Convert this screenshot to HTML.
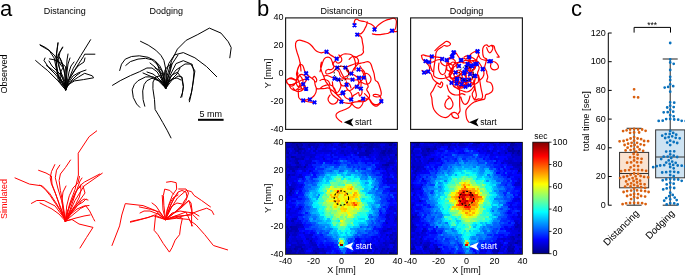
<!DOCTYPE html>
<html><head><meta charset="utf-8"><style>
html,body{margin:0;padding:0;background:#fff;width:685px;height:275px;overflow:hidden}
svg{display:block;will-change:transform}
text{font-family:"Liberation Sans",sans-serif}
</style></head><body>
<svg width="685" height="275" viewBox="0 0 685 275">
<text x="0" y="15.9" font-size="22" text-anchor="start" fill="#000">a</text>
<text x="257" y="15.9" font-size="22" text-anchor="start" fill="#000">b</text>
<text x="571" y="15.9" font-size="22" text-anchor="start" fill="#000">c</text>
<text x="64.8" y="14.1" font-size="9" text-anchor="middle" fill="#000">Distancing</text>
<text x="166.2" y="14.1" font-size="9" text-anchor="middle" fill="#000">Dodging</text>
<text x="7.4" y="74" font-size="9" text-anchor="middle" fill="#000" transform="rotate(-90 7.4 74)">Observed</text>
<text x="7.4" y="199" font-size="9" text-anchor="middle" fill="#ff0000" transform="rotate(-90 7.4 199)">Simulated</text>
<rect x="198" y="118.8" width="25.6" height="2" fill="#000"/>
<text x="210.8" y="116.8" font-size="9" text-anchor="middle" fill="#000">5 mm</text>
<text x="341.5" y="14.1" font-size="9" text-anchor="middle" fill="#000">Distancing</text>
<text x="466.5" y="14.1" font-size="9" text-anchor="middle" fill="#000">Dodging</text>
<text x="283.5" y="20.2" font-size="9" text-anchor="end" fill="#000">40</text>
<text x="283.5" y="48.2" font-size="9" text-anchor="end" fill="#000">20</text>
<text x="283.5" y="76.2" font-size="9" text-anchor="end" fill="#000">0</text>
<text x="283.5" y="104.2" font-size="9" text-anchor="end" fill="#000">-20</text>
<text x="283.5" y="132.2" font-size="9" text-anchor="end" fill="#000">-40</text>
<text x="271.0" y="73.5" font-size="9.4" text-anchor="middle" fill="#000" transform="rotate(-90 271.0 73.5)">Y [mm]</text>
<text x="283.5" y="145.0" font-size="9" text-anchor="end" fill="#000">40</text>
<text x="283.5" y="173.0" font-size="9" text-anchor="end" fill="#000">20</text>
<text x="283.5" y="201.0" font-size="9" text-anchor="end" fill="#000">0</text>
<text x="283.5" y="229.0" font-size="9" text-anchor="end" fill="#000">-20</text>
<text x="283.5" y="257.0" font-size="9" text-anchor="end" fill="#000">-40</text>
<text x="271.0" y="198.3" font-size="9.4" text-anchor="middle" fill="#000" transform="rotate(-90 271.0 198.3)">Y [mm]</text>
<text x="285.5" y="264.2" font-size="9" text-anchor="middle" fill="#000">-40</text>
<text x="313.5" y="264.2" font-size="9" text-anchor="middle" fill="#000">-20</text>
<text x="341.5" y="264.2" font-size="9" text-anchor="middle" fill="#000">0</text>
<text x="369.5" y="264.2" font-size="9" text-anchor="middle" fill="#000">20</text>
<text x="397.5" y="264.2" font-size="9" text-anchor="middle" fill="#000">40</text>
<text x="341.5" y="272.8" font-size="9" text-anchor="middle" fill="#000">X [mm]</text>
<text x="410.5" y="264.2" font-size="9" text-anchor="middle" fill="#000">-40</text>
<text x="438.5" y="264.2" font-size="9" text-anchor="middle" fill="#000">-20</text>
<text x="466.5" y="264.2" font-size="9" text-anchor="middle" fill="#000">0</text>
<text x="494.5" y="264.2" font-size="9" text-anchor="middle" fill="#000">20</text>
<text x="522.5" y="264.2" font-size="9" text-anchor="middle" fill="#000">40</text>
<text x="466.5" y="272.8" font-size="9" text-anchor="middle" fill="#000">X [mm]</text>
<g transform="translate(285.5 142.3) scale(2.3333 2.0000)" shape-rendering="crispEdges">
<path fill="#000090" d="M24 0h1v1h-1zM45 0h1v1h-1zM4.5 1h1v1h-1zM44.5 1h1v1h-1zM5 2h1v1h-1zM5.5 3h1v1h-1zM47 6h1v1h-1zM44.5 55h1v1h-1z"/>
<path fill="#0000a0" d="M3 0h1v1h-1zM6 0h1v1h-1zM27 0h1v1h-1zM31 0h1v1h-1zM36 0h2v1h-2zM44 0h1v1h-1zM6.5 1h1v1h-1zM9.5 1h1v1h-1zM30.5 1h1v1h-1zM33.5 1h2v1h-2zM36.5 1h1v1h-1zM46.5 1h1v1h-1zM31 2h2v1h-2zM36 2h1v1h-1zM0 3h0.5v1h-0.5zM3.5 3h1v1h-1zM6.5 3h1v1h-1zM47.5 3h0.5v1h-0.5zM5 4h1v1h-1zM34 4h1v1h-1zM42 4h1v1h-1zM44 4h1v1h-1zM0.5 5h1v1h-1zM41.5 5h1v1h-1zM2.5 7h1v1h-1zM5 10h1v1h-1zM42.5 11h2v1h-2zM5 12h1v1h-1zM8 12h1v1h-1zM0 13h0.5v1h-0.5zM1 16h1v1h-1zM2 24h1v1h-1zM2 42h1v1h-1zM0.5 45h1v1h-1zM0 46h1v1h-1zM0 47h1.5v1h-1.5zM0 48h1v1h-1zM46 50h1v1h-1zM0 53h0.5v1h-0.5zM3.5 53h1v1h-1zM6.5 53h1v1h-1zM0 54h3v1h-3zM0.5 55h2v1h-2zM12.5 55h1v1h-1zM45.5 55h1v1h-1z"/>
<path fill="#0000b0" d="M4 0h2v1h-2zM10 0h3v1h-3zM17 0h3v1h-3zM25 0h1v1h-1zM28 0h1v1h-1zM39 0h2v1h-2zM43 0h1v1h-1zM0 1h0.5v1h-0.5zM2.5 1h2v1h-2zM5.5 1h1v1h-1zM10.5 1h2v1h-2zM13.5 1h1v1h-1zM23.5 1h1v1h-1zM27.5 1h2v1h-2zM31.5 1h1v1h-1zM35.5 1h1v1h-1zM37.5 1h2v1h-2zM0 2h2v1h-2zM3 2h2v1h-2zM6 2h1v1h-1zM10 2h1v1h-1zM13 2h1v1h-1zM25 2h1v1h-1zM35 2h1v1h-1zM37 2h1v1h-1zM39 2h1v1h-1zM4.5 3h1v1h-1zM7.5 3h1v1h-1zM12.5 3h1v1h-1zM31.5 3h1v1h-1zM34.5 3h3v1h-3zM42.5 3h1v1h-1zM44.5 3h1v1h-1zM0 4h1v1h-1zM4 4h1v1h-1zM35 4h1v1h-1zM41 4h1v1h-1zM45 4h1v1h-1zM0 5h0.5v1h-0.5zM5.5 5h1v1h-1zM34.5 5h2v1h-2zM40.5 5h1v1h-1zM43.5 5h2v1h-2zM47.5 5h0.5v1h-0.5zM34 6h2v1h-2zM42 6h1v1h-1zM0.5 7h1v1h-1zM3.5 7h1v1h-1zM4 8h2v1h-2zM7 8h1v1h-1zM4.5 9h1v1h-1zM4 10h1v1h-1zM44 10h2v1h-2zM0 11h0.5v1h-0.5zM41.5 11h1v1h-1zM0 12h3v1h-3zM4 12h1v1h-1zM1.5 13h2v1h-2zM3 14h1v1h-1zM0.5 17h1v1h-1zM0 18h1v1h-1zM1.5 23h2v1h-2zM1.5 25h1v1h-1zM47 38h1v1h-1zM2.5 39h1v1h-1zM0 42h1v1h-1zM3 42h2v1h-2zM0.5 43h1v1h-1zM2.5 43h3v1h-3zM1 44h2v1h-2zM4 44h1v1h-1zM1 46h1v1h-1zM45 46h1v1h-1zM47.5 47h0.5v1h-0.5zM45 48h1v1h-1zM47 48h1v1h-1zM0 49h1.5v1h-1.5zM10.5 49h1v1h-1zM46.5 49h1v1h-1zM45 50h1v1h-1zM4 52h3v1h-3zM46 52h1v1h-1zM1.5 53h1v1h-1zM4.5 53h1v1h-1zM13.5 53h1v1h-1zM35.5 53h1v1h-1zM41.5 53h1v1h-1zM43.5 53h1v1h-1zM4 54h1v1h-1zM6 54h2v1h-2zM12 54h1v1h-1zM41 54h1v1h-1zM43 54h1v1h-1zM46 54h1v1h-1zM0 55h0.5v1h-0.5zM2.5 55h2v1h-2zM5.5 55h1v1h-1zM40.5 55h1v1h-1zM46.5 55h1.5v1h-1.5z"/>
<path fill="#0000c0" d="M0 0h1v1h-1zM2 0h1v1h-1zM7 0h3v1h-3zM13 0h2v1h-2zM16 0h1v1h-1zM23 0h1v1h-1zM29 0h2v1h-2zM32 0h1v1h-1zM34 0h2v1h-2zM38 0h1v1h-1zM41 0h2v1h-2zM46 0h1v1h-1zM0.5 1h2v1h-2zM8.5 1h1v1h-1zM12.5 1h1v1h-1zM16.5 1h1v1h-1zM19.5 1h1v1h-1zM22.5 1h1v1h-1zM26.5 1h1v1h-1zM29.5 1h1v1h-1zM32.5 1h1v1h-1zM39.5 1h1v1h-1zM42.5 1h2v1h-2zM45.5 1h1v1h-1zM47.5 1h0.5v1h-0.5zM2 2h1v1h-1zM9 2h1v1h-1zM12 2h1v1h-1zM24 2h1v1h-1zM28 2h2v1h-2zM33 2h2v1h-2zM38 2h1v1h-1zM40 2h1v1h-1zM42 2h2v1h-2zM45 2h2v1h-2zM28.5 3h1v1h-1zM30.5 3h1v1h-1zM39.5 3h2v1h-2zM43.5 3h1v1h-1zM1 4h1v1h-1zM6 4h1v1h-1zM8 4h1v1h-1zM12 4h1v1h-1zM24 4h1v1h-1zM36 4h2v1h-2zM43 4h1v1h-1zM46 4h2v1h-2zM3.5 5h1v1h-1zM7.5 5h1v1h-1zM29.5 5h1v1h-1zM31.5 5h3v1h-3zM42.5 5h1v1h-1zM45.5 5h2v1h-2zM1 6h1v1h-1zM25 6h1v1h-1zM31 6h3v1h-3zM40 6h2v1h-2zM44 6h1v1h-1zM0 7h0.5v1h-0.5zM6.5 7h2v1h-2zM10.5 7h1v1h-1zM40.5 7h1v1h-1zM44.5 7h1v1h-1zM46.5 7h1.5v1h-1.5zM1 8h1v1h-1zM6 8h1v1h-1zM41 8h1v1h-1zM45 8h2v1h-2zM1.5 9h1v1h-1zM3.5 9h1v1h-1zM44.5 9h2v1h-2zM0 10h1v1h-1zM43 10h1v1h-1zM46 10h1v1h-1zM0.5 11h2v1h-2zM4.5 11h2v1h-2zM8.5 11h1v1h-1zM3 12h1v1h-1zM6 12h1v1h-1zM43 12h1v1h-1zM3.5 13h2v1h-2zM42.5 13h1v1h-1zM45.5 13h1v1h-1zM47.5 13h0.5v1h-0.5zM1 14h1v1h-1zM0 15h0.5v1h-0.5zM47.5 15h0.5v1h-0.5zM0 16h1v1h-1zM3 16h1v1h-1zM0 19h0.5v1h-0.5zM0 20h1v1h-1zM0.5 21h1v1h-1zM1 22h2v1h-2zM0 23h0.5v1h-0.5zM2 26h1v1h-1zM47.5 37h0.5v1h-0.5zM3 38h2v1h-2zM43 40h1v1h-1zM4.5 41h2v1h-2zM5 42h1v1h-1zM43.5 43h2v1h-2zM0 44h1v1h-1zM3 44h1v1h-1zM5 44h1v1h-1zM42 44h1v1h-1zM0 45h0.5v1h-0.5zM3.5 45h1v1h-1zM45.5 45h2v1h-2zM3 46h2v1h-2zM43 46h1v1h-1zM47 46h1v1h-1zM44.5 47h1v1h-1zM9 48h1v1h-1zM4.5 49h1v1h-1zM6.5 49h1v1h-1zM45.5 49h1v1h-1zM47.5 49h0.5v1h-0.5zM0 50h1v1h-1zM5 50h1v1h-1zM11 50h1v1h-1zM42 50h1v1h-1zM47 50h1v1h-1zM2.5 51h2v1h-2zM5.5 51h3v1h-3zM11.5 51h2v1h-2zM42.5 51h1v1h-1zM46.5 51h1v1h-1zM2 52h1v1h-1zM47 52h1v1h-1zM0.5 53h1v1h-1zM2.5 53h1v1h-1zM7.5 53h1v1h-1zM12.5 53h1v1h-1zM15.5 53h1v1h-1zM38.5 53h1v1h-1zM45.5 53h2.5v1h-2.5zM3 54h1v1h-1zM13 54h4v1h-4zM35 54h2v1h-2zM42 54h1v1h-1zM45 54h1v1h-1zM6.5 55h2v1h-2zM11.5 55h1v1h-1zM13.5 55h1v1h-1zM16.5 55h1v1h-1zM28.5 55h2v1h-2zM41.5 55h2v1h-2z"/>
<path fill="#0000d0" d="M1 0h1v1h-1zM15 0h1v1h-1zM20 0h1v1h-1zM26 0h1v1h-1zM7.5 1h1v1h-1zM14.5 1h1v1h-1zM17.5 1h1v1h-1zM24.5 1h1v1h-1zM7 2h2v1h-2zM14 2h1v1h-1zM17 2h1v1h-1zM21 2h1v1h-1zM30 2h1v1h-1zM44 2h1v1h-1zM47 2h1v1h-1zM0.5 3h1v1h-1zM2.5 3h1v1h-1zM8.5 3h1v1h-1zM10.5 3h1v1h-1zM15.5 3h2v1h-2zM22.5 3h1v1h-1zM33.5 3h1v1h-1zM38.5 3h1v1h-1zM41.5 3h1v1h-1zM45.5 3h2v1h-2zM3 4h1v1h-1zM10 4h1v1h-1zM14 4h6v1h-6zM26 4h1v1h-1zM28 4h5v1h-5zM39 4h2v1h-2zM2.5 5h1v1h-1zM6.5 5h1v1h-1zM8.5 5h2v1h-2zM12.5 5h1v1h-1zM19.5 5h1v1h-1zM23.5 5h2v1h-2zM26.5 5h1v1h-1zM36.5 5h1v1h-1zM39.5 5h1v1h-1zM0 6h1v1h-1zM2 6h1v1h-1zM5 6h2v1h-2zM8 6h5v1h-5zM43 6h1v1h-1zM1.5 7h1v1h-1zM4.5 7h2v1h-2zM11.5 7h1v1h-1zM31.5 7h1v1h-1zM35.5 7h1v1h-1zM39.5 7h1v1h-1zM41.5 7h2v1h-2zM45.5 7h1v1h-1zM0 8h1v1h-1zM3 8h1v1h-1zM10 8h1v1h-1zM16 8h1v1h-1zM39 8h2v1h-2zM43 8h1v1h-1zM47 8h1v1h-1zM0 9h1.5v1h-1.5zM2.5 9h1v1h-1zM8.5 9h3v1h-3zM40.5 9h3v1h-3zM3 10h1v1h-1zM9 10h2v1h-2zM44.5 11h2v1h-2zM7 12h1v1h-1zM41 12h2v1h-2zM44 12h1v1h-1zM47 12h1v1h-1zM0.5 13h1v1h-1zM6.5 13h2v1h-2zM39.5 13h1v1h-1zM0 14h1v1h-1zM8 14h1v1h-1zM10 14h1v1h-1zM43 14h1v1h-1zM46 14h2v1h-2zM3.5 15h1v1h-1zM43.5 15h1v1h-1zM2 16h1v1h-1zM6 16h1v1h-1zM44 16h1v1h-1zM0 17h0.5v1h-0.5zM1.5 17h1v1h-1zM5.5 17h2v1h-2zM47.5 17h0.5v1h-0.5zM1 18h1v1h-1zM43 18h3v1h-3zM43.5 19h1v1h-1zM45.5 19h1v1h-1zM3 20h1v1h-1zM45 20h3v1h-3zM0 21h0.5v1h-0.5zM2.5 21h2v1h-2zM3 22h1v1h-1zM0.5 23h1v1h-1zM3.5 23h1v1h-1zM46.5 23h1v1h-1zM0 24h1v1h-1zM45 24h2v1h-2zM2.5 25h1v1h-1zM1 26h1v1h-1zM0 27h0.5v1h-0.5zM0 29h0.5v1h-0.5zM47.5 29h0.5v1h-0.5zM0 30h1v1h-1zM45 32h1v1h-1zM1.5 33h1v1h-1zM5.5 33h1v1h-1zM44.5 33h1v1h-1zM46.5 33h1v1h-1zM1 34h1v1h-1zM47 34h1v1h-1zM43 36h2v1h-2zM43.5 37h1v1h-1zM46.5 37h1v1h-1zM0 38h1v1h-1zM44 38h1v1h-1zM0 39h1.5v1h-1.5zM46.5 39h1.5v1h-1.5zM3 40h1v1h-1zM5 40h1v1h-1zM0 41h1.5v1h-1.5zM2.5 41h2v1h-2zM6.5 41h1v1h-1zM1 42h1v1h-1zM6 42h2v1h-2zM0 43h0.5v1h-0.5zM1.5 43h1v1h-1zM46.5 43h1v1h-1zM43 44h1v1h-1zM1.5 45h2v1h-2zM4.5 45h1v1h-1zM7.5 45h1v1h-1zM47.5 45h0.5v1h-0.5zM10 46h2v1h-2zM46 46h1v1h-1zM3.5 47h1v1h-1zM45.5 47h2v1h-2zM3 48h2v1h-2zM11 48h1v1h-1zM46 48h1v1h-1zM2.5 49h2v1h-2zM5.5 49h1v1h-1zM39.5 49h1v1h-1zM42.5 49h1v1h-1zM44.5 49h1v1h-1zM1 50h2v1h-2zM6 50h1v1h-1zM10 50h1v1h-1zM12 50h1v1h-1zM34 50h1v1h-1zM36 50h1v1h-1zM43 50h2v1h-2zM0 51h0.5v1h-0.5zM4.5 51h1v1h-1zM10.5 51h1v1h-1zM34.5 51h1v1h-1zM37.5 51h1v1h-1zM40.5 51h1v1h-1zM43.5 51h1v1h-1zM47.5 51h0.5v1h-0.5zM0 52h2v1h-2zM3 52h1v1h-1zM8 52h1v1h-1zM10 52h1v1h-1zM12 52h2v1h-2zM36 52h1v1h-1zM38 52h1v1h-1zM40 52h4v1h-4zM5.5 53h1v1h-1zM8.5 53h1v1h-1zM11.5 53h1v1h-1zM14.5 53h1v1h-1zM40.5 53h1v1h-1zM42.5 53h1v1h-1zM44.5 53h1v1h-1zM5 54h1v1h-1zM8 54h1v1h-1zM17 54h1v1h-1zM31 54h1v1h-1zM33 54h1v1h-1zM38 54h1v1h-1zM40 54h1v1h-1zM44 54h1v1h-1zM47 54h1v1h-1zM4.5 55h1v1h-1zM10.5 55h1v1h-1zM15.5 55h1v1h-1zM31.5 55h2v1h-2zM37.5 55h1v1h-1z"/>
<path fill="#0000e1" d="M33 0h1v1h-1zM47 0h1v1h-1zM15.5 1h1v1h-1zM18.5 1h1v1h-1zM20.5 1h1v1h-1zM25.5 1h1v1h-1zM40.5 1h2v1h-2zM16 2h1v1h-1zM18 2h2v1h-2zM22 2h2v1h-2zM26 2h1v1h-1zM41 2h1v1h-1zM1.5 3h1v1h-1zM11.5 3h1v1h-1zM13.5 3h1v1h-1zM17.5 3h1v1h-1zM21.5 3h1v1h-1zM23.5 3h2v1h-2zM26.5 3h2v1h-2zM32.5 3h1v1h-1zM7 4h1v1h-1zM9 4h1v1h-1zM21 4h1v1h-1zM23 4h1v1h-1zM25 4h1v1h-1zM27 4h1v1h-1zM33 4h1v1h-1zM38 4h1v1h-1zM1.5 5h1v1h-1zM4.5 5h1v1h-1zM10.5 5h1v1h-1zM13.5 5h2v1h-2zM16.5 5h2v1h-2zM20.5 5h1v1h-1zM22.5 5h1v1h-1zM25.5 5h1v1h-1zM28.5 5h1v1h-1zM37.5 5h2v1h-2zM3 6h2v1h-2zM7 6h1v1h-1zM19 6h1v1h-1zM21 6h1v1h-1zM26 6h1v1h-1zM30 6h1v1h-1zM36 6h2v1h-2zM39 6h1v1h-1zM45 6h2v1h-2zM8.5 7h2v1h-2zM15.5 7h1v1h-1zM19.5 7h1v1h-1zM34.5 7h1v1h-1zM38.5 7h1v1h-1zM43.5 7h1v1h-1zM2 8h1v1h-1zM8 8h1v1h-1zM11 8h2v1h-2zM42 8h1v1h-1zM5.5 9h1v1h-1zM36.5 9h1v1h-1zM43.5 9h1v1h-1zM46.5 9h1v1h-1zM1 10h2v1h-2zM6 10h1v1h-1zM8 10h1v1h-1zM12 10h1v1h-1zM40 10h3v1h-3zM47 10h1v1h-1zM2.5 11h2v1h-2zM6.5 11h1v1h-1zM40.5 11h1v1h-1zM47.5 11h0.5v1h-0.5zM9 12h1v1h-1zM11 12h1v1h-1zM40 12h1v1h-1zM46 12h1v1h-1zM5.5 13h1v1h-1zM8.5 13h1v1h-1zM41.5 13h1v1h-1zM43.5 13h1v1h-1zM46.5 13h1v1h-1zM2 14h1v1h-1zM4 14h1v1h-1zM7 14h1v1h-1zM44 14h2v1h-2zM0.5 15h3v1h-3zM41.5 15h1v1h-1zM46.5 15h1v1h-1zM4 16h1v1h-1zM43 16h1v1h-1zM47 16h1v1h-1zM4.5 17h1v1h-1zM43.5 17h1v1h-1zM46.5 17h1v1h-1zM2 18h3v1h-3zM1.5 19h2v1h-2zM44.5 19h1v1h-1zM46.5 19h1v1h-1zM4 20h1v1h-1zM43 20h2v1h-2zM4.5 21h1v1h-1zM6.5 21h1v1h-1zM0 22h1v1h-1zM4 22h1v1h-1zM6 22h1v1h-1zM1 24h1v1h-1zM3 24h1v1h-1zM47 24h1v1h-1zM0.5 25h1v1h-1zM0 26h1v1h-1zM47 26h1v1h-1zM4.5 27h1v1h-1zM47.5 27h0.5v1h-0.5zM47 28h1v1h-1zM0.5 29h1v1h-1zM2.5 29h1v1h-1zM3 32h1v1h-1zM6 32h1v1h-1zM46 32h1v1h-1zM0 33h0.5v1h-0.5zM45.5 33h1v1h-1zM4 34h1v1h-1zM46 34h1v1h-1zM0 35h4.5v1h-4.5zM44.5 35h1v1h-1zM47.5 35h0.5v1h-0.5zM2 36h1v1h-1zM46 36h2v1h-2zM3.5 37h2v1h-2zM42.5 37h1v1h-1zM2 38h1v1h-1zM43 38h1v1h-1zM46 38h1v1h-1zM1.5 39h1v1h-1zM3.5 39h1v1h-1zM5.5 39h1v1h-1zM42.5 39h1v1h-1zM0 40h3v1h-3zM4 40h1v1h-1zM6 40h1v1h-1zM46 40h2v1h-2zM1.5 41h1v1h-1zM47.5 41h0.5v1h-0.5zM42 42h1v1h-1zM45 42h3v1h-3zM41.5 43h2v1h-2zM45.5 43h1v1h-1zM47.5 43h0.5v1h-0.5zM41 44h1v1h-1zM44 44h2v1h-2zM47 44h1v1h-1zM5.5 45h1v1h-1zM40.5 45h2v1h-2zM2 46h1v1h-1zM5 46h1v1h-1zM8 46h2v1h-2zM41 46h1v1h-1zM44 46h1v1h-1zM2.5 47h1v1h-1zM5.5 47h1v1h-1zM8.5 47h3v1h-3zM40.5 47h1v1h-1zM42.5 47h1v1h-1zM1 48h2v1h-2zM5 48h2v1h-2zM10 48h1v1h-1zM42 48h1v1h-1zM1.5 49h1v1h-1zM9.5 49h1v1h-1zM11.5 49h1v1h-1zM30.5 49h1v1h-1zM43.5 49h1v1h-1zM3 50h2v1h-2zM7 50h1v1h-1zM35 50h1v1h-1zM40 50h2v1h-2zM0.5 51h1v1h-1zM8.5 51h2v1h-2zM15.5 51h1v1h-1zM33.5 51h1v1h-1zM36.5 51h1v1h-1zM39.5 51h1v1h-1zM41.5 51h1v1h-1zM45.5 51h1v1h-1zM7 52h1v1h-1zM9 52h1v1h-1zM11 52h1v1h-1zM18 52h1v1h-1zM33 52h3v1h-3zM37 52h1v1h-1zM39 52h1v1h-1zM44 52h1v1h-1zM16.5 53h3v1h-3zM34.5 53h1v1h-1zM37.5 53h1v1h-1zM39.5 53h1v1h-1zM11 54h1v1h-1zM30 54h1v1h-1zM39 54h1v1h-1zM8.5 55h2v1h-2zM14.5 55h1v1h-1zM27.5 55h1v1h-1zM30.5 55h1v1h-1zM33.5 55h2v1h-2zM38.5 55h1v1h-1zM43.5 55h1v1h-1z"/>
<path fill="#0000f1" d="M21 0h2v1h-2zM21.5 1h1v1h-1zM11 2h1v1h-1zM15 2h1v1h-1zM20 2h1v1h-1zM27 2h1v1h-1zM14.5 3h1v1h-1zM18.5 3h2v1h-2zM25.5 3h1v1h-1zM29.5 3h1v1h-1zM37.5 3h1v1h-1zM2 4h1v1h-1zM11 4h1v1h-1zM13 4h1v1h-1zM20 4h1v1h-1zM22 4h1v1h-1zM11.5 5h1v1h-1zM15.5 5h1v1h-1zM18.5 5h1v1h-1zM27.5 5h1v1h-1zM13 6h2v1h-2zM16 6h1v1h-1zM22 6h3v1h-3zM27 6h1v1h-1zM38 6h1v1h-1zM14.5 7h1v1h-1zM22.5 7h1v1h-1zM27.5 7h1v1h-1zM32.5 7h1v1h-1zM36.5 7h1v1h-1zM9 8h1v1h-1zM13 8h2v1h-2zM21 8h2v1h-2zM26 8h1v1h-1zM29 8h1v1h-1zM36 8h2v1h-2zM44 8h1v1h-1zM6.5 9h2v1h-2zM16.5 9h2v1h-2zM19.5 9h1v1h-1zM33.5 9h3v1h-3zM38.5 9h2v1h-2zM7 10h1v1h-1zM11 10h1v1h-1zM34 10h1v1h-1zM7.5 11h1v1h-1zM9.5 11h2v1h-2zM38.5 11h2v1h-2zM46.5 11h1v1h-1zM10 12h1v1h-1zM39 12h1v1h-1zM45 12h1v1h-1zM38.5 13h1v1h-1zM44.5 13h1v1h-1zM11 14h1v1h-1zM4.5 15h1v1h-1zM6.5 15h1v1h-1zM9.5 15h1v1h-1zM42.5 15h1v1h-1zM44.5 15h2v1h-2zM5 16h1v1h-1zM42 16h1v1h-1zM46 16h1v1h-1zM2.5 17h2v1h-2zM41.5 17h1v1h-1zM7 18h1v1h-1zM42 18h1v1h-1zM47 18h1v1h-1zM0.5 19h1v1h-1zM4.5 19h1v1h-1zM41.5 19h1v1h-1zM47.5 19h0.5v1h-0.5zM2 20h1v1h-1zM42 20h1v1h-1zM5.5 21h1v1h-1zM43.5 21h1v1h-1zM5 22h1v1h-1zM45 22h1v1h-1zM4.5 23h1v1h-1zM44.5 23h2v1h-2zM47.5 23h0.5v1h-0.5zM6 24h1v1h-1zM0 25h0.5v1h-0.5zM3 26h1v1h-1zM46 26h1v1h-1zM0.5 27h4v1h-4zM0 28h2v1h-2zM45 28h1v1h-1zM3.5 29h1v1h-1zM44.5 29h1v1h-1zM1.5 31h2v1h-2zM46.5 31h1v1h-1zM47 32h1v1h-1zM0.5 33h1v1h-1zM2.5 33h1v1h-1zM4.5 33h1v1h-1zM47.5 33h0.5v1h-0.5zM2 34h2v1h-2zM5 34h1v1h-1zM43 34h3v1h-3zM4.5 35h1v1h-1zM43.5 35h1v1h-1zM45.5 35h1v1h-1zM1 36h1v1h-1zM3 36h4v1h-4zM45 36h1v1h-1zM0.5 37h1v1h-1zM2.5 37h1v1h-1zM44.5 37h2v1h-2zM45 38h1v1h-1zM4.5 39h1v1h-1zM43.5 39h3v1h-3zM42 40h1v1h-1zM44 40h2v1h-2zM42.5 41h4v1h-4zM43 42h1v1h-1zM5.5 43h3v1h-3zM40 44h1v1h-1zM46 44h1v1h-1zM6.5 45h1v1h-1zM10.5 45h2v1h-2zM42.5 45h1v1h-1zM44.5 45h1v1h-1zM42 46h1v1h-1zM1.5 47h1v1h-1zM4.5 47h1v1h-1zM12.5 47h1v1h-1zM37.5 47h2v1h-2zM41.5 47h1v1h-1zM7 48h1v1h-1zM12 48h2v1h-2zM30 48h2v1h-2zM37 48h1v1h-1zM39 48h2v1h-2zM43 48h2v1h-2zM8.5 49h1v1h-1zM34.5 49h1v1h-1zM36.5 49h2v1h-2zM40.5 49h2v1h-2zM9 50h1v1h-1zM30 50h1v1h-1zM39 50h1v1h-1zM14.5 51h1v1h-1zM32.5 51h1v1h-1zM38.5 51h1v1h-1zM44.5 51h1v1h-1zM15 52h2v1h-2zM19 52h1v1h-1zM45 52h1v1h-1zM9.5 53h2v1h-2zM32.5 53h2v1h-2zM36.5 53h1v1h-1zM18 54h2v1h-2zM29 54h1v1h-1zM32 54h1v1h-1zM34 54h1v1h-1zM21.5 55h1v1h-1zM35.5 55h2v1h-2zM39.5 55h1v1h-1z"/>
<path fill="#0002ff" d="M9.5 3h1v1h-1zM21.5 5h1v1h-1zM15 6h1v1h-1zM17 6h1v1h-1zM29 6h1v1h-1zM12.5 7h2v1h-2zM16.5 7h3v1h-3zM23.5 7h3v1h-3zM37.5 7h1v1h-1zM15 8h1v1h-1zM17 8h1v1h-1zM19 8h2v1h-2zM33 8h1v1h-1zM14.5 9h2v1h-2zM18.5 9h1v1h-1zM29.5 9h1v1h-1zM32.5 9h1v1h-1zM37.5 9h1v1h-1zM15 10h1v1h-1zM19 10h1v1h-1zM21 10h1v1h-1zM37 10h1v1h-1zM9.5 13h3v1h-3zM40.5 13h1v1h-1zM5 14h1v1h-1zM9 14h1v1h-1zM42 14h1v1h-1zM5.5 15h1v1h-1zM7.5 15h2v1h-2zM11.5 15h1v1h-1zM40.5 15h1v1h-1zM7 16h2v1h-2zM12 16h1v1h-1zM7.5 17h1v1h-1zM42.5 17h1v1h-1zM44.5 17h1v1h-1zM5 18h1v1h-1zM46 18h1v1h-1zM3.5 19h1v1h-1zM42.5 19h1v1h-1zM1 20h1v1h-1zM5 20h1v1h-1zM44.5 21h3.5v1h-3.5zM47 22h1v1h-1zM5.5 23h1v1h-1zM43.5 23h1v1h-1zM3.5 25h1v1h-1zM5.5 25h1v1h-1zM47.5 25h0.5v1h-0.5zM4 26h2v1h-2zM46.5 27h1v1h-1zM2 28h1v1h-1zM5 28h2v1h-2zM43.5 29h1v1h-1zM45.5 29h2v1h-2zM1 30h2v1h-2zM45 30h1v1h-1zM0.5 31h1v1h-1zM3.5 31h1v1h-1zM44.5 31h2v1h-2zM47.5 31h0.5v1h-0.5zM0 32h1v1h-1zM2 32h1v1h-1zM44 32h1v1h-1zM3.5 33h1v1h-1zM43.5 33h1v1h-1zM0 34h1v1h-1zM40.5 35h1v1h-1zM0 37h0.5v1h-0.5zM1.5 37h1v1h-1zM1 38h1v1h-1zM5 38h1v1h-1zM7.5 41h1v1h-1zM41.5 41h1v1h-1zM46.5 41h1v1h-1zM44 42h1v1h-1zM39.5 43h2v1h-2zM6 44h1v1h-1zM8 44h2v1h-2zM11 44h1v1h-1zM8.5 45h1v1h-1zM43.5 45h1v1h-1zM6 46h2v1h-2zM40 46h1v1h-1zM6.5 47h2v1h-2zM36.5 47h1v1h-1zM43.5 47h1v1h-1zM8 48h1v1h-1zM41 48h1v1h-1zM7.5 49h1v1h-1zM12.5 49h1v1h-1zM31.5 49h1v1h-1zM35.5 49h1v1h-1zM38.5 49h1v1h-1zM8 50h1v1h-1zM13 50h1v1h-1zM15 50h1v1h-1zM31 50h2v1h-2zM37 50h2v1h-2zM1.5 51h1v1h-1zM17.5 51h1v1h-1zM19.5 51h1v1h-1zM29.5 51h2v1h-2zM35.5 51h1v1h-1zM14 52h1v1h-1zM17 52h1v1h-1zM20 52h1v1h-1zM29 52h1v1h-1zM31 52h2v1h-2zM19.5 53h2v1h-2zM28.5 53h1v1h-1zM31.5 53h1v1h-1zM9 54h2v1h-2zM21 54h2v1h-2zM37 54h1v1h-1zM18.5 55h1v1h-1zM22.5 55h1v1h-1zM26.5 55h1v1h-1z"/>
<path fill="#0012ff" d="M20.5 3h1v1h-1zM30.5 5h1v1h-1zM18 6h1v1h-1zM20 6h1v1h-1zM20.5 7h2v1h-2zM26.5 7h1v1h-1zM28.5 7h3v1h-3zM33.5 7h1v1h-1zM18 8h1v1h-1zM24 8h2v1h-2zM27 8h2v1h-2zM30 8h3v1h-3zM34 8h2v1h-2zM38 8h1v1h-1zM11.5 9h1v1h-1zM13.5 9h1v1h-1zM21.5 9h1v1h-1zM27.5 9h1v1h-1zM30.5 9h1v1h-1zM47.5 9h0.5v1h-0.5zM14 10h1v1h-1zM17 10h2v1h-2zM22 10h1v1h-1zM28 10h1v1h-1zM30 10h1v1h-1zM38 10h2v1h-2zM35.5 11h1v1h-1zM12 12h1v1h-1zM33.5 13h1v1h-1zM6 14h1v1h-1zM37 14h2v1h-2zM40 14h2v1h-2zM12.5 15h1v1h-1zM9 16h1v1h-1zM39 16h2v1h-2zM45 16h1v1h-1zM11.5 17h2v1h-2zM8 18h1v1h-1zM7.5 19h1v1h-1zM6 20h2v1h-2zM1.5 21h1v1h-1zM7.5 21h1v1h-1zM41.5 21h1v1h-1zM7 22h1v1h-1zM46 22h1v1h-1zM6.5 23h1v1h-1zM42.5 23h1v1h-1zM4 24h1v1h-1zM42 24h3v1h-3zM6.5 25h1v1h-1zM44.5 25h3v1h-3zM6 26h2v1h-2zM44 26h1v1h-1zM44.5 27h1v1h-1zM3 28h2v1h-2zM43 28h1v1h-1zM46 28h1v1h-1zM1.5 29h1v1h-1zM3 30h1v1h-1zM46 30h2v1h-2zM0 31h0.5v1h-0.5zM5.5 31h1v1h-1zM1 32h1v1h-1zM4 32h2v1h-2zM7 32h1v1h-1zM42 32h1v1h-1zM6.5 33h1v1h-1zM6 34h1v1h-1zM40 34h1v1h-1zM5.5 35h1v1h-1zM8.5 35h1v1h-1zM42.5 35h1v1h-1zM0 36h1v1h-1zM7 36h1v1h-1zM40 36h3v1h-3zM41.5 37h1v1h-1zM7 38h1v1h-1zM6.5 39h1v1h-1zM8 40h1v1h-1zM8.5 41h2v1h-2zM8 42h2v1h-2zM38 42h1v1h-1zM41 42h1v1h-1zM37.5 43h2v1h-2zM7 44h1v1h-1zM10 44h1v1h-1zM9.5 45h1v1h-1zM39.5 45h1v1h-1zM12 46h1v1h-1zM15 46h1v1h-1zM39 46h1v1h-1zM11.5 47h1v1h-1zM13.5 47h1v1h-1zM39.5 47h1v1h-1zM14 48h1v1h-1zM17 48h1v1h-1zM32 48h1v1h-1zM34 48h3v1h-3zM38 48h1v1h-1zM13.5 49h2v1h-2zM29.5 49h1v1h-1zM14 50h1v1h-1zM17 50h4v1h-4zM13.5 51h1v1h-1zM16.5 51h1v1h-1zM18.5 51h1v1h-1zM20.5 51h1v1h-1zM31.5 51h1v1h-1zM30 52h1v1h-1zM21.5 53h1v1h-1zM26.5 53h1v1h-1zM29.5 53h1v1h-1zM26 54h2v1h-2zM17.5 55h1v1h-1zM20.5 55h1v1h-1z"/>
<path fill="#0022ff" d="M28 6h1v1h-1zM23 8h1v1h-1zM12.5 9h1v1h-1zM20.5 9h1v1h-1zM26.5 9h1v1h-1zM28.5 9h1v1h-1zM31.5 9h1v1h-1zM13 10h1v1h-1zM20 10h1v1h-1zM23 10h1v1h-1zM29 10h1v1h-1zM33 10h1v1h-1zM35 10h2v1h-2zM11.5 11h4v1h-4zM21.5 11h2v1h-2zM26.5 11h1v1h-1zM34.5 11h1v1h-1zM29 12h1v1h-1zM31 12h1v1h-1zM37 12h1v1h-1zM13.5 13h3v1h-3zM32.5 13h1v1h-1zM37.5 13h1v1h-1zM12 14h2v1h-2zM39 14h1v1h-1zM10.5 15h1v1h-1zM13.5 15h1v1h-1zM37.5 15h1v1h-1zM10 16h1v1h-1zM41 16h1v1h-1zM10.5 17h1v1h-1zM45.5 17h1v1h-1zM6 18h1v1h-1zM11 18h1v1h-1zM41 18h1v1h-1zM6.5 19h1v1h-1zM41 20h1v1h-1zM40.5 21h1v1h-1zM42.5 21h1v1h-1zM40 22h2v1h-2zM5 24h1v1h-1zM41.5 25h2v1h-2zM5.5 27h2v1h-2zM43.5 27h1v1h-1zM7 28h1v1h-1zM44 28h1v1h-1zM5.5 29h1v1h-1zM4 30h1v1h-1zM44 30h1v1h-1zM6.5 31h1v1h-1zM43.5 31h1v1h-1zM42.5 33h1v1h-1zM46.5 35h1v1h-1zM5.5 37h2v1h-2zM40.5 37h1v1h-1zM6 38h1v1h-1zM41 38h2v1h-2zM8.5 39h1v1h-1zM39.5 39h1v1h-1zM7 40h1v1h-1zM41 40h1v1h-1zM10.5 41h1v1h-1zM40.5 41h1v1h-1zM12 44h1v1h-1zM37 44h1v1h-1zM39 44h1v1h-1zM12.5 45h1v1h-1zM13 46h2v1h-2zM34 46h1v1h-1zM38 46h1v1h-1zM14.5 47h2v1h-2zM30.5 47h1v1h-1zM33.5 47h1v1h-1zM35.5 47h1v1h-1zM15 48h2v1h-2zM33 48h1v1h-1zM15.5 49h1v1h-1zM17.5 49h1v1h-1zM33.5 49h1v1h-1zM16 50h1v1h-1zM27 50h1v1h-1zM33 50h1v1h-1zM21.5 51h1v1h-1zM21 52h2v1h-2zM27.5 53h1v1h-1zM30.5 53h1v1h-1zM20 54h1v1h-1zM23 54h1v1h-1zM19.5 55h1v1h-1zM23.5 55h1v1h-1zM25.5 55h1v1h-1z"/>
<path fill="#0033ff" d="M22.5 9h1v1h-1zM25 10h2v1h-2zM32 10h1v1h-1zM18.5 11h3v1h-3zM27.5 11h2v1h-2zM30.5 11h1v1h-1zM32.5 11h2v1h-2zM36.5 11h1v1h-1zM13 12h2v1h-2zM17 12h1v1h-1zM21 12h1v1h-1zM27 12h1v1h-1zM33 12h2v1h-2zM38 12h1v1h-1zM30.5 13h1v1h-1zM36.5 13h1v1h-1zM36.5 15h1v1h-1zM38.5 15h2v1h-2zM38 16h1v1h-1zM10 18h1v1h-1zM40 18h1v1h-1zM8.5 19h1v1h-1zM11.5 19h1v1h-1zM40.5 19h1v1h-1zM40 20h1v1h-1zM44 22h1v1h-1zM7.5 23h1v1h-1zM41.5 23h1v1h-1zM7 24h2v1h-2zM7.5 25h1v1h-1zM43.5 25h1v1h-1zM43 26h1v1h-1zM7.5 27h1v1h-1zM40.5 27h1v1h-1zM42.5 27h1v1h-1zM8 28h1v1h-1zM42 28h1v1h-1zM4.5 29h1v1h-1zM6.5 29h2v1h-2zM41.5 29h2v1h-2zM6 30h2v1h-2zM41 30h1v1h-1zM43 30h1v1h-1zM4.5 31h1v1h-1zM7.5 31h1v1h-1zM42.5 31h1v1h-1zM43 32h1v1h-1zM7.5 33h1v1h-1zM40.5 33h1v1h-1zM7 34h1v1h-1zM41 34h1v1h-1zM6.5 35h1v1h-1zM41.5 35h1v1h-1zM8 36h1v1h-1zM39.5 37h1v1h-1zM8 38h1v1h-1zM40 38h1v1h-1zM7.5 39h1v1h-1zM9 40h2v1h-2zM40 40h1v1h-1zM10 42h1v1h-1zM39 42h2v1h-2zM8.5 43h2v1h-2zM11.5 43h1v1h-1zM14.5 45h1v1h-1zM35.5 45h1v1h-1zM37.5 45h1v1h-1zM33 46h1v1h-1zM35 46h1v1h-1zM37 46h1v1h-1zM32.5 47h1v1h-1zM34.5 47h1v1h-1zM18 48h1v1h-1zM18.5 49h1v1h-1zM27.5 49h1v1h-1zM32.5 49h1v1h-1zM22.5 53h1v1h-1zM28 54h1v1h-1z"/>
<path fill="#0043ff" d="M24.5 9h1v1h-1zM24 10h1v1h-1zM27 10h1v1h-1zM31 10h1v1h-1zM16.5 11h2v1h-2zM29.5 11h1v1h-1zM31.5 11h1v1h-1zM37.5 11h1v1h-1zM22 12h1v1h-1zM30 12h1v1h-1zM32 12h1v1h-1zM35 12h2v1h-2zM12.5 13h1v1h-1zM28.5 13h1v1h-1zM14 14h2v1h-2zM35 14h2v1h-2zM14.5 15h2v1h-2zM33.5 15h1v1h-1zM13 16h2v1h-2zM37 16h1v1h-1zM39.5 17h2v1h-2zM39 18h1v1h-1zM5.5 19h1v1h-1zM10.5 19h1v1h-1zM39.5 19h1v1h-1zM9 20h1v1h-1zM11 20h1v1h-1zM39.5 21h1v1h-1zM42 22h2v1h-2zM39.5 23h2v1h-2zM4.5 25h1v1h-1zM42 26h1v1h-1zM45 26h1v1h-1zM41.5 27h1v1h-1zM45.5 27h1v1h-1zM41 28h1v1h-1zM40.5 29h1v1h-1zM5 30h1v1h-1zM42 30h1v1h-1zM9 32h1v1h-1zM41 32h1v1h-1zM8 34h1v1h-1zM42 34h1v1h-1zM39.5 35h1v1h-1zM9 36h1v1h-1zM8.5 37h1v1h-1zM9 38h1v1h-1zM39 38h1v1h-1zM38.5 39h1v1h-1zM40.5 39h2v1h-2zM37 40h1v1h-1zM39 40h1v1h-1zM11.5 41h1v1h-1zM36.5 41h1v1h-1zM38.5 41h2v1h-2zM35 42h1v1h-1zM37 42h1v1h-1zM10.5 43h1v1h-1zM12.5 43h1v1h-1zM15 44h1v1h-1zM34 44h1v1h-1zM36 44h1v1h-1zM38 44h1v1h-1zM17.5 45h1v1h-1zM36.5 45h1v1h-1zM38.5 45h1v1h-1zM16 46h1v1h-1zM36 46h1v1h-1zM16.5 47h2v1h-2zM29.5 47h1v1h-1zM31.5 47h1v1h-1zM19 48h1v1h-1zM28 48h1v1h-1zM16.5 49h1v1h-1zM19.5 49h1v1h-1zM21 50h1v1h-1zM29 50h1v1h-1zM28.5 51h1v1h-1zM28 52h1v1h-1z"/>
<path fill="#0053ff" d="M25.5 9h1v1h-1zM15.5 11h1v1h-1zM23.5 11h1v1h-1zM15 12h2v1h-2zM18 12h1v1h-1zM26 12h1v1h-1zM28 12h1v1h-1zM16.5 13h1v1h-1zM31.5 13h1v1h-1zM34.5 13h1v1h-1zM19 14h1v1h-1zM23 14h1v1h-1zM29 14h1v1h-1zM34 14h1v1h-1zM32.5 15h1v1h-1zM35.5 15h1v1h-1zM11 16h1v1h-1zM34 16h1v1h-1zM36 16h1v1h-1zM8.5 17h2v1h-2zM13.5 17h1v1h-1zM37.5 17h2v1h-2zM9 18h1v1h-1zM9.5 19h1v1h-1zM12.5 19h1v1h-1zM8 20h1v1h-1zM10 20h1v1h-1zM8.5 21h1v1h-1zM11.5 21h1v1h-1zM8 22h3v1h-3zM38 22h1v1h-1zM8.5 23h1v1h-1zM9 24h1v1h-1zM39 24h3v1h-3zM40 26h2v1h-2zM9 28h1v1h-1zM40.5 31h2v1h-2zM8 32h1v1h-1zM8.5 33h2v1h-2zM39.5 33h1v1h-1zM41.5 33h1v1h-1zM7.5 35h1v1h-1zM9.5 35h1v1h-1zM10 36h1v1h-1zM7.5 37h1v1h-1zM36.5 37h1v1h-1zM9.5 39h1v1h-1zM36.5 39h1v1h-1zM11 40h2v1h-2zM37.5 41h1v1h-1zM11 42h3v1h-3zM32 42h1v1h-1zM13.5 43h1v1h-1zM36.5 43h1v1h-1zM13 44h2v1h-2zM16 44h1v1h-1zM35 44h1v1h-1zM16.5 45h1v1h-1zM30.5 45h2v1h-2zM17 46h1v1h-1zM30 46h1v1h-1zM32 46h1v1h-1zM18.5 47h1v1h-1zM27 48h1v1h-1zM20.5 49h2v1h-2zM28.5 49h1v1h-1zM28 50h1v1h-1zM27.5 51h1v1h-1zM27 52h1v1h-1zM25.5 53h1v1h-1z"/>
<path fill="#0063ff" d="M16 10h1v1h-1zM24.5 11h2v1h-2zM20.5 13h2v1h-2zM29.5 13h1v1h-1zM16 14h1v1h-1zM18 14h1v1h-1zM24 14h1v1h-1zM28 14h1v1h-1zM31 14h1v1h-1zM33 14h1v1h-1zM34.5 15h1v1h-1zM15 16h1v1h-1zM36.5 17h1v1h-1zM12 18h1v1h-1zM13.5 19h1v1h-1zM38.5 19h1v1h-1zM12 20h1v1h-1zM12.5 21h1v1h-1zM37.5 23h1v1h-1zM38.5 25h1v1h-1zM8 26h1v1h-1zM39 26h1v1h-1zM8.5 27h1v1h-1zM8.5 29h1v1h-1zM8 30h1v1h-1zM40 30h1v1h-1zM8.5 31h1v1h-1zM10 32h1v1h-1zM9 34h1v1h-1zM9.5 37h1v1h-1zM38.5 37h1v1h-1zM12 38h1v1h-1zM12.5 41h2v1h-2zM35.5 41h1v1h-1zM36 42h1v1h-1zM14.5 43h1v1h-1zM18 44h1v1h-1zM31 44h1v1h-1zM15.5 45h1v1h-1zM32.5 45h1v1h-1zM34.5 45h1v1h-1zM20 48h1v1h-1zM29 48h1v1h-1zM26.5 49h1v1h-1zM24 54h2v1h-2z"/>
<path fill="#0073ff" d="M23.5 9h1v1h-1zM19 12h1v1h-1zM24 12h1v1h-1zM17.5 13h1v1h-1zM19.5 13h1v1h-1zM23.5 13h2v1h-2zM26.5 13h2v1h-2zM35.5 13h1v1h-1zM17 14h1v1h-1zM16.5 15h1v1h-1zM16 16h1v1h-1zM33 16h1v1h-1zM34.5 17h1v1h-1zM13 18h1v1h-1zM34 18h1v1h-1zM37 18h1v1h-1zM39 20h1v1h-1zM9.5 21h2v1h-2zM38.5 21h1v1h-1zM39 22h1v1h-1zM9.5 23h2v1h-2zM8.5 25h1v1h-1zM39.5 25h2v1h-2zM39.5 27h1v1h-1zM9.5 29h1v1h-1zM39.5 29h1v1h-1zM9 30h1v1h-1zM39 30h1v1h-1zM37.5 33h1v1h-1zM38.5 35h1v1h-1zM36 36h1v1h-1zM39 36h1v1h-1zM11.5 37h2v1h-2zM35.5 37h1v1h-1zM37.5 37h1v1h-1zM38 38h1v1h-1zM37.5 39h1v1h-1zM36 40h1v1h-1zM38 40h1v1h-1zM14 42h3v1h-3zM33 42h2v1h-2zM18.5 43h1v1h-1zM30.5 43h1v1h-1zM34.5 43h1v1h-1zM17 44h1v1h-1zM32 44h2v1h-2zM13.5 45h1v1h-1zM33.5 45h1v1h-1zM31 46h1v1h-1zM19.5 47h1v1h-1zM28.5 47h1v1h-1zM22 50h1v1h-1zM26 52h1v1h-1zM24.5 53h1v1h-1zM24.5 55h1v1h-1z"/>
<path fill="#0084ff" d="M20 12h1v1h-1zM23 12h1v1h-1zM25 12h1v1h-1zM18.5 13h1v1h-1zM22.5 13h1v1h-1zM25.5 13h1v1h-1zM20 14h1v1h-1zM27 14h1v1h-1zM32 14h1v1h-1zM29.5 15h1v1h-1zM31.5 15h1v1h-1zM35 16h1v1h-1zM15.5 17h1v1h-1zM32.5 17h2v1h-2zM13 20h1v1h-1zM38 20h1v1h-1zM11 22h2v1h-2zM11.5 23h1v1h-1zM37 24h2v1h-2zM35.5 25h3v1h-3zM14 26h1v1h-1zM38 26h1v1h-1zM13.5 27h1v1h-1zM38.5 27h1v1h-1zM39 28h1v1h-1zM9.5 31h1v1h-1zM37 32h1v1h-1zM40 32h1v1h-1zM10.5 33h1v1h-1zM38.5 33h1v1h-1zM10 34h1v1h-1zM39 34h1v1h-1zM11 36h2v1h-2zM10.5 37h1v1h-1zM36 38h1v1h-1zM11.5 39h1v1h-1zM13.5 39h1v1h-1zM35.5 39h1v1h-1zM13 40h1v1h-1zM14.5 41h1v1h-1zM15.5 43h1v1h-1zM17.5 43h1v1h-1zM19.5 43h1v1h-1zM31.5 43h2v1h-2zM35.5 43h1v1h-1zM30 44h1v1h-1zM18 46h2v1h-2zM29 46h1v1h-1zM21.5 47h1v1h-1zM21 48h1v1h-1zM26.5 51h1v1h-1z"/>
<path fill="#0094ff" d="M17.5 15h3v1h-3zM22.5 15h1v1h-1zM27.5 15h2v1h-2zM30.5 15h1v1h-1zM27 16h1v1h-1zM31 16h1v1h-1zM14.5 17h1v1h-1zM14 18h1v1h-1zM32 18h2v1h-2zM38 18h1v1h-1zM34 20h1v1h-1zM37.5 21h1v1h-1zM13 22h1v1h-1zM36.5 23h1v1h-1zM10 24h1v1h-1zM9.5 25h1v1h-1zM9 26h1v1h-1zM10 28h1v1h-1zM38 28h1v1h-1zM40 28h1v1h-1zM38.5 29h1v1h-1zM10 30h2v1h-2zM38 30h1v1h-1zM10.5 31h1v1h-1zM11 32h1v1h-1zM38 32h1v1h-1zM11.5 33h1v1h-1zM11 34h1v1h-1zM38 34h1v1h-1zM10.5 35h1v1h-1zM37.5 35h1v1h-1zM38 36h1v1h-1zM13.5 37h1v1h-1zM10 38h1v1h-1zM13 38h1v1h-1zM37 38h1v1h-1zM10.5 39h1v1h-1zM12.5 39h1v1h-1zM14.5 39h1v1h-1zM35 40h1v1h-1zM15.5 41h3v1h-3zM32.5 41h1v1h-1zM18 42h1v1h-1zM16.5 43h1v1h-1zM29.5 43h1v1h-1zM21 46h1v1h-1zM27.5 47h1v1h-1zM26 48h1v1h-1zM23.5 53h1v1h-1z"/>
<path fill="#00a4ff" d="M22 14h1v1h-1zM25 14h1v1h-1zM20.5 15h1v1h-1zM23.5 15h1v1h-1zM26.5 15h1v1h-1zM26 16h1v1h-1zM32 16h1v1h-1zM17.5 17h1v1h-1zM15 18h1v1h-1zM35 18h1v1h-1zM14.5 19h1v1h-1zM37.5 19h1v1h-1zM35 20h1v1h-1zM37 20h1v1h-1zM36.5 21h1v1h-1zM12.5 23h1v1h-1zM38.5 23h1v1h-1zM11 24h2v1h-2zM36 24h1v1h-1zM12.5 25h1v1h-1zM12 26h1v1h-1zM9.5 27h1v1h-1zM12.5 27h1v1h-1zM13 28h1v1h-1zM10.5 29h1v1h-1zM36.5 31h2v1h-2zM12.5 33h1v1h-1zM36.5 33h1v1h-1zM12 34h1v1h-1zM13 36h1v1h-1zM37 36h1v1h-1zM11 38h1v1h-1zM14 38h1v1h-1zM34.5 39h1v1h-1zM31.5 41h1v1h-1zM33.5 41h1v1h-1zM27.5 43h2v1h-2zM33.5 43h1v1h-1zM19 44h1v1h-1zM18.5 45h1v1h-1zM20.5 45h1v1h-1zM29.5 45h1v1h-1zM20 46h1v1h-1zM20.5 47h1v1h-1zM26.5 47h1v1h-1zM22 48h1v1h-1zM25 52h1v1h-1z"/>
<path fill="#00b4ff" d="M21 14h1v1h-1zM30 14h1v1h-1zM17 16h1v1h-1zM19 16h1v1h-1zM24 16h1v1h-1zM30 16h1v1h-1zM31.5 17h1v1h-1zM18 18h1v1h-1zM17.5 19h1v1h-1zM14 20h1v1h-1zM14 22h1v1h-1zM11.5 25h1v1h-1zM37 26h1v1h-1zM11.5 27h1v1h-1zM36.5 27h1v1h-1zM38.5 31h1v1h-1zM39 32h1v1h-1zM37 34h1v1h-1zM11.5 35h2v1h-2zM14 36h1v1h-1zM15.5 39h1v1h-1zM17.5 39h1v1h-1zM14 40h4v1h-4zM18.5 41h1v1h-1zM34.5 41h1v1h-1zM17 42h1v1h-1zM31 42h1v1h-1zM21 44h1v1h-1zM21.5 45h1v1h-1zM27.5 45h1v1h-1zM22 46h1v1h-1zM22.5 47h1v1h-1zM24.5 47h1v1h-1zM25.5 49h1v1h-1zM26 50h1v1h-1z"/>
<path fill="#00c4ff" d="M26 14h1v1h-1zM21.5 15h1v1h-1zM20 16h2v1h-2zM16.5 17h1v1h-1zM18.5 17h1v1h-1zM24.5 17h1v1h-1zM29.5 17h1v1h-1zM35.5 17h1v1h-1zM17 18h1v1h-1zM36 18h1v1h-1zM34.5 19h1v1h-1zM36.5 19h1v1h-1zM13.5 21h1v1h-1zM33.5 21h1v1h-1zM37 22h1v1h-1zM13.5 23h1v1h-1zM33.5 23h2v1h-2zM13 24h1v1h-1zM34 24h1v1h-1zM13.5 25h1v1h-1zM34.5 25h1v1h-1zM10 26h2v1h-2zM37.5 27h1v1h-1zM11 28h1v1h-1zM37 28h1v1h-1zM11.5 29h1v1h-1zM36 30h1v1h-1zM39.5 31h1v1h-1zM36 32h1v1h-1zM13 34h1v1h-1zM13.5 35h1v1h-1zM14.5 37h2v1h-2zM15 38h1v1h-1zM18 38h1v1h-1zM18.5 39h1v1h-1zM32 40h2v1h-2zM19 42h1v1h-1zM29 42h2v1h-2zM20.5 43h1v1h-1zM20 44h1v1h-1zM28 44h2v1h-2zM19.5 45h1v1h-1zM25.5 45h1v1h-1zM28.5 45h1v1h-1zM26 46h1v1h-1zM28 46h1v1h-1zM25.5 47h1v1h-1zM25 50h1v1h-1zM25.5 51h1v1h-1z"/>
<path fill="#00d4ff" d="M24.5 15h1v1h-1zM18 16h1v1h-1zM25 16h1v1h-1zM29 16h1v1h-1zM19 18h1v1h-1zM15.5 19h1v1h-1zM32.5 19h2v1h-2zM15 20h1v1h-1zM17 20h1v1h-1zM33 20h1v1h-1zM14.5 21h1v1h-1zM34.5 21h1v1h-1zM34 22h2v1h-2zM33 24h1v1h-1zM35 24h1v1h-1zM10.5 25h1v1h-1zM13 26h1v1h-1zM10.5 27h1v1h-1zM37.5 29h1v1h-1zM35 30h1v1h-1zM37 30h1v1h-1zM35.5 31h1v1h-1zM36 34h1v1h-1zM35.5 35h2v1h-2zM35 36h1v1h-1zM32 38h2v1h-2zM16.5 39h1v1h-1zM18 40h1v1h-1zM31 40h1v1h-1zM34 40h1v1h-1zM21.5 43h1v1h-1zM23.5 45h1v1h-1zM23.5 47h1v1h-1zM25 48h1v1h-1z"/>
<path fill="#00e5ff" d="M25.5 15h1v1h-1zM28 16h1v1h-1zM30.5 17h1v1h-1zM16 18h1v1h-1zM27 18h1v1h-1zM16 20h1v1h-1zM18 20h1v1h-1zM32.5 21h1v1h-1zM36 22h1v1h-1zM35.5 23h1v1h-1zM14.5 25h1v1h-1zM34 26h1v1h-1zM36 26h1v1h-1zM12 28h1v1h-1zM33 28h1v1h-1zM12.5 29h1v1h-1zM11.5 31h1v1h-1zM13 32h1v1h-1zM13.5 33h1v1h-1zM15.5 35h1v1h-1zM16 38h1v1h-1zM31 38h1v1h-1zM35 38h1v1h-1zM33.5 39h1v1h-1zM30.5 41h1v1h-1zM20 42h1v1h-1zM27 42h1v1h-1zM23 44h1v1h-1zM26 44h1v1h-1zM23 46h1v1h-1zM27 46h1v1h-1zM23 52h2v1h-2z"/>
<path fill="#00f5ff" d="M23 16h1v1h-1zM19.5 17h1v1h-1zM25.5 17h1v1h-1zM24 18h1v1h-1zM29 18h1v1h-1zM16.5 19h1v1h-1zM31.5 19h1v1h-1zM35.5 19h1v1h-1zM32 20h1v1h-1zM35.5 21h1v1h-1zM33 22h1v1h-1zM14 24h1v1h-1zM15.5 25h1v1h-1zM36 28h1v1h-1zM34.5 29h1v1h-1zM36.5 29h1v1h-1zM12 30h1v1h-1zM12.5 31h2v1h-2zM12 32h1v1h-1zM14 32h1v1h-1zM34 32h2v1h-2zM14.5 35h1v1h-1zM34.5 35h1v1h-1zM22.5 39h1v1h-1zM29.5 39h1v1h-1zM31.5 39h1v1h-1zM19 40h1v1h-1zM29 40h2v1h-2zM19.5 41h1v1h-1zM29.5 41h1v1h-1zM21 42h1v1h-1zM28 42h1v1h-1zM27 44h1v1h-1zM22.5 45h1v1h-1zM25 46h1v1h-1z"/>
<path fill="#06fff9" d="M26.5 17h3v1h-3zM20 18h1v1h-1zM28.5 19h1v1h-1zM36 20h1v1h-1zM15 22h1v1h-1zM14.5 23h1v1h-1zM33.5 25h1v1h-1zM35 26h1v1h-1zM13.5 29h1v1h-1zM32.5 29h1v1h-1zM35.5 29h1v1h-1zM13 30h1v1h-1zM15.5 33h1v1h-1zM35.5 33h1v1h-1zM14 34h2v1h-2zM15 36h1v1h-1zM16.5 37h1v1h-1zM30.5 37h1v1h-1zM32.5 37h3v1h-3zM17 38h1v1h-1zM29 38h1v1h-1zM30.5 39h1v1h-1zM32.5 39h1v1h-1zM25.5 43h2v1h-2zM22 44h1v1h-1zM25 44h1v1h-1zM24.5 45h1v1h-1zM26.5 45h1v1h-1zM24 46h1v1h-1zM24.5 51h1v1h-1z"/>
<path fill="#16ffe9" d="M22 16h1v1h-1zM20.5 17h1v1h-1zM26 18h1v1h-1zM28 18h1v1h-1zM30 18h2v1h-2zM18.5 19h1v1h-1zM15.5 21h1v1h-1zM18.5 21h1v1h-1zM32 24h1v1h-1zM15 26h1v1h-1zM14.5 27h1v1h-1zM35.5 27h1v1h-1zM34 28h2v1h-2zM33.5 29h1v1h-1zM15 32h2v1h-2zM31.5 35h1v1h-1zM16 36h1v1h-1zM32 36h2v1h-2zM19.5 37h1v1h-1zM31.5 37h1v1h-1zM19 38h1v1h-1zM21.5 41h1v1h-1zM26.5 41h1v1h-1zM26 42h1v1h-1z"/>
<path fill="#26ffd9" d="M23.5 17h1v1h-1zM20.5 19h1v1h-1zM27.5 19h1v1h-1zM29.5 19h1v1h-1zM16.5 21h2v1h-2zM24.5 21h1v1h-1zM31.5 21h1v1h-1zM16 22h1v1h-1zM15 24h1v1h-1zM17 24h1v1h-1zM14 28h1v1h-1zM14.5 29h2v1h-2zM34 30h1v1h-1zM14.5 31h1v1h-1zM14.5 33h1v1h-1zM33.5 33h2v1h-2zM16 34h1v1h-1zM32.5 35h2v1h-2zM34 36h1v1h-1zM30 38h1v1h-1zM34 38h1v1h-1zM19.5 39h1v1h-1zM21.5 39h1v1h-1zM27.5 41h1v1h-1zM24 44h1v1h-1zM22.5 49h1v1h-1z"/>
<path fill="#37ffc8" d="M22.5 17h1v1h-1zM19.5 19h1v1h-1zM30.5 19h1v1h-1zM22.5 21h1v1h-1zM30.5 21h1v1h-1zM15.5 23h1v1h-1zM32.5 25h1v1h-1zM34.5 27h1v1h-1zM15 28h1v1h-1zM32 28h1v1h-1zM14 30h1v1h-1zM33.5 31h2v1h-2zM35 34h1v1h-1zM16.5 35h1v1h-1zM27.5 39h2v1h-2zM22 42h1v1h-1zM23.5 43h1v1h-1zM24 48h1v1h-1zM24.5 49h1v1h-1z"/>
<path fill="#47ffb8" d="M21.5 17h1v1h-1zM26.5 19h1v1h-1zM23 20h1v1h-1zM23.5 21h1v1h-1zM18 22h1v1h-1zM32 22h1v1h-1zM16.5 25h1v1h-1zM17 26h1v1h-1zM32.5 27h2v1h-2zM15 30h1v1h-1zM33 30h1v1h-1zM33 32h1v1h-1zM33 34h2v1h-2zM18.5 35h1v1h-1zM30.5 35h1v1h-1zM19 36h1v1h-1zM30 36h2v1h-2zM17.5 37h2v1h-2zM29.5 37h1v1h-1zM22 38h1v1h-1zM20.5 39h1v1h-1zM22 40h1v1h-1zM27 40h1v1h-1zM28.5 41h1v1h-1zM24 42h1v1h-1zM22.5 43h1v1h-1zM24.5 43h1v1h-1z"/>
<path fill="#57ffa8" d="M21 18h1v1h-1zM25 18h1v1h-1zM21.5 19h1v1h-1zM23.5 19h1v1h-1zM22 20h1v1h-1zM26 20h1v1h-1zM28 20h1v1h-1zM30 20h2v1h-2zM17 22h1v1h-1zM30 22h1v1h-1zM16.5 23h1v1h-1zM31.5 23h2v1h-2zM16 24h1v1h-1zM33 26h1v1h-1zM17 32h1v1h-1zM16.5 33h1v1h-1zM17 36h1v1h-1zM20 36h1v1h-1zM28 38h1v1h-1zM26.5 39h1v1h-1zM22.5 41h1v1h-1zM23 42h1v1h-1zM25 42h1v1h-1z"/>
<path fill="#67ff98" d="M22 18h1v1h-1zM19 20h1v1h-1zM21 20h1v1h-1zM24 20h1v1h-1zM27 20h1v1h-1zM20.5 21h2v1h-2zM21 22h1v1h-1zM31 22h1v1h-1zM19 24h1v1h-1zM31.5 25h1v1h-1zM16 26h1v1h-1zM16 28h1v1h-1zM15.5 31h1v1h-1zM19 32h1v1h-1zM32.5 33h1v1h-1zM17 34h1v1h-1zM19 34h1v1h-1zM32 34h1v1h-1zM17.5 35h1v1h-1zM18 36h1v1h-1zM23.5 37h1v1h-1zM25.5 37h1v1h-1zM26 38h2v1h-2zM25.5 39h1v1h-1zM20 40h2v1h-2zM26 40h1v1h-1zM20.5 41h1v1h-1zM23 48h1v1h-1zM22.5 51h1v1h-1z"/>
<path fill="#77ff88" d="M23 18h1v1h-1zM22.5 19h1v1h-1zM20 20h1v1h-1zM29 20h1v1h-1zM19.5 21h1v1h-1zM28.5 21h1v1h-1zM30.5 23h1v1h-1zM32 26h1v1h-1zM15.5 27h3v1h-3zM17 28h1v1h-1zM16.5 29h1v1h-1zM16.5 31h1v1h-1zM21 34h1v1h-1zM29 36h1v1h-1zM20.5 37h1v1h-1zM20 38h2v1h-2zM23 40h1v1h-1zM28 40h1v1h-1zM25.5 41h1v1h-1z"/>
<path fill="#88ff77" d="M24.5 19h2v1h-2zM29.5 21h1v1h-1zM31 24h1v1h-1zM17 30h1v1h-1zM19.5 33h1v1h-1zM22.5 33h1v1h-1zM18 34h1v1h-1zM20 34h1v1h-1zM19.5 35h2v1h-2zM23 38h2v1h-2z"/>
<path fill="#98ff67" d="M25 20h1v1h-1zM22 22h3v1h-3zM17.5 23h1v1h-1zM29.5 23h1v1h-1zM31.5 27h1v1h-1zM30 28h1v1h-1zM16 30h1v1h-1zM17.5 31h1v1h-1zM32.5 31h1v1h-1zM18.5 33h1v1h-1zM31.5 33h1v1h-1zM31 34h1v1h-1zM24 36h1v1h-1zM26 36h1v1h-1zM25 40h1v1h-1z"/>
<path fill="#a8ff57" d="M29 22h1v1h-1zM27.5 25h1v1h-1zM18 26h1v1h-1zM30.5 29h2v1h-2zM18.5 31h2v1h-2zM18 32h1v1h-1zM29 34h2v1h-2zM21.5 35h1v1h-1zM21 36h2v1h-2zM21.5 37h1v1h-1zM24.5 37h1v1h-1zM28.5 37h1v1h-1zM25 38h1v1h-1zM24.5 39h1v1h-1zM24.5 41h1v1h-1z"/>
<path fill="#b8ff47" d="M20 22h1v1h-1zM20 24h1v1h-1zM18.5 25h1v1h-1zM18 28h1v1h-1zM18 30h3v1h-3zM24 30h1v1h-1zM32 30h1v1h-1zM31.5 31h1v1h-1zM23 32h1v1h-1zM32 32h1v1h-1zM17.5 33h1v1h-1zM21.5 33h1v1h-1zM29.5 33h1v1h-1zM22 34h2v1h-2zM25.5 35h1v1h-1zM29.5 35h1v1h-1zM22.5 37h1v1h-1zM27.5 37h1v1h-1zM24 40h1v1h-1zM24 50h1v1h-1z"/>
<path fill="#c8ff37" d="M25.5 21h1v1h-1zM25 22h1v1h-1zM17.5 25h1v1h-1zM26.5 25h1v1h-1zM23 26h1v1h-1zM22.5 27h1v1h-1zM19 28h1v1h-1zM17.5 29h1v1h-1zM23.5 31h1v1h-1zM20 32h1v1h-1zM22 32h1v1h-1zM20.5 33h1v1h-1zM28 34h1v1h-1zM22.5 35h1v1h-1zM24.5 35h1v1h-1zM27.5 35h2v1h-2zM23 36h1v1h-1zM25 36h1v1h-1zM28 36h1v1h-1zM26.5 37h1v1h-1zM23.5 41h1v1h-1z"/>
<path fill="#d9ff26" d="M26.5 21h2v1h-2zM19.5 23h4v1h-4zM28 24h2v1h-2zM19.5 25h1v1h-1zM30.5 25h1v1h-1zM18.5 27h1v1h-1zM24.5 31h1v1h-1zM27 32h1v1h-1zM26.5 33h2v1h-2zM27 34h1v1h-1zM23.5 35h1v1h-1zM23.5 49h1v1h-1z"/>
<path fill="#e9ff16" d="M19 22h1v1h-1zM18.5 23h1v1h-1zM25.5 23h1v1h-1zM18 24h1v1h-1zM26 24h2v1h-2zM30 24h1v1h-1zM24 26h1v1h-1zM28 26h1v1h-1zM31 26h1v1h-1zM23.5 27h1v1h-1zM25.5 27h1v1h-1zM20 28h2v1h-2zM24 28h1v1h-1zM31 28h1v1h-1zM23.5 29h1v1h-1zM22.5 31h1v1h-1zM31 32h1v1h-1zM28.5 33h1v1h-1z"/>
<path fill="#f9ff06" d="M20.5 25h1v1h-1zM28.5 25h1v1h-1zM24.5 29h1v1h-1zM26.5 29h1v1h-1zM28.5 29h1v1h-1zM23 30h1v1h-1zM25 32h2v1h-2zM28 32h1v1h-1zM30 32h1v1h-1zM27 36h1v1h-1zM23.5 39h1v1h-1z"/>
<path fill="#fff500" d="M26 22h1v1h-1zM24.5 23h1v1h-1zM28.5 23h1v1h-1zM24 24h1v1h-1zM24.5 25h1v1h-1zM20 26h2v1h-2zM27 26h1v1h-1zM26.5 27h1v1h-1zM30.5 27h1v1h-1zM23 28h1v1h-1zM29 28h1v1h-1zM18.5 29h2v1h-2zM29.5 29h1v1h-1zM21 30h1v1h-1zM25 30h1v1h-1zM20.5 31h1v1h-1zM30.5 33h1v1h-1zM26 34h1v1h-1zM26.5 35h1v1h-1z"/>
<path fill="#ffe500" d="M27 22h1v1h-1zM21 24h1v1h-1zM25 24h1v1h-1zM24.5 27h1v1h-1zM25 28h2v1h-2zM28 28h1v1h-1zM27.5 29h1v1h-1zM31 30h1v1h-1zM21.5 31h1v1h-1zM25.5 31h1v1h-1zM24 34h1v1h-1z"/>
<path fill="#ffd500" d="M23.5 23h1v1h-1zM26.5 23h1v1h-1zM23.5 25h1v1h-1zM26 26h1v1h-1zM30 26h1v1h-1zM27.5 27h1v1h-1zM29.5 27h1v1h-1zM27 28h1v1h-1zM27 30h1v1h-1zM27.5 31h1v1h-1zM30.5 31h1v1h-1zM21 32h1v1h-1zM24 32h1v1h-1zM29 32h1v1h-1zM23.5 33h1v1h-1zM25 34h1v1h-1z"/>
<path fill="#ffc400" d="M28 22h1v1h-1zM23 24h1v1h-1zM19 26h1v1h-1zM22 26h1v1h-1zM19.5 27h2v1h-2zM28.5 27h1v1h-1zM22 28h1v1h-1zM24.5 33h2v1h-2zM23 50h1v1h-1z"/>
<path fill="#ffb400" d="M25.5 25h1v1h-1zM29.5 25h1v1h-1zM21.5 27h1v1h-1zM20.5 29h2v1h-2zM25.5 29h1v1h-1zM22 30h1v1h-1zM30 30h1v1h-1zM26.5 31h1v1h-1z"/>
<path fill="#ffa400" d="M21.5 25h2v1h-2zM29 26h1v1h-1zM28 30h1v1h-1z"/>
<path fill="#ff9400" d="M27.5 23h1v1h-1zM25 26h1v1h-1zM22.5 29h1v1h-1zM28.5 31h1v1h-1z"/>
<path fill="#ff8400" d="M26 30h1v1h-1z"/>
<path fill="#ff5300" d="M29 30h1v1h-1z"/>
<path fill="#ff4300" d="M29.5 31h1v1h-1z"/>
<path fill="#ff3300" d="M22 24h1v1h-1z"/>
<path fill="#800000" d="M23.5 51h1v1h-1z"/>
</g>
<g transform="translate(410.5 142.3) scale(2.3333 2.0000)" shape-rendering="crispEdges">
<path fill="#000090" d="M13 0h1v1h-1zM29 0h1v1h-1zM43 0h1v1h-1zM7.5 3h1v1h-1zM43.5 3h1v1h-1zM46 4h1v1h-1zM47 10h1v1h-1zM47.5 11h0.5v1h-0.5z"/>
<path fill="#0000a0" d="M3 0h1v1h-1zM14 0h2v1h-2zM28 0h1v1h-1zM44 0h1v1h-1zM2.5 1h1v1h-1zM42.5 1h2v1h-2zM6.5 3h1v1h-1zM7 4h1v1h-1zM42 4h3v1h-3zM43.5 5h1v1h-1zM45.5 5h1v1h-1zM46 14h1v1h-1zM0.5 37h1v1h-1zM46 46h1v1h-1zM45 50h1v1h-1zM6 52h1v1h-1zM0 53h1.5v1h-1.5zM11.5 53h1v1h-1zM43.5 53h1v1h-1zM37 54h1v1h-1zM42 54h2v1h-2zM8.5 55h1v1h-1zM10.5 55h1v1h-1z"/>
<path fill="#0000b0" d="M1 0h2v1h-2zM12 0h1v1h-1zM16 0h1v1h-1zM21 0h1v1h-1zM38 0h1v1h-1zM13.5 1h1v1h-1zM16.5 1h1v1h-1zM44.5 1h1v1h-1zM47.5 1h0.5v1h-0.5zM1 2h1v1h-1zM10 2h1v1h-1zM16 2h1v1h-1zM42 2h2v1h-2zM0.5 3h1v1h-1zM9.5 3h2v1h-2zM41.5 3h1v1h-1zM0 4h1v1h-1zM5 4h1v1h-1zM45 4h1v1h-1zM0 5h0.5v1h-0.5zM40.5 5h1v1h-1zM46.5 5h1v1h-1zM6 6h1v1h-1zM46 6h1v1h-1zM0 7h0.5v1h-0.5zM9 8h1v1h-1zM45.5 11h2v1h-2zM1 12h1v1h-1zM46.5 13h1v1h-1zM2 14h1v1h-1zM0.5 23h1v1h-1zM0 33h0.5v1h-0.5zM47.5 37h0.5v1h-0.5zM0 38h1v1h-1zM0 39h0.5v1h-0.5zM0.5 41h1v1h-1zM45.5 41h1v1h-1zM0 42h1v1h-1zM45 42h1v1h-1zM47.5 45h0.5v1h-0.5zM0 47h0.5v1h-0.5zM43.5 47h1v1h-1zM44 48h1v1h-1zM45.5 49h2v1h-2zM4 50h1v1h-1zM42.5 51h1v1h-1zM1 52h1v1h-1zM42 52h1v1h-1zM44 52h1v1h-1zM5.5 53h1v1h-1zM10.5 53h1v1h-1zM37.5 53h1v1h-1zM41.5 53h2v1h-2zM46.5 53h1.5v1h-1.5zM11 54h1v1h-1zM35 54h2v1h-2zM44 54h1v1h-1zM47 54h1v1h-1zM43.5 55h1v1h-1z"/>
<path fill="#0000c0" d="M0 0h1v1h-1zM8 0h2v1h-2zM17 0h1v1h-1zM22 0h1v1h-1zM27 0h1v1h-1zM34 0h2v1h-2zM39 0h2v1h-2zM42 0h1v1h-1zM46 0h2v1h-2zM0 1h0.5v1h-0.5zM1.5 1h1v1h-1zM10.5 1h1v1h-1zM12.5 1h1v1h-1zM15.5 1h1v1h-1zM18.5 1h1v1h-1zM20.5 1h3v1h-3zM26.5 1h2v1h-2zM35.5 1h1v1h-1zM40.5 1h1v1h-1zM45.5 1h2v1h-2zM2 2h2v1h-2zM6 2h2v1h-2zM44 2h2v1h-2zM47 2h1v1h-1zM4.5 3h2v1h-2zM8.5 3h1v1h-1zM42.5 3h1v1h-1zM46.5 3h1.5v1h-1.5zM6 4h1v1h-1zM8 4h2v1h-2zM33 4h1v1h-1zM47 4h1v1h-1zM0.5 5h1v1h-1zM4.5 5h2v1h-2zM7.5 5h1v1h-1zM37.5 5h1v1h-1zM44.5 5h1v1h-1zM47.5 5h0.5v1h-0.5zM1 6h1v1h-1zM5 6h1v1h-1zM43 6h1v1h-1zM45 6h1v1h-1zM47 6h1v1h-1zM2.5 7h2v1h-2zM43.5 7h1v1h-1zM47.5 7h0.5v1h-0.5zM1 8h1v1h-1zM47 8h1v1h-1zM1.5 9h1v1h-1zM3.5 9h1v1h-1zM7.5 9h1v1h-1zM42.5 9h1v1h-1zM47.5 9h0.5v1h-0.5zM42 10h5v1h-5zM0.5 11h1v1h-1zM43.5 11h2v1h-2zM0 12h1v1h-1zM3 12h1v1h-1zM45 12h3v1h-3zM0.5 13h1v1h-1zM2.5 13h1v1h-1zM47.5 13h0.5v1h-0.5zM47 14h1v1h-1zM1.5 15h1v1h-1zM47.5 15h0.5v1h-0.5zM1.5 17h1v1h-1zM1 18h1v1h-1zM46 20h1v1h-1zM0 21h0.5v1h-0.5zM47.5 23h0.5v1h-0.5zM1 26h1v1h-1zM3.5 29h1v1h-1zM0.5 31h1v1h-1zM0 36h1v1h-1zM2 36h1v1h-1zM0 37h0.5v1h-0.5zM1.5 37h1v1h-1zM47 38h1v1h-1zM47.5 39h0.5v1h-0.5zM0 40h1v1h-1zM45 40h1v1h-1zM47 40h1v1h-1zM0 41h0.5v1h-0.5zM46.5 41h1.5v1h-1.5zM1 42h2v1h-2zM46 42h2v1h-2zM0 43h1.5v1h-1.5zM46.5 43h1v1h-1zM0 44h2v1h-2zM5 44h1v1h-1zM46 44h1v1h-1zM47 46h1v1h-1zM0.5 47h1v1h-1zM42.5 47h1v1h-1zM45.5 47h1v1h-1zM47.5 47h0.5v1h-0.5zM4 48h1v1h-1zM43 48h1v1h-1zM0 49h0.5v1h-0.5zM43.5 49h1v1h-1zM47.5 49h0.5v1h-0.5zM0 50h1v1h-1zM2 50h1v1h-1zM7 50h1v1h-1zM42 50h3v1h-3zM46 50h2v1h-2zM0.5 51h1v1h-1zM5.5 51h3v1h-3zM38.5 51h1v1h-1zM46.5 51h1.5v1h-1.5zM7 52h1v1h-1zM11 52h1v1h-1zM38 52h1v1h-1zM43 52h1v1h-1zM1.5 53h1v1h-1zM6.5 53h2v1h-2zM35.5 53h1v1h-1zM8 54h3v1h-3zM12 54h1v1h-1zM0.5 55h2v1h-2zM9.5 55h1v1h-1zM35.5 55h2v1h-2zM41.5 55h2v1h-2zM46.5 55h1.5v1h-1.5z"/>
<path fill="#0000d0" d="M6 0h2v1h-2zM11 0h1v1h-1zM19 0h1v1h-1zM24 0h1v1h-1zM45 0h1v1h-1zM3.5 1h1v1h-1zM5.5 1h2v1h-2zM9.5 1h1v1h-1zM11.5 1h1v1h-1zM14.5 1h1v1h-1zM17.5 1h1v1h-1zM23.5 1h1v1h-1zM28.5 1h1v1h-1zM32.5 1h1v1h-1zM37.5 1h2v1h-2zM0 2h1v1h-1zM4 2h2v1h-2zM8 2h2v1h-2zM12 2h1v1h-1zM19 2h1v1h-1zM28 2h1v1h-1zM32 2h1v1h-1zM36 2h1v1h-1zM46 2h1v1h-1zM0 3h0.5v1h-0.5zM15.5 3h2v1h-2zM30.5 3h1v1h-1zM35.5 3h1v1h-1zM44.5 3h2v1h-2zM2 4h2v1h-2zM29 4h1v1h-1zM35 4h1v1h-1zM40 4h1v1h-1zM1.5 5h2v1h-2zM6.5 5h1v1h-1zM34.5 5h1v1h-1zM42.5 5h1v1h-1zM7 6h1v1h-1zM44 6h1v1h-1zM0.5 7h2v1h-2zM5.5 7h1v1h-1zM44.5 7h3v1h-3zM0 8h1v1h-1zM3 8h1v1h-1zM8 8h1v1h-1zM42 8h2v1h-2zM45 8h2v1h-2zM0.5 9h1v1h-1zM8.5 9h1v1h-1zM40.5 9h2v1h-2zM43.5 9h1v1h-1zM45.5 9h2v1h-2zM0 10h5v1h-5zM7 10h1v1h-1zM39 10h1v1h-1zM1.5 11h3v1h-3zM2 12h1v1h-1zM4 12h2v1h-2zM44 12h1v1h-1zM3.5 13h1v1h-1zM5.5 13h1v1h-1zM42.5 13h2v1h-2zM45.5 13h1v1h-1zM1 14h1v1h-1zM3 14h1v1h-1zM0.5 15h1v1h-1zM45.5 15h1v1h-1zM2 16h1v1h-1zM0 17h0.5v1h-0.5zM0 18h1v1h-1zM46 18h1v1h-1zM46.5 19h1v1h-1zM45 20h1v1h-1zM0.5 21h1v1h-1zM44.5 21h3v1h-3zM0 22h1v1h-1zM3.5 23h1v1h-1zM0 24h1v1h-1zM47 24h1v1h-1zM47.5 25h0.5v1h-0.5zM46 28h1v1h-1zM0 31h0.5v1h-0.5zM0 32h1v1h-1zM0 34h1v1h-1zM0 35h0.5v1h-0.5zM45.5 35h1v1h-1zM46 36h1v1h-1zM2.5 37h1v1h-1zM45.5 37h2v1h-2zM1 38h1v1h-1zM44.5 39h2v1h-2zM44.5 41h1v1h-1zM1.5 43h1v1h-1zM5.5 43h1v1h-1zM42.5 43h1v1h-1zM44.5 43h2v1h-2zM6 44h1v1h-1zM47 44h1v1h-1zM2.5 45h1v1h-1zM4.5 45h1v1h-1zM0 46h2v1h-2zM3 46h1v1h-1zM45 46h1v1h-1zM4.5 47h1v1h-1zM44.5 47h1v1h-1zM46.5 47h1v1h-1zM2 48h1v1h-1zM39 48h2v1h-2zM42 48h1v1h-1zM46 48h1v1h-1zM0.5 49h2v1h-2zM3.5 49h2v1h-2zM39.5 49h1v1h-1zM42.5 49h1v1h-1zM44.5 49h1v1h-1zM1 50h1v1h-1zM6 50h1v1h-1zM8 50h1v1h-1zM38 50h1v1h-1zM2.5 51h2v1h-2zM9.5 51h2v1h-2zM37.5 51h1v1h-1zM41.5 51h1v1h-1zM43.5 51h1v1h-1zM45.5 51h1v1h-1zM0 52h1v1h-1zM5 52h1v1h-1zM10 52h1v1h-1zM37 52h1v1h-1zM40 52h1v1h-1zM39.5 53h1v1h-1zM2 54h3v1h-3zM6 54h1v1h-1zM30 54h1v1h-1zM32 54h1v1h-1zM38 54h2v1h-2zM41 54h1v1h-1zM2.5 55h1v1h-1zM4.5 55h1v1h-1zM11.5 55h1v1h-1zM45.5 55h1v1h-1z"/>
<path fill="#0000e1" d="M10 0h1v1h-1zM23 0h1v1h-1zM33 0h1v1h-1zM36 0h1v1h-1zM41 0h1v1h-1zM0.5 1h1v1h-1zM4.5 1h1v1h-1zM7.5 1h2v1h-2zM25.5 1h1v1h-1zM29.5 1h1v1h-1zM31.5 1h1v1h-1zM34.5 1h1v1h-1zM36.5 1h1v1h-1zM39.5 1h1v1h-1zM11 2h1v1h-1zM17 2h1v1h-1zM21 2h3v1h-3zM25 2h3v1h-3zM29 2h1v1h-1zM31 2h1v1h-1zM38 2h1v1h-1zM40 2h2v1h-2zM17.5 3h1v1h-1zM27.5 3h1v1h-1zM32.5 3h1v1h-1zM36.5 3h1v1h-1zM38.5 3h1v1h-1zM40.5 3h1v1h-1zM1 4h1v1h-1zM12 4h2v1h-2zM31 4h2v1h-2zM36 4h1v1h-1zM39 4h1v1h-1zM41 4h1v1h-1zM3.5 5h1v1h-1zM8.5 5h2v1h-2zM32.5 5h2v1h-2zM38.5 5h2v1h-2zM41.5 5h1v1h-1zM0 6h1v1h-1zM2 6h1v1h-1zM8 6h1v1h-1zM34 6h2v1h-2zM38 6h1v1h-1zM40 6h1v1h-1zM9.5 7h1v1h-1zM41.5 7h2v1h-2zM6 8h1v1h-1zM12 8h1v1h-1zM36 8h1v1h-1zM40 8h1v1h-1zM44 8h1v1h-1zM2.5 9h1v1h-1zM5.5 9h2v1h-2zM9.5 9h1v1h-1zM11.5 9h1v1h-1zM39.5 9h1v1h-1zM44.5 9h1v1h-1zM6 10h1v1h-1zM41 10h1v1h-1zM4.5 11h2v1h-2zM41.5 11h2v1h-2zM1.5 13h1v1h-1zM4.5 13h1v1h-1zM44.5 13h1v1h-1zM4 14h1v1h-1zM2.5 15h1v1h-1zM46.5 15h1v1h-1zM0 16h1v1h-1zM0.5 17h1v1h-1zM41.5 17h1v1h-1zM5 18h1v1h-1zM0.5 19h1v1h-1zM45.5 19h1v1h-1zM47.5 19h0.5v1h-0.5zM47 20h1v1h-1zM4.5 21h1v1h-1zM47.5 21h0.5v1h-0.5zM1 22h1v1h-1zM4 22h1v1h-1zM0 23h0.5v1h-0.5zM1.5 23h2v1h-2zM1 24h1v1h-1zM1.5 25h1v1h-1zM46 26h2v1h-2zM0 27h1.5v1h-1.5zM0 28h2v1h-2zM45 28h1v1h-1zM44.5 29h1v1h-1zM46.5 29h1v1h-1zM0 30h2v1h-2zM42.5 31h1v1h-1zM46 32h2v1h-2zM0.5 33h1v1h-1zM2.5 33h1v1h-1zM47 34h1v1h-1zM1.5 35h2v1h-2zM46.5 35h1.5v1h-1.5zM1 36h1v1h-1zM43.5 37h1v1h-1zM2 38h2v1h-2zM0.5 39h3v1h-3zM46.5 39h1v1h-1zM1 40h1v1h-1zM46 40h1v1h-1zM1.5 41h1v1h-1zM44 42h1v1h-1zM47.5 43h0.5v1h-0.5zM43 44h3v1h-3zM0 45h0.5v1h-0.5zM1.5 45h1v1h-1zM5.5 45h1v1h-1zM43.5 45h4v1h-4zM2 46h1v1h-1zM4 46h3v1h-3zM43 46h1v1h-1zM1.5 47h2v1h-2zM41.5 47h1v1h-1zM3 48h1v1h-1zM37 48h2v1h-2zM41 48h1v1h-1zM45 48h1v1h-1zM47 48h1v1h-1zM2.5 49h1v1h-1zM6.5 49h2v1h-2zM36.5 49h2v1h-2zM3 50h1v1h-1zM5 50h1v1h-1zM36 50h2v1h-2zM0 51h0.5v1h-0.5zM1.5 51h1v1h-1zM4.5 51h1v1h-1zM36.5 51h1v1h-1zM35 52h1v1h-1zM41 52h1v1h-1zM46 52h2v1h-2zM8.5 53h2v1h-2zM33.5 53h1v1h-1zM36.5 53h1v1h-1zM38.5 53h1v1h-1zM44.5 53h1v1h-1zM0 54h2v1h-2zM7 54h1v1h-1zM31 54h1v1h-1zM46 54h1v1h-1zM0 55h0.5v1h-0.5zM3.5 55h1v1h-1zM6.5 55h2v1h-2zM12.5 55h1v1h-1zM16.5 55h1v1h-1zM39.5 55h2v1h-2z"/>
<path fill="#0000f1" d="M4 0h2v1h-2zM18 0h1v1h-1zM20 0h1v1h-1zM30 0h3v1h-3zM37 0h1v1h-1zM19.5 1h1v1h-1zM24.5 1h1v1h-1zM33.5 1h1v1h-1zM41.5 1h1v1h-1zM14 2h1v1h-1zM18 2h1v1h-1zM30 2h1v1h-1zM33 2h1v1h-1zM37 2h1v1h-1zM1.5 3h2v1h-2zM11.5 3h1v1h-1zM19.5 3h2v1h-2zM26.5 3h1v1h-1zM29.5 3h1v1h-1zM31.5 3h1v1h-1zM37.5 3h1v1h-1zM4 4h1v1h-1zM10 4h1v1h-1zM22 4h1v1h-1zM30 4h1v1h-1zM34 4h1v1h-1zM38 4h1v1h-1zM20.5 5h1v1h-1zM22.5 5h1v1h-1zM29.5 5h2v1h-2zM36.5 5h1v1h-1zM3 6h2v1h-2zM32 6h1v1h-1zM36 6h2v1h-2zM39 6h1v1h-1zM41 6h2v1h-2zM6.5 7h3v1h-3zM10.5 7h1v1h-1zM13.5 7h1v1h-1zM33.5 7h2v1h-2zM2 8h1v1h-1zM4 8h2v1h-2zM7 8h1v1h-1zM10 8h1v1h-1zM34 8h1v1h-1zM37 8h1v1h-1zM0 9h0.5v1h-0.5zM10.5 9h1v1h-1zM36.5 9h1v1h-1zM5 10h1v1h-1zM13 10h1v1h-1zM36 10h1v1h-1zM40 10h1v1h-1zM0 11h0.5v1h-0.5zM10 12h2v1h-2zM39 12h1v1h-1zM0 13h0.5v1h-0.5zM39.5 13h1v1h-1zM6 14h1v1h-1zM0 15h0.5v1h-0.5zM3.5 15h3v1h-3zM42.5 15h1v1h-1zM1 16h1v1h-1zM42 16h2v1h-2zM47 16h1v1h-1zM44.5 17h3.5v1h-3.5zM2 18h1v1h-1zM45 18h1v1h-1zM47 18h1v1h-1zM0 19h0.5v1h-0.5zM5.5 19h1v1h-1zM0 20h1v1h-1zM1.5 21h1v1h-1zM2 22h2v1h-2zM45 22h3v1h-3zM2 24h1v1h-1zM3.5 25h2v1h-2zM46.5 25h1v1h-1zM2 26h1v1h-1zM4 26h1v1h-1zM2.5 27h1v1h-1zM45.5 27h1v1h-1zM47.5 27h0.5v1h-0.5zM3 28h1v1h-1zM44 28h1v1h-1zM0 29h0.5v1h-0.5zM1.5 29h2v1h-2zM4.5 29h1v1h-1zM43.5 29h1v1h-1zM45.5 29h1v1h-1zM43 30h1v1h-1zM47 30h1v1h-1zM1.5 31h1v1h-1zM45.5 31h2.5v1h-2.5zM2 32h2v1h-2zM42 32h2v1h-2zM45 32h1v1h-1zM3.5 33h1v1h-1zM43.5 33h1v1h-1zM45.5 33h2.5v1h-2.5zM1 34h1v1h-1zM0.5 35h1v1h-1zM41.5 35h2v1h-2zM47 36h1v1h-1zM3.5 37h1v1h-1zM44.5 37h1v1h-1zM44 38h3v1h-3zM2 40h2v1h-2zM5 40h1v1h-1zM6.5 41h1v1h-1zM3 42h1v1h-1zM5 42h1v1h-1zM40 42h2v1h-2zM43 42h1v1h-1zM2.5 43h1v1h-1zM40.5 43h2v1h-2zM43.5 43h1v1h-1zM2 44h2v1h-2zM10 44h1v1h-1zM42 44h1v1h-1zM0.5 45h1v1h-1zM3.5 45h1v1h-1zM8.5 45h3v1h-3zM42.5 45h1v1h-1zM39 46h1v1h-1zM42 46h1v1h-1zM44 46h1v1h-1zM39.5 47h1v1h-1zM0 48h2v1h-2zM5 48h1v1h-1zM7 48h1v1h-1zM5.5 49h1v1h-1zM10.5 49h1v1h-1zM40.5 49h2v1h-2zM9 50h1v1h-1zM39 50h1v1h-1zM40.5 51h1v1h-1zM44.5 51h1v1h-1zM3 52h1v1h-1zM8 52h2v1h-2zM33 52h1v1h-1zM36 52h1v1h-1zM39 52h1v1h-1zM45 52h1v1h-1zM3.5 53h1v1h-1zM12.5 53h1v1h-1zM31.5 53h2v1h-2zM45.5 53h1v1h-1zM5 54h1v1h-1zM27 54h1v1h-1zM34 54h1v1h-1zM40 54h1v1h-1zM45 54h1v1h-1zM5.5 55h1v1h-1zM29.5 55h3v1h-3zM34.5 55h1v1h-1zM44.5 55h1v1h-1z"/>
<path fill="#0002ff" d="M25 0h1v1h-1zM30.5 1h1v1h-1zM13 2h1v1h-1zM15 2h1v1h-1zM20 2h1v1h-1zM24 2h1v1h-1zM34 2h2v1h-2zM39 2h1v1h-1zM3.5 3h1v1h-1zM14.5 3h1v1h-1zM21.5 3h1v1h-1zM24.5 3h2v1h-2zM28.5 3h1v1h-1zM34.5 3h1v1h-1zM39.5 3h1v1h-1zM11 4h1v1h-1zM14 4h1v1h-1zM16 4h3v1h-3zM21 4h1v1h-1zM28 4h1v1h-1zM10.5 5h1v1h-1zM12.5 5h1v1h-1zM21.5 5h1v1h-1zM31.5 5h1v1h-1zM35.5 5h1v1h-1zM9 6h2v1h-2zM12 6h1v1h-1zM15 6h1v1h-1zM4.5 7h1v1h-1zM11.5 7h1v1h-1zM35.5 7h1v1h-1zM37.5 7h4v1h-4zM11 8h1v1h-1zM31 8h1v1h-1zM35 8h1v1h-1zM38 8h2v1h-2zM41 8h1v1h-1zM4.5 9h1v1h-1zM12.5 9h1v1h-1zM38.5 9h1v1h-1zM8 10h3v1h-3zM6.5 11h2v1h-2zM10.5 11h3v1h-3zM38.5 11h1v1h-1zM8 12h1v1h-1zM41 12h3v1h-3zM8.5 13h1v1h-1zM10.5 13h1v1h-1zM37.5 13h1v1h-1zM41.5 13h1v1h-1zM0 14h1v1h-1zM5 14h1v1h-1zM7 14h1v1h-1zM40 14h1v1h-1zM43 14h1v1h-1zM45 14h1v1h-1zM6.5 15h2v1h-2zM36.5 15h2v1h-2zM39.5 15h1v1h-1zM41.5 15h1v1h-1zM44.5 15h1v1h-1zM3 16h1v1h-1zM40 16h1v1h-1zM44 16h3v1h-3zM3.5 17h1v1h-1zM43 18h2v1h-2zM1.5 19h1v1h-1zM4.5 19h1v1h-1zM43.5 19h1v1h-1zM44 20h1v1h-1zM2.5 21h2v1h-2zM43.5 21h1v1h-1zM44.5 23h3v1h-3zM3 24h2v1h-2zM0.5 25h1v1h-1zM2.5 25h1v1h-1zM45.5 25h1v1h-1zM44 26h1v1h-1zM1.5 27h1v1h-1zM44.5 27h1v1h-1zM2 28h1v1h-1zM47 28h1v1h-1zM0.5 29h1v1h-1zM2 30h3v1h-3zM42 30h1v1h-1zM44 30h1v1h-1zM46 30h1v1h-1zM5.5 31h1v1h-1zM1 32h1v1h-1zM4 32h1v1h-1zM44 32h1v1h-1zM1.5 33h1v1h-1zM42 34h1v1h-1zM44 36h1v1h-1zM42.5 37h1v1h-1zM43 38h1v1h-1zM3.5 39h1v1h-1zM4 40h1v1h-1zM42 40h1v1h-1zM3.5 41h2v1h-2zM4 42h1v1h-1zM6 42h1v1h-1zM3.5 43h1v1h-1zM6.5 43h1v1h-1zM9.5 43h1v1h-1zM38.5 43h1v1h-1zM4 44h1v1h-1zM7 44h1v1h-1zM9 44h1v1h-1zM41 44h1v1h-1zM7.5 45h1v1h-1zM7 46h1v1h-1zM38 46h1v1h-1zM3.5 47h1v1h-1zM5.5 47h1v1h-1zM37.5 47h1v1h-1zM40.5 47h1v1h-1zM8 48h2v1h-2zM38.5 49h1v1h-1zM31 50h1v1h-1zM34 50h2v1h-2zM8.5 51h1v1h-1zM11.5 51h2v1h-2zM34.5 51h1v1h-1zM39.5 51h1v1h-1zM2 52h1v1h-1zM14 52h1v1h-1zM2.5 53h1v1h-1zM4.5 53h1v1h-1zM26.5 53h1v1h-1zM29.5 53h2v1h-2zM34.5 53h1v1h-1zM40.5 53h1v1h-1zM13 54h1v1h-1zM13.5 55h1v1h-1zM15.5 55h1v1h-1zM20.5 55h1v1h-1zM27.5 55h1v1h-1zM37.5 55h2v1h-2z"/>
<path fill="#0012ff" d="M26 0h1v1h-1zM12.5 3h2v1h-2zM18.5 3h1v1h-1zM22.5 3h1v1h-1zM33.5 3h1v1h-1zM20 4h1v1h-1zM27 4h1v1h-1zM37 4h1v1h-1zM11.5 5h1v1h-1zM13.5 5h1v1h-1zM15.5 5h2v1h-2zM18.5 5h2v1h-2zM23.5 5h1v1h-1zM11 6h1v1h-1zM14 6h1v1h-1zM16 6h2v1h-2zM30 6h2v1h-2zM33 6h1v1h-1zM12.5 7h1v1h-1zM29.5 7h1v1h-1zM31.5 7h1v1h-1zM15 8h1v1h-1zM19 8h1v1h-1zM33 8h1v1h-1zM15.5 9h1v1h-1zM37.5 9h1v1h-1zM11 10h2v1h-2zM37 10h2v1h-2zM8.5 11h2v1h-2zM37.5 11h1v1h-1zM39.5 11h2v1h-2zM6 12h1v1h-1zM36 12h3v1h-3zM6.5 13h2v1h-2zM40.5 13h1v1h-1zM38 14h1v1h-1zM41 14h2v1h-2zM44 14h1v1h-1zM43.5 15h1v1h-1zM39 16h1v1h-1zM41 16h1v1h-1zM2.5 17h1v1h-1zM6.5 17h1v1h-1zM42.5 17h2v1h-2zM3 18h1v1h-1zM2.5 19h1v1h-1zM41.5 19h1v1h-1zM44.5 19h1v1h-1zM1 20h2v1h-2zM4 20h1v1h-1zM6 20h1v1h-1zM43 20h1v1h-1zM40.5 21h1v1h-1zM4.5 23h1v1h-1zM5 24h1v1h-1zM44 24h1v1h-1zM46 24h1v1h-1zM0 25h0.5v1h-0.5zM43.5 25h2v1h-2zM0 26h1v1h-1zM3 26h1v1h-1zM5 26h1v1h-1zM4.5 27h1v1h-1zM46.5 27h1v1h-1zM5.5 29h1v1h-1zM47.5 29h0.5v1h-0.5zM5 30h1v1h-1zM45 30h1v1h-1zM3.5 31h1v1h-1zM7.5 31h1v1h-1zM43.5 31h2v1h-2zM7 32h2v1h-2zM4.5 33h1v1h-1zM42.5 33h1v1h-1zM44.5 33h1v1h-1zM3 34h3v1h-3zM43 34h1v1h-1zM44.5 35h1v1h-1zM3 36h1v1h-1zM6 36h1v1h-1zM42 36h2v1h-2zM45 36h1v1h-1zM5.5 37h1v1h-1zM41.5 37h1v1h-1zM4 38h2v1h-2zM42 38h1v1h-1zM42.5 39h2v1h-2zM6 40h1v1h-1zM2.5 41h1v1h-1zM7.5 41h1v1h-1zM43.5 41h1v1h-1zM7 42h2v1h-2zM11 42h1v1h-1zM42 42h1v1h-1zM4.5 43h1v1h-1zM39.5 43h1v1h-1zM6.5 45h1v1h-1zM12.5 45h1v1h-1zM9 46h2v1h-2zM36 46h2v1h-2zM40 46h1v1h-1zM6.5 47h4v1h-4zM38.5 47h1v1h-1zM6 48h1v1h-1zM8.5 49h2v1h-2zM35.5 49h1v1h-1zM10 50h2v1h-2zM41 50h1v1h-1zM31.5 51h3v1h-3zM35.5 51h1v1h-1zM4 52h1v1h-1zM15 52h1v1h-1zM31 52h1v1h-1zM34 52h1v1h-1zM14.5 53h2v1h-2zM17.5 53h1v1h-1zM14 54h4v1h-4zM33 54h1v1h-1zM14.5 55h1v1h-1zM17.5 55h1v1h-1zM21.5 55h1v1h-1zM32.5 55h2v1h-2z"/>
<path fill="#0022ff" d="M19 4h1v1h-1zM25 4h1v1h-1zM14.5 5h1v1h-1zM17.5 5h1v1h-1zM24.5 5h1v1h-1zM26.5 5h3v1h-3zM13 6h1v1h-1zM20 6h1v1h-1zM23 6h4v1h-4zM29 6h1v1h-1zM15.5 7h3v1h-3zM30.5 7h1v1h-1zM32.5 7h1v1h-1zM36.5 7h1v1h-1zM14 8h1v1h-1zM16 8h1v1h-1zM18 8h1v1h-1zM22 8h2v1h-2zM32 8h1v1h-1zM13.5 9h1v1h-1zM18.5 9h1v1h-1zM32.5 9h1v1h-1zM34.5 9h1v1h-1zM14 10h1v1h-1zM34 10h2v1h-2zM35.5 11h2v1h-2zM9 12h1v1h-1zM36.5 13h1v1h-1zM9 14h1v1h-1zM11 14h1v1h-1zM37 14h1v1h-1zM39 14h1v1h-1zM10.5 15h1v1h-1zM38.5 15h1v1h-1zM4 16h2v1h-2zM8 16h1v1h-1zM4.5 17h1v1h-1zM39.5 17h2v1h-2zM41 18h1v1h-1zM6.5 19h1v1h-1zM3 20h1v1h-1zM5 20h1v1h-1zM41 20h1v1h-1zM5.5 21h1v1h-1zM44 22h1v1h-1zM41.5 23h1v1h-1zM43.5 23h1v1h-1zM41 24h1v1h-1zM43 24h1v1h-1zM45 24h1v1h-1zM39.5 25h2v1h-2zM42.5 25h1v1h-1zM40 26h1v1h-1zM45 26h1v1h-1zM3.5 27h1v1h-1zM5.5 27h1v1h-1zM4 28h1v1h-1zM43 28h1v1h-1zM42.5 29h1v1h-1zM6 30h1v1h-1zM41 30h1v1h-1zM2.5 31h1v1h-1zM6.5 31h1v1h-1zM41.5 31h1v1h-1zM5 32h1v1h-1zM2 34h1v1h-1zM44 34h1v1h-1zM46 34h1v1h-1zM3.5 35h1v1h-1zM5.5 35h1v1h-1zM7.5 35h1v1h-1zM40.5 35h1v1h-1zM43.5 35h1v1h-1zM4 36h1v1h-1zM41 38h1v1h-1zM4.5 39h2v1h-2zM39.5 39h2v1h-2zM7 40h1v1h-1zM44 40h1v1h-1zM5.5 41h1v1h-1zM39.5 41h4v1h-4zM9 42h1v1h-1zM39 42h1v1h-1zM10.5 43h1v1h-1zM8 44h1v1h-1zM12 44h2v1h-2zM11.5 45h1v1h-1zM37.5 45h5v1h-5zM8 46h1v1h-1zM11 46h1v1h-1zM34 46h1v1h-1zM41 46h1v1h-1zM10.5 47h1v1h-1zM35.5 47h2v1h-2zM11 48h1v1h-1zM15 48h1v1h-1zM35 48h2v1h-2zM11.5 49h1v1h-1zM33.5 49h1v1h-1zM12 50h1v1h-1zM40 50h1v1h-1zM13.5 51h1v1h-1zM20.5 51h1v1h-1zM12 52h1v1h-1zM21 52h1v1h-1zM32 52h1v1h-1zM25.5 53h1v1h-1zM18 54h1v1h-1zM20 54h2v1h-2zM29 54h1v1h-1zM19.5 55h1v1h-1z"/>
<path fill="#0033ff" d="M23.5 3h1v1h-1zM15 4h1v1h-1zM23 4h1v1h-1zM25.5 5h1v1h-1zM21 6h2v1h-2zM14.5 7h1v1h-1zM19.5 7h1v1h-1zM22.5 7h2v1h-2zM26.5 7h1v1h-1zM28.5 7h1v1h-1zM13 8h1v1h-1zM17 8h1v1h-1zM28 8h1v1h-1zM16.5 9h1v1h-1zM19.5 9h1v1h-1zM28.5 9h1v1h-1zM33.5 9h1v1h-1zM33 10h1v1h-1zM33.5 11h1v1h-1zM7 12h1v1h-1zM12 12h1v1h-1zM34 12h2v1h-2zM40 12h1v1h-1zM9.5 13h1v1h-1zM11.5 13h1v1h-1zM38.5 13h1v1h-1zM8 14h1v1h-1zM10 14h1v1h-1zM6 16h2v1h-2zM4 18h1v1h-1zM6 18h1v1h-1zM40 18h1v1h-1zM42 18h1v1h-1zM3.5 19h1v1h-1zM7.5 19h1v1h-1zM39.5 19h1v1h-1zM39 20h2v1h-2zM42 20h1v1h-1zM8.5 21h1v1h-1zM39.5 21h1v1h-1zM42.5 21h1v1h-1zM5 22h1v1h-1zM41 22h2v1h-2zM42.5 23h1v1h-1zM42 24h1v1h-1zM5.5 25h1v1h-1zM8.5 25h1v1h-1zM6 26h1v1h-1zM6.5 27h1v1h-1zM42.5 27h1v1h-1zM6 28h1v1h-1zM4.5 31h1v1h-1zM40.5 31h1v1h-1zM6 32h1v1h-1zM5.5 33h1v1h-1zM6 34h2v1h-2zM41 34h1v1h-1zM45 34h1v1h-1zM4.5 35h1v1h-1zM6.5 35h1v1h-1zM41 36h1v1h-1zM4.5 37h1v1h-1zM9 38h1v1h-1zM39 38h2v1h-2zM38.5 39h1v1h-1zM41.5 39h1v1h-1zM40 40h2v1h-2zM43 40h1v1h-1zM38.5 41h1v1h-1zM8.5 43h1v1h-1zM36.5 43h1v1h-1zM35 44h1v1h-1zM38 44h2v1h-2zM35.5 45h1v1h-1zM33 46h1v1h-1zM12.5 47h2v1h-2zM10 48h1v1h-1zM13 48h1v1h-1zM16 48h1v1h-1zM34 48h1v1h-1zM12.5 49h1v1h-1zM14.5 49h2v1h-2zM29.5 49h1v1h-1zM31.5 49h2v1h-2zM13 50h1v1h-1zM16 50h1v1h-1zM20 50h1v1h-1zM30 50h1v1h-1zM32 50h2v1h-2zM14.5 51h2v1h-2zM18.5 51h1v1h-1zM28.5 51h2v1h-2zM13 52h1v1h-1zM16 52h2v1h-2zM26 52h1v1h-1zM30 52h1v1h-1zM13.5 53h1v1h-1zM16.5 53h1v1h-1zM18.5 53h1v1h-1zM20.5 53h2v1h-2zM27.5 53h1v1h-1zM22 54h1v1h-1zM28 54h1v1h-1zM22.5 55h1v1h-1zM26.5 55h1v1h-1zM28.5 55h1v1h-1z"/>
<path fill="#0043ff" d="M19 6h1v1h-1zM18.5 7h1v1h-1zM21.5 7h1v1h-1zM24.5 7h1v1h-1zM25 8h1v1h-1zM29 8h2v1h-2zM14.5 9h1v1h-1zM17.5 9h1v1h-1zM23.5 9h1v1h-1zM31.5 9h1v1h-1zM35.5 9h1v1h-1zM15 10h4v1h-4zM29 10h3v1h-3zM13.5 11h2v1h-2zM32.5 11h1v1h-1zM34.5 11h1v1h-1zM14 12h2v1h-2zM14.5 13h1v1h-1zM34.5 13h1v1h-1zM36 14h1v1h-1zM8.5 15h2v1h-2zM40.5 15h1v1h-1zM9 16h2v1h-2zM37 16h2v1h-2zM5.5 17h1v1h-1zM7.5 17h1v1h-1zM9.5 17h2v1h-2zM37.5 17h2v1h-2zM7 18h2v1h-2zM40.5 19h1v1h-1zM42.5 19h1v1h-1zM8 20h1v1h-1zM7.5 21h1v1h-1zM9.5 21h1v1h-1zM38.5 21h1v1h-1zM41.5 21h1v1h-1zM6 22h1v1h-1zM40 22h1v1h-1zM43 22h1v1h-1zM40.5 23h1v1h-1zM9 24h1v1h-1zM40.5 27h1v1h-1zM43.5 27h1v1h-1zM5 28h1v1h-1zM7 28h1v1h-1zM40 28h3v1h-3zM41.5 29h1v1h-1zM39.5 31h1v1h-1zM9 32h1v1h-1zM6.5 33h2v1h-2zM38.5 33h1v1h-1zM41.5 33h1v1h-1zM8 34h1v1h-1zM39.5 35h1v1h-1zM8 36h1v1h-1zM40 36h1v1h-1zM9.5 37h1v1h-1zM39.5 37h2v1h-2zM6 38h1v1h-1zM6.5 39h1v1h-1zM8.5 39h1v1h-1zM8 40h1v1h-1zM38 40h1v1h-1zM7.5 43h1v1h-1zM11.5 43h3v1h-3zM35.5 43h1v1h-1zM11 44h1v1h-1zM36 44h1v1h-1zM40 44h1v1h-1zM35 46h1v1h-1zM11.5 47h1v1h-1zM34.5 47h1v1h-1zM12 48h1v1h-1zM33 48h1v1h-1zM19.5 49h1v1h-1zM30.5 49h1v1h-1zM34.5 49h1v1h-1zM14 50h2v1h-2zM16.5 51h1v1h-1zM21.5 51h1v1h-1zM26.5 51h1v1h-1zM18 52h1v1h-1zM27 52h3v1h-3zM19 54h1v1h-1zM26 54h1v1h-1zM18.5 55h1v1h-1z"/>
<path fill="#0053ff" d="M24 4h1v1h-1zM26 4h1v1h-1zM20.5 7h1v1h-1zM25.5 7h1v1h-1zM20 8h1v1h-1zM24 8h1v1h-1zM26 8h2v1h-2zM22.5 9h1v1h-1zM29.5 9h2v1h-2zM20 10h1v1h-1zM15.5 11h1v1h-1zM17 12h1v1h-1zM13.5 13h1v1h-1zM33.5 13h1v1h-1zM12 14h1v1h-1zM36 16h1v1h-1zM39 18h1v1h-1zM37.5 19h1v1h-1zM7 20h1v1h-1zM6.5 21h1v1h-1zM6.5 23h1v1h-1zM7 24h1v1h-1zM38 24h3v1h-3zM6.5 25h1v1h-1zM41 26h3v1h-3zM39.5 27h1v1h-1zM7.5 29h1v1h-1zM40 32h2v1h-2zM40 34h1v1h-1zM8.5 35h1v1h-1zM10.5 35h1v1h-1zM5 36h1v1h-1zM7 36h1v1h-1zM6.5 37h3v1h-3zM37.5 37h2v1h-2zM7 38h2v1h-2zM9.5 39h1v1h-1zM9 40h1v1h-1zM39 40h1v1h-1zM9.5 41h1v1h-1zM34 42h1v1h-1zM37 42h2v1h-2zM37.5 43h1v1h-1zM13.5 45h1v1h-1zM34.5 45h1v1h-1zM12 46h1v1h-1zM14 46h1v1h-1zM14.5 47h1v1h-1zM16.5 47h1v1h-1zM19.5 47h1v1h-1zM17 48h2v1h-2zM32 48h1v1h-1zM13.5 49h1v1h-1zM16.5 49h1v1h-1zM18.5 49h1v1h-1zM19 50h1v1h-1zM29 50h1v1h-1zM17.5 51h1v1h-1zM19.5 51h1v1h-1zM30.5 51h1v1h-1zM20 52h1v1h-1zM28.5 53h1v1h-1zM25 54h1v1h-1z"/>
<path fill="#0063ff" d="M18 6h1v1h-1zM27 6h1v1h-1zM27.5 7h1v1h-1zM20.5 9h1v1h-1zM25.5 9h1v1h-1zM27.5 9h1v1h-1zM23 10h1v1h-1zM16.5 11h1v1h-1zM20.5 11h1v1h-1zM28.5 11h1v1h-1zM13 12h1v1h-1zM31 12h1v1h-1zM33 12h1v1h-1zM12.5 13h1v1h-1zM35.5 13h1v1h-1zM16 14h1v1h-1zM11.5 15h1v1h-1zM13.5 15h1v1h-1zM35.5 15h1v1h-1zM8.5 17h1v1h-1zM10 18h1v1h-1zM37 18h2v1h-2zM8.5 19h1v1h-1zM36.5 19h1v1h-1zM38.5 19h1v1h-1zM37.5 21h1v1h-1zM7 22h1v1h-1zM38 22h1v1h-1zM5.5 23h1v1h-1zM6 24h1v1h-1zM8 24h1v1h-1zM38.5 25h1v1h-1zM7 26h1v1h-1zM39 26h1v1h-1zM41.5 27h1v1h-1zM39 28h1v1h-1zM6.5 29h1v1h-1zM40.5 29h1v1h-1zM7 30h2v1h-2zM40 30h1v1h-1zM8.5 31h2v1h-2zM39 32h1v1h-1zM8.5 33h1v1h-1zM37.5 33h1v1h-1zM39.5 33h2v1h-2zM35 34h1v1h-1zM39 34h1v1h-1zM38.5 35h1v1h-1zM39 36h1v1h-1zM11.5 37h2v1h-2zM37 38h2v1h-2zM7.5 39h1v1h-1zM36 40h1v1h-1zM8.5 41h1v1h-1zM35.5 41h3v1h-3zM35 42h2v1h-2zM34.5 43h1v1h-1zM14 44h1v1h-1zM31 44h2v1h-2zM34 44h1v1h-1zM37 44h1v1h-1zM14.5 45h1v1h-1zM31.5 45h1v1h-1zM33.5 45h1v1h-1zM36.5 45h1v1h-1zM15 46h1v1h-1zM15.5 47h1v1h-1zM17.5 47h1v1h-1zM32.5 47h2v1h-2zM20 48h1v1h-1zM30 48h1v1h-1zM17.5 49h1v1h-1zM21 50h1v1h-1zM27.5 51h1v1h-1zM22.5 53h1v1h-1zM23 54h1v1h-1zM25.5 55h1v1h-1z"/>
<path fill="#0073ff" d="M21 8h1v1h-1zM24.5 9h1v1h-1zM26.5 9h1v1h-1zM19 10h1v1h-1zM25 10h1v1h-1zM27 10h2v1h-2zM17.5 11h1v1h-1zM19.5 11h1v1h-1zM29.5 11h3v1h-3zM27 12h1v1h-1zM30 12h1v1h-1zM32 12h1v1h-1zM15.5 13h2v1h-2zM30.5 13h1v1h-1zM13 14h1v1h-1zM15.5 15h1v1h-1zM11 16h1v1h-1zM33 16h1v1h-1zM35.5 17h2v1h-2zM9 18h1v1h-1zM36 18h1v1h-1zM9.5 19h1v1h-1zM9 20h1v1h-1zM8 22h2v1h-2zM12 22h1v1h-1zM37 22h1v1h-1zM39 22h1v1h-1zM7.5 23h1v1h-1zM39.5 23h1v1h-1zM7.5 25h1v1h-1zM9.5 25h1v1h-1zM37.5 25h1v1h-1zM41.5 25h1v1h-1zM9 26h1v1h-1zM38 26h1v1h-1zM7.5 27h1v1h-1zM36 28h3v1h-3zM8.5 29h1v1h-1zM39.5 29h1v1h-1zM9 30h1v1h-1zM38 30h2v1h-2zM10 32h1v1h-1zM9 34h1v1h-1zM11 34h1v1h-1zM38 34h1v1h-1zM9.5 35h1v1h-1zM11.5 35h1v1h-1zM9 36h2v1h-2zM12 36h2v1h-2zM10 38h2v1h-2zM10.5 39h1v1h-1zM12 40h1v1h-1zM15 40h1v1h-1zM35 40h1v1h-1zM37 40h1v1h-1zM10 42h1v1h-1zM13 42h1v1h-1zM31 42h1v1h-1zM33 42h1v1h-1zM14.5 43h1v1h-1zM17.5 43h1v1h-1zM30.5 43h1v1h-1zM33.5 43h1v1h-1zM18 44h1v1h-1zM32.5 45h1v1h-1zM16 46h2v1h-2zM28 46h2v1h-2zM32 46h1v1h-1zM29.5 47h1v1h-1zM14 48h1v1h-1zM27 48h1v1h-1zM29 48h1v1h-1zM20.5 49h1v1h-1zM28.5 49h1v1h-1zM17 50h2v1h-2zM28 50h1v1h-1zM25.5 51h1v1h-1zM19 52h1v1h-1zM25 52h1v1h-1zM23.5 53h1v1h-1zM24.5 55h1v1h-1z"/>
<path fill="#0084ff" d="M28 6h1v1h-1zM24 10h1v1h-1zM26 10h1v1h-1zM32 10h1v1h-1zM18.5 11h1v1h-1zM24.5 11h1v1h-1zM26.5 11h2v1h-2zM16 12h1v1h-1zM17.5 13h1v1h-1zM29.5 13h1v1h-1zM14 14h2v1h-2zM17 14h1v1h-1zM30 14h2v1h-2zM35 14h1v1h-1zM12.5 15h1v1h-1zM12 16h1v1h-1zM35 16h1v1h-1zM33.5 17h1v1h-1zM14.5 19h1v1h-1zM12 20h1v1h-1zM36.5 21h1v1h-1zM8.5 23h2v1h-2zM37.5 23h2v1h-2zM36 24h1v1h-1zM8.5 27h1v1h-1zM38.5 27h1v1h-1zM9 28h1v1h-1zM9.5 29h1v1h-1zM37.5 29h1v1h-1zM10 30h1v1h-1zM11 32h1v1h-1zM9.5 33h1v1h-1zM37 34h1v1h-1zM12.5 35h1v1h-1zM11 36h1v1h-1zM36 36h1v1h-1zM38 36h1v1h-1zM10.5 37h1v1h-1zM12 38h1v1h-1zM12.5 39h1v1h-1zM35.5 39h3v1h-3zM10 40h1v1h-1zM10.5 41h1v1h-1zM32.5 41h2v1h-2zM14 42h1v1h-1zM15.5 43h1v1h-1zM31.5 43h1v1h-1zM19 44h1v1h-1zM13 46h1v1h-1zM19 46h2v1h-2zM30 46h2v1h-2zM18.5 47h1v1h-1zM26.5 47h1v1h-1zM30.5 47h2v1h-2zM21 48h1v1h-1zM26 48h1v1h-1zM31 48h1v1h-1zM22 52h1v1h-1zM19.5 53h1v1h-1zM23.5 55h1v1h-1z"/>
<path fill="#0094ff" d="M21.5 9h1v1h-1zM21 10h1v1h-1zM21.5 11h3v1h-3zM25.5 11h1v1h-1zM18 12h1v1h-1zM20 12h2v1h-2zM23 12h2v1h-2zM34 14h1v1h-1zM16.5 15h1v1h-1zM29.5 15h2v1h-2zM13 16h2v1h-2zM16 16h1v1h-1zM11 18h2v1h-2zM35 18h1v1h-1zM32.5 19h1v1h-1zM10 20h1v1h-1zM37 20h2v1h-2zM10.5 23h1v1h-1zM12.5 23h1v1h-1zM12 24h1v1h-1zM37 24h1v1h-1zM36.5 25h1v1h-1zM8 26h1v1h-1zM36.5 27h1v1h-1zM8 28h1v1h-1zM38.5 29h1v1h-1zM11 30h1v1h-1zM10.5 33h2v1h-2zM37 36h1v1h-1zM36 38h1v1h-1zM11.5 39h1v1h-1zM13.5 41h1v1h-1zM34.5 41h1v1h-1zM12 42h1v1h-1zM32 42h1v1h-1zM32.5 43h1v1h-1zM30 44h1v1h-1zM15.5 45h2v1h-2zM18.5 45h1v1h-1zM18 46h1v1h-1zM21 46h1v1h-1zM20.5 47h1v1h-1zM27.5 47h2v1h-2zM19 48h1v1h-1zM26 50h2v1h-2zM24.5 53h1v1h-1z"/>
<path fill="#00a4ff" d="M22 10h1v1h-1zM19 12h1v1h-1zM25 12h2v1h-2zM29 12h1v1h-1zM20.5 13h1v1h-1zM25.5 13h1v1h-1zM31.5 13h1v1h-1zM18 14h1v1h-1zM29 14h1v1h-1zM14.5 15h1v1h-1zM17.5 15h1v1h-1zM17 16h1v1h-1zM19 16h1v1h-1zM30 16h1v1h-1zM11.5 17h1v1h-1zM14.5 17h1v1h-1zM34.5 17h1v1h-1zM13 18h1v1h-1zM13 20h1v1h-1zM12.5 21h1v1h-1zM13 22h1v1h-1zM36 22h1v1h-1zM11.5 23h1v1h-1zM36.5 23h1v1h-1zM10 26h1v1h-1zM37 26h1v1h-1zM9.5 27h1v1h-1zM37.5 27h1v1h-1zM10 28h2v1h-2zM10.5 29h1v1h-1zM36.5 29h1v1h-1zM10.5 31h1v1h-1zM37.5 31h1v1h-1zM35 32h2v1h-2zM38 32h1v1h-1zM34.5 33h3v1h-3zM10 34h1v1h-1zM12 34h1v1h-1zM36.5 35h2v1h-2zM13.5 37h1v1h-1zM11 40h1v1h-1zM13 40h2v1h-2zM11.5 41h1v1h-1zM15.5 41h1v1h-1zM15 42h2v1h-2zM30 42h1v1h-1zM16.5 43h1v1h-1zM29.5 43h1v1h-1zM16 44h2v1h-2zM33 44h1v1h-1zM17.5 45h1v1h-1zM19.5 45h1v1h-1zM29.5 45h1v1h-1zM25.5 47h1v1h-1zM28 48h1v1h-1zM21.5 49h1v1h-1zM22 50h1v1h-1zM23 52h1v1h-1zM24 54h1v1h-1z"/>
<path fill="#00b4ff" d="M18.5 13h1v1h-1zM21.5 13h2v1h-2zM24.5 13h1v1h-1zM28.5 13h1v1h-1zM32.5 13h1v1h-1zM27 14h1v1h-1zM28.5 15h1v1h-1zM34.5 15h1v1h-1zM29 16h1v1h-1zM34 16h1v1h-1zM13.5 17h1v1h-1zM32.5 17h1v1h-1zM14 18h2v1h-2zM34 18h1v1h-1zM10.5 19h2v1h-2zM34.5 19h2v1h-2zM35 20h2v1h-2zM11.5 21h1v1h-1zM10 22h1v1h-1zM35.5 23h1v1h-1zM10 24h1v1h-1zM13 24h1v1h-1zM10.5 25h2v1h-2zM12 26h1v1h-1zM11.5 27h1v1h-1zM35.5 29h1v1h-1zM36 30h2v1h-2zM34 34h1v1h-1zM36 34h1v1h-1zM35.5 35h1v1h-1zM35 36h1v1h-1zM36.5 37h1v1h-1zM13 38h1v1h-1zM35 38h1v1h-1zM32 40h1v1h-1zM12.5 41h1v1h-1zM14.5 41h1v1h-1zM27 42h1v1h-1zM18.5 43h1v1h-1zM15 44h1v1h-1zM28.5 45h1v1h-1zM30.5 45h1v1h-1zM25 48h1v1h-1zM25.5 49h3v1h-3zM25 50h1v1h-1z"/>
<path fill="#00c4ff" d="M22 12h1v1h-1zM28 12h1v1h-1zM19.5 13h1v1h-1zM23.5 13h1v1h-1zM26.5 13h2v1h-2zM19 14h1v1h-1zM21 14h1v1h-1zM28 14h1v1h-1zM33 14h1v1h-1zM31.5 15h1v1h-1zM33.5 15h1v1h-1zM31 16h1v1h-1zM12.5 17h1v1h-1zM15.5 17h1v1h-1zM28.5 17h2v1h-2zM31.5 17h1v1h-1zM33 18h1v1h-1zM13.5 21h1v1h-1zM11 22h1v1h-1zM35 22h1v1h-1zM13.5 23h1v1h-1zM14 24h1v1h-1zM35 24h1v1h-1zM13.5 25h1v1h-1zM10.5 27h1v1h-1zM35 30h1v1h-1zM11.5 31h1v1h-1zM38.5 31h1v1h-1zM12 32h1v1h-1zM34.5 35h1v1h-1zM14 36h1v1h-1zM13.5 39h1v1h-1zM19.5 39h1v1h-1zM34.5 39h1v1h-1zM30 40h1v1h-1zM34 40h1v1h-1zM27.5 41h1v1h-1zM30.5 41h1v1h-1zM18 42h1v1h-1zM22 48h1v1h-1z"/>
<path fill="#00d4ff" d="M20 14h1v1h-1zM26 14h1v1h-1zM32 14h1v1h-1zM21.5 15h1v1h-1zM32.5 15h1v1h-1zM15 16h1v1h-1zM28 16h1v1h-1zM16.5 17h1v1h-1zM28 18h1v1h-1zM32 18h1v1h-1zM13.5 19h1v1h-1zM15.5 19h1v1h-1zM33.5 19h1v1h-1zM15 20h1v1h-1zM34 20h1v1h-1zM10.5 21h1v1h-1zM34.5 21h1v1h-1zM14 22h1v1h-1zM11 24h1v1h-1zM12.5 25h1v1h-1zM34.5 25h2v1h-2zM13 26h1v1h-1zM35.5 27h1v1h-1zM11.5 29h1v1h-1zM34.5 31h1v1h-1zM37 32h1v1h-1zM13.5 33h1v1h-1zM15 36h2v1h-2zM34.5 37h1v1h-1zM14 38h1v1h-1zM20.5 39h1v1h-1zM20 40h1v1h-1zM31.5 41h1v1h-1zM19 42h1v1h-1zM20 44h1v1h-1zM25 44h1v1h-1zM27 44h2v1h-2zM27.5 45h1v1h-1zM27 46h1v1h-1zM21.5 47h1v1h-1zM22.5 49h1v1h-1zM22.5 51h1v1h-1z"/>
<path fill="#00e5ff" d="M24 14h2v1h-2zM18.5 15h1v1h-1zM22.5 15h1v1h-1zM26.5 15h2v1h-2zM18 16h1v1h-1zM24 16h1v1h-1zM32 16h1v1h-1zM16 18h2v1h-2zM29 18h1v1h-1zM12.5 19h1v1h-1zM31.5 19h1v1h-1zM11 20h1v1h-1zM14 20h1v1h-1zM33.5 21h1v1h-1zM35.5 21h1v1h-1zM34.5 23h1v1h-1zM33.5 25h1v1h-1zM11 26h1v1h-1zM14 26h1v1h-1zM36 26h1v1h-1zM34.5 27h1v1h-1zM12 28h1v1h-1zM34 28h2v1h-2zM34.5 29h1v1h-1zM12.5 31h1v1h-1zM36.5 31h1v1h-1zM13 32h1v1h-1zM33.5 33h1v1h-1zM13 34h1v1h-1zM13.5 35h1v1h-1zM33.5 37h1v1h-1zM35.5 37h1v1h-1zM19 38h1v1h-1zM14.5 39h1v1h-1zM16.5 39h1v1h-1zM33.5 39h1v1h-1zM16 40h1v1h-1zM31 40h1v1h-1zM33 40h1v1h-1zM16.5 41h1v1h-1zM19.5 41h1v1h-1zM26.5 41h1v1h-1zM17 42h1v1h-1zM20.5 43h1v1h-1zM28.5 43h1v1h-1zM23 44h1v1h-1zM29 44h1v1h-1zM20.5 45h1v1h-1zM25.5 45h2v1h-2zM22 46h1v1h-1zM26 46h1v1h-1z"/>
<path fill="#00f5ff" d="M22 14h1v1h-1zM19.5 15h1v1h-1zM20 16h1v1h-1zM30.5 17h1v1h-1zM30 18h1v1h-1zM16.5 19h1v1h-1zM32 20h2v1h-2zM15 24h1v1h-1zM35 26h1v1h-1zM14.5 27h1v1h-1zM33.5 27h1v1h-1zM14 28h1v1h-1zM12.5 29h1v1h-1zM12 30h1v1h-1zM35.5 31h1v1h-1zM16 32h1v1h-1zM12.5 33h1v1h-1zM33 34h1v1h-1zM15.5 35h1v1h-1zM33.5 35h1v1h-1zM34 38h1v1h-1zM15.5 39h1v1h-1zM27 40h1v1h-1zM22.5 41h1v1h-1zM28.5 41h1v1h-1zM28 42h2v1h-2zM19.5 43h1v1h-1zM27.5 43h1v1h-1zM22.5 45h1v1h-1zM24.5 47h1v1h-1zM24 52h1v1h-1z"/>
<path fill="#06fff9" d="M20.5 15h1v1h-1zM25.5 15h1v1h-1zM21 16h2v1h-2zM25 16h2v1h-2zM19.5 17h1v1h-1zM31 18h1v1h-1zM31 20h1v1h-1zM14.5 21h1v1h-1zM32.5 21h1v1h-1zM32 22h1v1h-1zM34 22h1v1h-1zM14.5 23h1v1h-1zM32.5 23h1v1h-1zM13.5 29h1v1h-1zM33.5 29h1v1h-1zM13 30h1v1h-1zM34 30h1v1h-1zM31 32h1v1h-1zM34 32h1v1h-1zM15.5 33h1v1h-1zM32.5 33h1v1h-1zM14 34h2v1h-2zM14.5 35h1v1h-1zM34 36h1v1h-1zM17.5 37h1v1h-1zM15 38h1v1h-1zM32 38h1v1h-1zM19 40h1v1h-1zM29 40h1v1h-1zM20.5 41h1v1h-1zM29.5 41h1v1h-1zM22 42h1v1h-1zM21 44h1v1h-1zM23 46h1v1h-1zM25 46h1v1h-1zM22.5 47h2v1h-2zM24 48h1v1h-1z"/>
<path fill="#16ffe9" d="M23 16h1v1h-1zM27 16h1v1h-1zM17.5 17h2v1h-2zM20.5 17h1v1h-1zM27 18h1v1h-1zM27.5 19h1v1h-1zM16 20h1v1h-1zM15 22h1v1h-1zM33 22h1v1h-1zM15.5 23h1v1h-1zM33.5 23h1v1h-1zM33 24h1v1h-1zM34 26h1v1h-1zM33 28h1v1h-1zM15.5 29h1v1h-1zM14 30h1v1h-1zM13.5 31h1v1h-1zM15.5 31h1v1h-1zM33 32h1v1h-1zM31 34h2v1h-2zM31.5 35h1v1h-1zM33 36h1v1h-1zM18 38h1v1h-1zM32.5 39h1v1h-1zM17 40h1v1h-1zM21 40h1v1h-1zM20 42h2v1h-2zM23 42h1v1h-1zM21.5 43h1v1h-1zM26.5 43h1v1h-1zM26 44h1v1h-1zM23.5 45h2v1h-2zM24.5 49h1v1h-1z"/>
<path fill="#26ffd9" d="M23 14h1v1h-1zM23.5 15h2v1h-2zM24.5 17h1v1h-1zM26.5 17h2v1h-2zM20 18h1v1h-1zM28.5 19h2v1h-2zM18 20h1v1h-1zM28 20h2v1h-2zM16 24h1v1h-1zM34 24h1v1h-1zM15.5 25h1v1h-1zM12.5 27h2v1h-2zM13 28h1v1h-1zM14.5 29h1v1h-1zM14.5 31h1v1h-1zM16.5 31h1v1h-1zM31.5 31h1v1h-1zM14 32h2v1h-2zM32 32h1v1h-1zM14.5 33h1v1h-1zM17 36h1v1h-1zM31 36h2v1h-2zM15.5 37h1v1h-1zM18.5 37h1v1h-1zM20.5 37h1v1h-1zM20 38h1v1h-1zM33 38h1v1h-1zM17.5 39h2v1h-2zM29.5 39h1v1h-1zM31.5 39h1v1h-1zM28 40h1v1h-1zM21.5 41h1v1h-1zM25.5 41h1v1h-1zM26 42h1v1h-1zM22.5 43h1v1h-1zM25.5 43h1v1h-1zM22 44h1v1h-1zM21.5 45h1v1h-1zM24 46h1v1h-1zM23 48h1v1h-1z"/>
<path fill="#37ffc8" d="M17.5 19h1v1h-1zM17 20h1v1h-1zM15.5 21h1v1h-1zM14.5 25h1v1h-1zM15 26h1v1h-1zM32.5 27h1v1h-1zM32 30h1v1h-1zM32.5 31h2v1h-2zM16 34h1v1h-1zM16.5 35h1v1h-1zM30.5 35h1v1h-1zM32.5 35h1v1h-1zM30 36h1v1h-1zM16.5 37h1v1h-1zM31.5 37h1v1h-1zM16 38h1v1h-1zM30.5 39h1v1h-1zM24 42h1v1h-1z"/>
<path fill="#47ffb8" d="M21.5 17h1v1h-1zM25.5 17h1v1h-1zM18 18h1v1h-1zM19.5 19h2v1h-2zM30.5 19h1v1h-1zM30 20h1v1h-1zM16.5 21h1v1h-1zM16 22h1v1h-1zM16.5 23h2v1h-2zM33 26h1v1h-1zM32 28h1v1h-1zM32.5 29h1v1h-1zM15 30h1v1h-1zM31 30h1v1h-1zM14.5 37h1v1h-1zM30.5 37h1v1h-1zM30 38h1v1h-1zM21.5 39h1v1h-1zM28.5 39h1v1h-1zM18 40h1v1h-1zM22 40h1v1h-1zM26 40h1v1h-1zM17.5 41h1v1h-1zM23.5 41h1v1h-1zM24 44h1v1h-1z"/>
<path fill="#57ffa8" d="M23.5 17h1v1h-1zM21 18h1v1h-1zM23 18h1v1h-1zM18.5 19h1v1h-1zM20 20h1v1h-1zM17.5 21h2v1h-2zM29.5 21h1v1h-1zM31.5 21h1v1h-1zM30 22h2v1h-2zM32 24h1v1h-1zM32.5 25h1v1h-1zM16 30h1v1h-1zM33 30h1v1h-1zM31.5 33h1v1h-1zM17.5 35h1v1h-1zM19.5 37h1v1h-1zM29.5 37h1v1h-1zM32.5 37h1v1h-1zM17 38h1v1h-1zM21 38h1v1h-1zM18.5 41h1v1h-1z"/>
<path fill="#67ff98" d="M19 18h1v1h-1zM26 18h1v1h-1zM19 20h1v1h-1zM28.5 21h1v1h-1zM31.5 23h1v1h-1zM17 24h1v1h-1zM30 24h1v1h-1zM15.5 27h1v1h-1zM15 28h1v1h-1zM31.5 29h1v1h-1zM17.5 31h1v1h-1zM30.5 31h1v1h-1zM16.5 33h1v1h-1zM18.5 35h1v1h-1zM28.5 37h1v1h-1zM28 38h2v1h-2zM31 38h1v1h-1zM23 40h1v1h-1zM25 40h1v1h-1zM23.5 43h2v1h-2zM24.5 51h1v1h-1z"/>
<path fill="#77ff88" d="M22.5 17h1v1h-1zM25.5 19h2v1h-2zM26 20h1v1h-1zM17 22h2v1h-2zM16.5 25h1v1h-1zM30.5 25h2v1h-2zM16.5 27h1v1h-1zM17 32h1v1h-1zM30 32h1v1h-1zM18 36h1v1h-1zM27 38h1v1h-1zM22.5 39h1v1h-1zM27.5 39h1v1h-1zM24 40h1v1h-1zM24.5 41h1v1h-1zM23 50h1v1h-1z"/>
<path fill="#88ff77" d="M22 18h1v1h-1zM24 18h2v1h-2zM27 20h1v1h-1zM18.5 23h1v1h-1zM18 24h1v1h-1zM29.5 31h1v1h-1zM19 34h2v1h-2zM30 34h1v1h-1zM19.5 35h1v1h-1zM21 36h1v1h-1zM29 36h1v1h-1zM25.5 39h1v1h-1z"/>
<path fill="#98ff67" d="M22.5 19h1v1h-1zM20.5 21h1v1h-1zM26.5 21h2v1h-2zM30.5 21h1v1h-1zM29.5 23h1v1h-1zM31 24h1v1h-1zM16 26h1v1h-1zM31 26h2v1h-2zM16 28h1v1h-1zM17 30h1v1h-1zM29.5 33h2v1h-2zM17 34h2v1h-2zM29.5 35h1v1h-1zM19 36h2v1h-2zM22 38h1v1h-1zM26 38h1v1h-1zM26.5 39h1v1h-1zM25 42h1v1h-1z"/>
<path fill="#a8ff57" d="M21.5 19h1v1h-1zM19.5 21h1v1h-1zM19 22h1v1h-1zM29 22h1v1h-1zM30.5 23h1v1h-1zM30 26h1v1h-1zM31.5 27h1v1h-1zM18.5 33h1v1h-1zM23 38h1v1h-1zM25 38h1v1h-1zM23.5 49h1v1h-1z"/>
<path fill="#b8ff47" d="M23.5 19h1v1h-1zM25 20h1v1h-1zM19.5 23h1v1h-1zM31 28h1v1h-1zM21.5 37h1v1h-1zM27.5 37h1v1h-1zM24 38h1v1h-1zM23.5 39h1v1h-1z"/>
<path fill="#c8ff37" d="M18.5 29h1v1h-1zM18 30h1v1h-1zM29 34h1v1h-1zM20.5 35h1v1h-1zM28 36h1v1h-1zM26.5 37h1v1h-1zM24.5 39h1v1h-1z"/>
<path fill="#d9ff26" d="M24.5 19h1v1h-1zM21 20h1v1h-1zM25.5 21h1v1h-1zM20 22h2v1h-2zM27 22h1v1h-1zM17 28h1v1h-1zM16.5 29h1v1h-1zM30 30h1v1h-1zM29 32h1v1h-1zM21 34h1v1h-1zM22 36h1v1h-1zM22.5 37h1v1h-1zM24.5 37h2v1h-2z"/>
<path fill="#e9ff16" d="M24 20h1v1h-1zM28 22h1v1h-1zM27.5 23h1v1h-1zM19 24h1v1h-1zM29.5 25h1v1h-1zM17 26h2v1h-2zM28.5 33h1v1h-1zM28.5 35h1v1h-1zM23 36h1v1h-1z"/>
<path fill="#f9ff06" d="M22 20h1v1h-1zM24 22h1v1h-1zM30.5 27h1v1h-1zM17.5 29h1v1h-1zM30.5 29h1v1h-1zM19 30h1v1h-1zM29 30h1v1h-1zM18.5 31h1v1h-1zM17.5 33h1v1h-1zM19.5 33h1v1h-1zM28 34h1v1h-1zM21.5 35h1v1h-1zM27.5 35h1v1h-1zM27 36h1v1h-1zM23.5 37h1v1h-1z"/>
<path fill="#fff500" d="M25 22h2v1h-2zM20.5 23h1v1h-1zM20 24h1v1h-1zM29 24h1v1h-1zM17.5 25h2v1h-2zM27.5 25h1v1h-1zM22.5 35h1v1h-1zM25.5 35h1v1h-1z"/>
<path fill="#ffe500" d="M29 26h1v1h-1zM18 28h1v1h-1zM29.5 29h1v1h-1zM27.5 33h1v1h-1zM26 34h2v1h-2z"/>
<path fill="#ffd500" d="M23 20h1v1h-1zM21.5 21h1v1h-1zM23.5 21h1v1h-1zM22 22h1v1h-1zM19.5 29h1v1h-1zM23 34h2v1h-2zM24.5 35h1v1h-1zM24 36h1v1h-1zM26 36h1v1h-1z"/>
<path fill="#ffc400" d="M24.5 23h2v1h-2zM28.5 23h1v1h-1zM28 24h1v1h-1zM28.5 25h1v1h-1zM19 26h2v1h-2zM17.5 27h1v1h-1zM28.5 31h1v1h-1zM18 32h3v1h-3zM20.5 33h2v1h-2zM22 34h1v1h-1z"/>
<path fill="#ffb400" d="M24.5 21h1v1h-1zM19.5 25h1v1h-1zM20 28h1v1h-1zM30 28h1v1h-1zM27.5 29h1v1h-1zM20 30h1v1h-1zM26 32h2v1h-2zM26.5 35h1v1h-1zM25 36h1v1h-1z"/>
<path fill="#ffa400" d="M26.5 23h1v1h-1zM26 24h2v1h-2zM18.5 27h1v1h-1zM19 28h1v1h-1zM24 28h1v1h-1zM29 28h1v1h-1zM28 30h1v1h-1zM21 32h1v1h-1zM28 32h1v1h-1zM25.5 33h2v1h-2z"/>
<path fill="#ff9400" d="M22.5 21h1v1h-1zM21.5 23h1v1h-1zM28.5 29h1v1h-1zM27.5 31h1v1h-1zM22.5 33h1v1h-1zM25 34h1v1h-1zM23.5 35h1v1h-1zM24 50h1v1h-1z"/>
<path fill="#ff8400" d="M22.5 23h2v1h-2zM19.5 27h1v1h-1zM25 30h3v1h-3zM25.5 31h1v1h-1zM22 32h1v1h-1z"/>
<path fill="#ff7300" d="M21 24h1v1h-1zM23.5 25h1v1h-1zM26.5 25h1v1h-1zM29.5 27h1v1h-1zM28 28h1v1h-1zM24.5 31h1v1h-1z"/>
<path fill="#ff6300" d="M24 24h2v1h-2zM19.5 31h1v1h-1zM26.5 31h1v1h-1zM23.5 33h1v1h-1z"/>
<path fill="#ff5300" d="M23 22h1v1h-1zM20.5 25h1v1h-1zM28 26h1v1h-1zM24.5 27h1v1h-1zM27.5 27h2v1h-2zM21 28h1v1h-1z"/>
<path fill="#ff4300" d="M27 26h1v1h-1zM23.5 27h1v1h-1zM27 28h1v1h-1zM24.5 33h1v1h-1z"/>
<path fill="#ff3300" d="M23 24h1v1h-1zM24.5 25h1v1h-1zM25 28h1v1h-1zM22.5 31h2v1h-2z"/>
<path fill="#ff2200" d="M22 24h1v1h-1zM26.5 27h1v1h-1zM26 28h1v1h-1zM20.5 29h1v1h-1zM24.5 29h2v1h-2zM24 30h1v1h-1zM20.5 31h1v1h-1zM25 32h1v1h-1z"/>
<path fill="#ff1200" d="M21.5 25h1v1h-1zM20.5 27h1v1h-1zM21 30h1v1h-1zM21.5 31h1v1h-1zM23 32h1v1h-1z"/>
<path fill="#ff0200" d="M21 26h1v1h-1zM21.5 29h1v1h-1zM26.5 29h1v1h-1z"/>
<path fill="#f10000" d="M22.5 25h1v1h-1zM24 26h1v1h-1zM23 28h1v1h-1zM24 32h1v1h-1z"/>
<path fill="#e10000" d="M25.5 25h1v1h-1zM22.5 27h1v1h-1zM22.5 29h1v1h-1zM22 30h1v1h-1z"/>
<path fill="#d00000" d="M21.5 27h1v1h-1zM23.5 51h1v1h-1z"/>
<path fill="#c00000" d="M25.5 27h1v1h-1zM23.5 29h1v1h-1z"/>
<path fill="#b00000" d="M22 26h2v1h-2zM23 30h1v1h-1z"/>
<path fill="#a00000" d="M22 28h1v1h-1z"/>
<path fill="#900000" d="M25 26h2v1h-2z"/>
</g>
<path d="M65.6 90.6 L68.2 80.9 L73.3 68.2 L80.9 55.4 L90.6 39.7" fill="none" stroke="#000" stroke-width="1.0" stroke-linejoin="round" stroke-linecap="round"/>
<path d="M65.6 88.5 L70.7 82.2 L78.3 77.1 L84.7 73.3 L92.3 75.8 L93.6 77.8 L83.4 79.6 L74.5 80.9 L68.2 84.7" fill="none" stroke="#000" stroke-width="1.0" stroke-linejoin="round" stroke-linecap="round"/>
<path d="M66.5 86.0 L68.2 80.9 L75.8 68.2 L83.4 56.7 L84.7 54.2 L94.9 54.2" fill="none" stroke="#000" stroke-width="1.0" stroke-linejoin="round" stroke-linecap="round"/>
<path d="M65.6 89.8 L60.5 83.4 L56.7 70.7 L54.2 58.0 L49.1 50.4 L40.2 45.3" fill="none" stroke="#000" stroke-width="1.0" stroke-linejoin="round" stroke-linecap="round"/>
<path d="M65.6 89.8 L58.0 80.9 L47.8 70.7 L41.5 65.6 L35.6 60.5" fill="none" stroke="#000" stroke-width="1.0" stroke-linejoin="round" stroke-linecap="round"/>
<path d="M65.0 88.5 L61.0 81.0 L58.0 75.0 L56.6 68.0 L56.0 60.0 L56.6 54.0 L57.4 48.0 L58.0 43.0" fill="none" stroke="#000" stroke-width="1.0" stroke-linejoin="round" stroke-linecap="round"/>
<path d="M66.0 89.0 L64.0 82.0 L61.0 74.0 L59.0 66.0 L58.6 58.0 L60.0 52.0 L62.6 47.0" fill="none" stroke="#000" stroke-width="1.0" stroke-linejoin="round" stroke-linecap="round"/>
<path d="M66.0 89.6 L66.0 76.0 L66.6 68.0 L67.0 60.0 L68.0 54.0" fill="none" stroke="#000" stroke-width="1.0" stroke-linejoin="round" stroke-linecap="round"/>
<path d="M65.6 86.0 L60.0 78.0 L55.4 72.0 L50.0 68.0 L46.5 65.6" fill="none" stroke="#000" stroke-width="1.0" stroke-linejoin="round" stroke-linecap="round"/>
<path d="M65.6 87.0 L60.0 80.0 L55.0 74.0 L49.0 68.0 L44.0 60.5 L45.0 58.0" fill="none" stroke="#000" stroke-width="1.0" stroke-linejoin="round" stroke-linecap="round"/>
<path d="M66.0 89.6 L65.5 83.0 L65.0 76.0 L64.0 70.0 L63.0 65.0 L61.0 60.0 L58.0 55.0" fill="none" stroke="#000" stroke-width="1.0" stroke-linejoin="round" stroke-linecap="round"/>
<path d="M66.0 88.0 L68.0 82.0 L71.0 76.0 L75.0 70.0 L78.0 66.0 L84.0 62.0 L85.0 58.0" fill="none" stroke="#000" stroke-width="1.0" stroke-linejoin="round" stroke-linecap="round"/>
<path d="M66.0 89.0 L69.0 84.0 L72.0 80.0 L77.0 75.0 L80.0 73.0" fill="none" stroke="#000" stroke-width="1.0" stroke-linejoin="round" stroke-linecap="round"/>
<path d="M66.5 88.0 L69.0 82.0 L73.0 76.0 L78.0 73.0 L83.0 71.0 L86.0 70.0" fill="none" stroke="#000" stroke-width="1.0" stroke-linejoin="round" stroke-linecap="round"/>
<path d="M66.0 89.0 L66.0 76.0 L65.5 66.5 L61.7 63.6 L58.0 61.7 L54.2 59.8 L49.5 58.9" fill="none" stroke="#000" stroke-width="1.0" stroke-linejoin="round" stroke-linecap="round"/>
<path d="M66.5 88.2 L61.7 83.5 L58.0 79.7 L58.0 73.1 L56.6 64.6 L56.1 57.0 L57.0 49.5 L58.0 42.8" fill="none" stroke="#000" stroke-width="1.0" stroke-linejoin="round" stroke-linecap="round"/>
<path d="M65.5 82.5 L61.7 74.0 L58.9 66.5 L57.0 58.9 L58.9 53.2 L62.7 47.6" fill="none" stroke="#000" stroke-width="1.0" stroke-linejoin="round" stroke-linecap="round"/>
<path d="M62.7 67.4 L59.8 63.6 L57.0 58.9 L54.2 55.1 L50.4 51.3 L45.7 47.6 L40.0 44.7" fill="none" stroke="#000" stroke-width="1.0" stroke-linejoin="round" stroke-linecap="round"/>
<path d="M66.0 89.0 L67.5 80.0 L69.0 72.0 L71.0 66.0 L74.0 62.0" fill="none" stroke="#000" stroke-width="1.0" stroke-linejoin="round" stroke-linecap="round"/>
<path d="M66.0 89.0 L64.0 84.0 L61.0 80.0 L60.0 76.0 L61.0 71.0 L63.0 68.0" fill="none" stroke="#000" stroke-width="1.0" stroke-linejoin="round" stroke-linecap="round"/>
<path d="M65.5 89.5 L65.3 82.0 L65.0 76.0 L64.0 70.0 L62.0 64.0 L60.0 58.0" fill="none" stroke="#000" stroke-width="1.0" stroke-linejoin="round" stroke-linecap="round"/>
<path d="M66.0 89.5 L66.3 80.0 L67.0 72.0 L68.0 64.0 L70.0 58.0" fill="none" stroke="#000" stroke-width="1.0" stroke-linejoin="round" stroke-linecap="round"/>
<path d="M65.5 89.0 L64.5 83.0 L62.5 78.0 L60.0 74.0 L56.0 70.0 L52.0 66.0 L49.0 61.0" fill="none" stroke="#000" stroke-width="1.0" stroke-linejoin="round" stroke-linecap="round"/>
<path d="M166.1 87.5 L167.3 75.2 L171.6 60.7 L177.4 49.1 L186.2 40.3 L197.8 34.5 L209.4 28.1 L221.0 33.1 L228.3 41.8 L231.2 47.6 L229.8 57.8" fill="none" stroke="#000" stroke-width="1.0" stroke-linejoin="round" stroke-linecap="round"/>
<path d="M166.1 87.5 L166.4 72.3 L168.7 63.6 L174.5 54.9 L183.3 52.6 L194.9 57.8 L206.5 66.5 L216.7 76.7" fill="none" stroke="#000" stroke-width="1.0" stroke-linejoin="round" stroke-linecap="round"/>
<path d="M166.1 87.5 L170.2 75.2 L176.0 63.6 L183.3 60.7 L190.5 63.6 L194.9 70.9 L193.4 81.0 L191.4 92.7 L189.1 100.0" fill="none" stroke="#000" stroke-width="1.0" stroke-linejoin="round" stroke-linecap="round"/>
<path d="M166.1 87.5 L171.6 75.2 L177.4 72.3 L181.8 78.1 L183.3 86.9 L181.8 97.0" fill="none" stroke="#000" stroke-width="1.0" stroke-linejoin="round" stroke-linecap="round"/>
<path d="M165.5 88.3 L166.0 78.2 L165.5 68.0 L163.9 60.4 L160.9 55.3 L155.8 50.2 L148.2 45.1 L140.5 41.3" fill="none" stroke="#000" stroke-width="1.0" stroke-linejoin="round" stroke-linecap="round"/>
<path d="M165.5 87.1 L163.4 73.1 L159.6 65.4 L154.5 60.4 L148.2 57.3 L139.3 55.8 L131.6 56.5 L125.3 59.1 L121.5 64.2 L119.7 70.5" fill="none" stroke="#000" stroke-width="1.0" stroke-linejoin="round" stroke-linecap="round"/>
<path d="M164.7 83.3 L162.2 71.8 L157.1 64.2 L152.0 59.8 L145.6 58.3 L138.0 59.1 L130.4 61.6 L125.8 65.4" fill="none" stroke="#000" stroke-width="1.0" stroke-linejoin="round" stroke-linecap="round"/>
<path d="M164.7 87.1 L160.9 78.2 L157.1 71.8 L152.0 68.0 L146.9 68.0 L139.3 71.8 L130.4 75.6 L120.2 80.7 L112.5 85.3" fill="none" stroke="#000" stroke-width="1.0" stroke-linejoin="round" stroke-linecap="round"/>
<path d="M164.7 87.1 L159.6 80.7 L153.3 76.9 L145.6 76.9 L138.0 80.7 L134.4 84.4 L132.2 89.8 L133.3 97.5 L136.6 104.0 L139.8 107.3" fill="none" stroke="#000" stroke-width="1.0" stroke-linejoin="round" stroke-linecap="round"/>
<path d="M163.4 85.8 L158.3 80.7 L152.0 78.2 L146.9 80.7 L144.2 84.4 L142.7 90.9 L143.1 99.7 L144.8 106.2" fill="none" stroke="#000" stroke-width="1.0" stroke-linejoin="round" stroke-linecap="round"/>
<path d="M165.5 88.0 L160.9 75.6 L155.8 76.9 L153.0 82.0 L152.9 88.7 L154.5 99.7 L155.1 109.5 L158.4 114.9 L162.8 122.6 L167.1 130.2 L171.0 137.9" fill="none" stroke="#000" stroke-width="1.0" stroke-linejoin="round" stroke-linecap="round"/>
<path d="M166.0 88.0 L172.0 80.0 L178.0 76.0 L182.0 77.0 L183.5 86.6 L182.4 93.1 L180.7 97.5" fill="none" stroke="#000" stroke-width="1.0" stroke-linejoin="round" stroke-linecap="round"/>
<path d="M166.0 88.0 L170.0 78.0 L176.0 70.0 L185.0 64.0 L192.0 64.0 L194.0 72.0 L193.3 80.0 L192.2 88.7 L190.7 96.4 L189.4 101.8" fill="none" stroke="#000" stroke-width="1.0" stroke-linejoin="round" stroke-linecap="round"/>
<path d="M165.5 88.0 L167.0 80.0 L170.0 72.0 L172.0 64.0 L176.0 58.0 L178.0 55.0" fill="none" stroke="#000" stroke-width="1.0" stroke-linejoin="round" stroke-linecap="round"/>
<path d="M165.5 88.0 L163.0 80.0 L160.0 73.0 L155.0 67.0 L150.0 63.0" fill="none" stroke="#000" stroke-width="1.0" stroke-linejoin="round" stroke-linecap="round"/>
<path d="M165.5 88.0 L161.0 82.0 L156.0 79.0 L150.0 76.0 L143.0 73.0" fill="none" stroke="#000" stroke-width="1.0" stroke-linejoin="round" stroke-linecap="round"/>
<path d="M165.5 88.0 L168.0 82.0 L172.0 79.0 L177.0 78.0 L181.0 80.0" fill="none" stroke="#000" stroke-width="1.0" stroke-linejoin="round" stroke-linecap="round"/>
<path d="M166.0 88.0 L163.0 80.0 L160.0 72.0 L158.0 66.0 L156.0 62.0" fill="none" stroke="#000" stroke-width="1.0" stroke-linejoin="round" stroke-linecap="round"/>
<path d="M166.0 88.0 L168.0 78.0 L170.0 70.0 L171.0 64.0" fill="none" stroke="#000" stroke-width="1.0" stroke-linejoin="round" stroke-linecap="round"/>
<path d="M166.0 88.0 L164.0 78.0 L165.0 70.0 L168.0 66.0 L172.0 64.0" fill="none" stroke="#000" stroke-width="1.0" stroke-linejoin="round" stroke-linecap="round"/>
<path d="M166.0 88.0 L162.0 82.0 L158.0 78.0 L153.0 74.0 L147.0 72.0" fill="none" stroke="#000" stroke-width="1.0" stroke-linejoin="round" stroke-linecap="round"/>
<path d="M166.0 88.0 L169.0 82.0 L173.0 78.0 L177.0 74.0 L180.0 68.0" fill="none" stroke="#000" stroke-width="1.0" stroke-linejoin="round" stroke-linecap="round"/>
<path d="M166.0 88.0 L165.0 80.0 L162.0 74.0 L159.0 70.0 L155.0 68.0" fill="none" stroke="#000" stroke-width="1.0" stroke-linejoin="round" stroke-linecap="round"/>
<path d="M65.9 220.5 L69.5 204.1 L75.0 189.5 L78.4 175.0 L78.2 153.2 L89.1 136.7 L96.7 130.9" fill="none" stroke="#ff0000" stroke-width="1.0" stroke-linejoin="round" stroke-linecap="round"/>
<path d="M65.9 220.5 L75.0 200.5 L84.1 185.9 L102.3 173.2" fill="none" stroke="#ff0000" stroke-width="1.0" stroke-linejoin="round" stroke-linecap="round"/>
<path d="M65.9 220.5 L56.8 204.1 L49.5 193.2 L42.3 185.9 L29.5 184.1 L15.0 177.9" fill="none" stroke="#ff0000" stroke-width="1.0" stroke-linejoin="round" stroke-linecap="round"/>
<path d="M65.9 220.5 L55.0 205.9 L44.1 200.5 L36.8 200.5 L31.4 203.4" fill="none" stroke="#ff0000" stroke-width="1.0" stroke-linejoin="round" stroke-linecap="round"/>
<path d="M65.4 221.1 L62.9 213.4 L59.1 203.3 L55.3 193.1 L51.5 184.2 L50.2 177.8 L51.5 171.5 L54.8 164.6" fill="none" stroke="#ff0000" stroke-width="1.0" stroke-linejoin="round" stroke-linecap="round"/>
<path d="M65.4 221.1 L64.2 213.4 L61.6 200.7 L57.8 188.0 L55.3 177.8 L56.5 170.2 L59.8 165.1" fill="none" stroke="#ff0000" stroke-width="1.0" stroke-linejoin="round" stroke-linecap="round"/>
<path d="M65.4 221.1 L62.9 203.3 L60.4 190.5 L59.1 180.4 L60.4 174.0 L65.4 167.6 L70.5 160.0" fill="none" stroke="#ff0000" stroke-width="1.0" stroke-linejoin="round" stroke-linecap="round"/>
<path d="M65.4 221.1 L66.7 206.0 L69.3 195.7 L73.0 188.0 L78.0 182.9 L79.5 176.5" fill="none" stroke="#ff0000" stroke-width="1.0" stroke-linejoin="round" stroke-linecap="round"/>
<path d="M65.4 221.1 L66.7 213.0 L70.5 203.3 L75.6 192.0 L80.7 185.0 L84.5 182.0 L99.8 174.0" fill="none" stroke="#ff0000" stroke-width="1.0" stroke-linejoin="round" stroke-linecap="round"/>
<path d="M65.4 221.1 L60.5 211.0 L55.3 203.3 L50.2 195.6 L45.1 189.3 L40.0 185.0" fill="none" stroke="#ff0000" stroke-width="1.0" stroke-linejoin="round" stroke-linecap="round"/>
<path d="M65.4 221.1 L59.0 214.0 L52.0 209.0 L47.5 206.7 L40.0 203.0" fill="none" stroke="#ff0000" stroke-width="1.0" stroke-linejoin="round" stroke-linecap="round"/>
<path d="M65.4 221.1 L73.0 214.7 L80.7 208.4 L85.8 205.8 L89.6 210.9 L93.4 218.5 L94.7 221.0" fill="none" stroke="#ff0000" stroke-width="1.0" stroke-linejoin="round" stroke-linecap="round"/>
<path d="M65.4 221.1 L72.0 219.5 L79.0 224.0 L93.0 227.4 L86.5 237.5 L80.0 248.0" fill="none" stroke="#ff0000" stroke-width="1.0" stroke-linejoin="round" stroke-linecap="round"/>
<path d="M65.4 221.1 L73.0 211.0 L77.0 205.8 L80.7 202.0" fill="none" stroke="#ff0000" stroke-width="1.0" stroke-linejoin="round" stroke-linecap="round"/>
<path d="M65.4 221.1 L70.5 212.0 L75.6 204.6 L79.4 197.0 L81.0 190.0 L80.5 185.0" fill="none" stroke="#ff0000" stroke-width="1.0" stroke-linejoin="round" stroke-linecap="round"/>
<path d="M65.4 221.1 L72.0 210.0 L78.0 203.0 L84.0 199.0 L88.0 200.0" fill="none" stroke="#ff0000" stroke-width="1.0" stroke-linejoin="round" stroke-linecap="round"/>
<path d="M65.4 221.1 L60.0 207.0 L56.0 195.0 L52.0 184.0 L51.4 176.0 L46.0 173.0 L38.6 170.3" fill="none" stroke="#ff0000" stroke-width="1.0" stroke-linejoin="round" stroke-linecap="round"/>
<path d="M65.4 221.1 L72.0 212.0 L78.0 205.0 L83.0 202.0 L86.0 199.0" fill="none" stroke="#ff0000" stroke-width="1.0" stroke-linejoin="round" stroke-linecap="round"/>
<path d="M65.4 221.1 L70.0 210.0 L75.0 195.0 L80.0 181.0 L82.0 178.0" fill="none" stroke="#ff0000" stroke-width="1.0" stroke-linejoin="round" stroke-linecap="round"/>
<path d="M65.4 221.1 L74.0 208.0 L80.0 200.0 L85.0 193.0 L83.0 186.0" fill="none" stroke="#ff0000" stroke-width="1.0" stroke-linejoin="round" stroke-linecap="round"/>
<path d="M65.4 221.1 L71.0 214.0 L77.0 209.0 L84.0 206.0 L89.0 205.5" fill="none" stroke="#ff0000" stroke-width="1.0" stroke-linejoin="round" stroke-linecap="round"/>
<path d="M65.4 221.1 L68.0 211.0 L71.0 203.0 L74.0 196.0 L77.0 190.0 L81.0 186.0" fill="none" stroke="#ff0000" stroke-width="1.0" stroke-linejoin="round" stroke-linecap="round"/>
<path d="M65.4 221.1 L63.0 210.0 L62.0 200.0 L63.0 192.0 L66.0 186.0" fill="none" stroke="#ff0000" stroke-width="1.0" stroke-linejoin="round" stroke-linecap="round"/>
<path d="M65.4 221.1 L76.0 218.0 L84.0 216.0 L90.0 215.0" fill="none" stroke="#ff0000" stroke-width="1.0" stroke-linejoin="round" stroke-linecap="round"/>
<path d="M165.5 219.6 L155.8 210.7 L143.1 205.6 L125.3 203.6 L121.8 215.0 L119.6 225.9 L112.0 245.5" fill="none" stroke="#ff0000" stroke-width="1.0" stroke-linejoin="round" stroke-linecap="round"/>
<path d="M165.5 219.6 L153.3 215.8 L140.5 219.6 L130.4 222.2" fill="none" stroke="#ff0000" stroke-width="1.0" stroke-linejoin="round" stroke-linecap="round"/>
<path d="M165.5 219.6 L159.6 212.0 L150.7 209.4 L139.3 206.9" fill="none" stroke="#ff0000" stroke-width="1.0" stroke-linejoin="round" stroke-linecap="round"/>
<path d="M165.5 219.6 L157.1 213.3 L155.6 215.0 L154.1 230.3 L157.8 234.6 L163.2 243.4 L169.4 252.1 L172.0 247.7 L175.2 240.1 L179.6 234.6 L180.7 225.9 L182.4 218.3 L176.2 215.8 L165.5 219.6" fill="none" stroke="#ff0000" stroke-width="1.0" stroke-linejoin="round" stroke-linecap="round"/>
<path d="M165.5 219.6 L178.7 217.1 L188.9 214.5 L199.1 210.7 L206.7 208.2 L211.8 210.7 L213.8 214.5" fill="none" stroke="#ff0000" stroke-width="1.0" stroke-linejoin="round" stroke-linecap="round"/>
<path d="M165.5 219.6 L176.2 218.3 L188.3 219.4 L196.0 224.8 L204.7 234.6 L213.4 245.5 L227.6 249.9" fill="none" stroke="#ff0000" stroke-width="1.0" stroke-linejoin="round" stroke-linecap="round"/>
<path d="M165.5 219.6 L171.1 208.2 L177.4 198.0 L186.3 190.4 L191.4 191.6 L194.0 195.4 L201.6 200.5 L210.5 206.9" fill="none" stroke="#ff0000" stroke-width="1.0" stroke-linejoin="round" stroke-linecap="round"/>
<path d="M165.5 219.6 L168.5 205.6 L172.3 195.4 L176.7 189.1 L176.2 182.7 L171.1 181.5 L166.5 182.2" fill="none" stroke="#ff0000" stroke-width="1.0" stroke-linejoin="round" stroke-linecap="round"/>
<path d="M165.5 219.6 L163.9 205.6 L163.4 195.4 L164.7 189.1 L169.8 190.4 L173.6 194.2" fill="none" stroke="#ff0000" stroke-width="1.0" stroke-linejoin="round" stroke-linecap="round"/>
<path d="M165.5 219.6 L177.0 210.7 L186.0 200.5 L188.5 193.0 L186.0 189.0 L178.7 189.0" fill="none" stroke="#ff0000" stroke-width="1.0" stroke-linejoin="round" stroke-linecap="round"/>
<path d="M165.5 219.6 L181.0 208.0 L189.0 200.5 L192.7 214.5 L197.8 219.6" fill="none" stroke="#ff0000" stroke-width="1.0" stroke-linejoin="round" stroke-linecap="round"/>
<path d="M165.5 219.6 L186.0 212.0 L191.0 223.0 L192.5 226.0" fill="none" stroke="#ff0000" stroke-width="1.0" stroke-linejoin="round" stroke-linecap="round"/>
<path d="M165.5 219.6 L167.0 210.0 L170.0 203.0 L173.0 198.0 L178.0 195.0" fill="none" stroke="#ff0000" stroke-width="1.0" stroke-linejoin="round" stroke-linecap="round"/>
<path d="M165.5 219.6 L160.0 212.0 L156.0 206.0 L152.0 203.0" fill="none" stroke="#ff0000" stroke-width="1.0" stroke-linejoin="round" stroke-linecap="round"/>
<path d="M165.5 219.6 L163.0 210.0 L162.5 200.0 L162.2 195.4" fill="none" stroke="#ff0000" stroke-width="1.0" stroke-linejoin="round" stroke-linecap="round"/>
<path d="M165.5 219.6 L170.0 207.0 L174.0 198.0 L178.0 192.0 L182.0 190.5 L186.0 192.0 L187.0 197.0 L183.0 203.0" fill="none" stroke="#ff0000" stroke-width="1.0" stroke-linejoin="round" stroke-linecap="round"/>
<path d="M165.5 219.6 L175.0 212.0 L183.0 205.0 L189.0 200.5 L191.0 203.0 L192.0 210.0 L191.5 215.0" fill="none" stroke="#ff0000" stroke-width="1.0" stroke-linejoin="round" stroke-linecap="round"/>
<path d="M165.5 219.6 L158.0 214.0 L150.0 211.0 L144.0 211.0 L140.0 213.0" fill="none" stroke="#ff0000" stroke-width="1.0" stroke-linejoin="round" stroke-linecap="round"/>
<path d="M165.5 219.6 L154.5 215.0 L148.0 217.6 L130.5 221.5" fill="none" stroke="#ff0000" stroke-width="1.0" stroke-linejoin="round" stroke-linecap="round"/>
<path d="M165.5 219.6 L178.0 216.0 L191.6 215.0 L191.6 225.9" fill="none" stroke="#ff0000" stroke-width="1.0" stroke-linejoin="round" stroke-linecap="round"/>
<path d="M165.5 219.6 L172.0 213.0 L180.0 211.0 L186.0 212.0 L194.0 213.0 L199.0 216.0" fill="none" stroke="#ff0000" stroke-width="1.0" stroke-linejoin="round" stroke-linecap="round"/>
<path d="M165.5 219.6 L168.0 212.0 L171.0 204.0 L175.0 197.0 L178.0 193.0" fill="none" stroke="#ff0000" stroke-width="1.0" stroke-linejoin="round" stroke-linecap="round"/>
<path d="M165.5 219.6 L169.0 211.0 L172.0 206.0 L177.0 203.0 L182.0 204.0" fill="none" stroke="#ff0000" stroke-width="1.0" stroke-linejoin="round" stroke-linecap="round"/><path d="M297.5 73.0C297.5 72.5 297.2 71.1 297.4 70.0C297.6 68.9 298.3 67.3 298.8 66.4C299.3 65.5 300.0 64.8 300.6 64.6C301.2 64.4 302.1 64.8 302.6 65.4C303.2 66.1 303.6 67.6 303.9 68.5C304.2 69.4 304.2 69.9 304.6 70.7C305.0 71.5 305.5 72.5 306.1 73.3C306.7 74.1 306.9 74.6 308.0 75.5C309.1 76.4 311.8 78.2 312.6 78.7M301.0 71.0C300.9 69.9 300.7 66.4 300.3 64.2C299.9 62.0 299.4 59.7 298.8 57.6C298.2 55.5 297.4 53.7 296.9 51.8C296.3 49.9 295.6 47.7 295.5 46.0C295.4 44.3 295.6 42.6 296.3 41.6C297.0 40.6 298.2 40.2 299.5 40.2C300.8 40.2 302.4 40.8 303.9 41.3C305.4 41.8 307.0 42.3 308.3 43.1C309.6 43.9 310.8 44.9 311.9 46.0C313.0 47.1 313.8 48.6 314.8 49.6C315.8 50.6 316.6 51.3 317.7 51.8C318.8 52.3 319.9 52.8 321.4 52.8C322.9 52.8 325.0 51.5 326.5 51.8C328.0 52.1 329.0 53.9 330.2 54.7C331.4 55.6 332.7 56.2 333.8 56.9C334.9 57.6 335.9 58.7 336.7 58.8C337.5 58.9 338.2 58.1 338.9 57.6C339.6 57.1 340.2 56.1 341.1 55.5C342.0 54.9 342.9 54.2 344.0 54.0C345.1 53.8 346.4 53.9 347.6 54.0C348.8 54.1 350.3 54.2 351.3 54.7C352.3 55.2 352.9 55.9 353.5 56.9C354.1 57.9 354.5 59.2 354.9 60.5C355.2 61.8 355.6 63.3 355.6 64.9C355.6 66.5 355.0 69.2 354.9 70.0M354.5 25.2C354.5 24.7 354.1 22.9 354.3 22.0C354.5 21.1 355.0 19.9 355.5 19.5C356.0 19.1 356.9 19.1 357.5 19.3C358.1 19.5 357.9 20.1 359.0 20.5C360.1 20.9 362.9 21.1 364.4 21.5C365.9 21.9 366.8 22.5 368.0 23.0C369.2 23.5 370.5 23.8 371.6 24.5C372.7 25.2 374.0 26.2 374.5 27.0C375.0 27.8 374.0 29.7 374.5 29.5C375.0 29.3 376.4 27.0 377.5 25.9C378.6 24.8 379.8 23.9 381.1 23.0C382.4 22.1 384.1 21.1 385.5 20.5C386.9 19.9 388.5 19.5 389.8 19.1C391.1 18.7 392.5 18.2 393.5 18.2C394.5 18.2 395.1 18.6 395.6 19.1C396.1 19.7 396.3 20.5 396.4 21.5C396.5 22.5 396.2 24.1 396.1 25.2C396.0 26.3 395.9 27.2 395.6 28.1C395.3 29.0 394.8 29.9 394.2 30.3C393.6 30.7 393.0 30.2 392.0 30.7C391.0 31.2 389.6 32.7 388.4 33.2C387.2 33.7 386.0 33.7 384.7 33.9C383.4 34.1 381.8 34.5 380.4 34.6C378.9 34.7 377.3 34.7 376.0 34.6C374.7 34.5 373.0 34.0 372.4 33.9M392.0 30.7C392.5 30.9 394.0 31.6 394.9 31.7C395.8 31.8 396.9 31.4 397.3 31.3M367.3 21.8C367.2 22.4 366.9 24.1 366.5 25.2C366.1 26.2 365.6 27.1 365.1 28.1C364.6 29.1 364.3 30.1 363.6 31.0C362.9 31.9 362.2 33.0 361.1 33.6C360.0 34.2 357.3 34.2 357.2 34.6C357.1 35.0 359.6 35.5 360.4 36.1C361.2 36.7 361.4 37.2 361.8 38.3C362.2 39.4 362.2 41.1 362.5 42.6C362.8 44.1 363.2 45.8 363.3 47.0C363.4 48.2 363.1 49.1 363.1 50.0C363.1 50.9 363.8 51.5 363.5 52.2C363.2 52.9 362.4 53.8 361.6 54.4C360.8 55.0 359.7 55.3 358.7 55.8C357.7 56.3 356.0 57.2 355.5 57.5M286.5 80.2C287.0 80.0 288.3 78.9 289.4 78.7C290.5 78.5 291.9 79.0 293.0 79.2C294.1 79.5 295.0 80.4 295.9 80.2C296.8 80.0 297.5 78.8 298.1 78.0C298.7 77.2 298.9 75.7 299.5 75.1C300.1 74.5 301.0 74.4 301.7 74.4C302.4 74.4 303.3 74.8 303.9 75.1C304.5 75.4 304.9 76.0 305.4 76.5C305.9 77.0 307.0 77.5 307.1 78.3C307.2 79.0 306.6 80.0 306.0 81.0C305.4 82.0 303.7 83.6 303.2 84.1M286.5 80.2C286.5 80.3 286.3 80.3 286.5 80.9C286.7 81.5 287.2 83.0 287.9 83.8C288.6 84.6 289.8 85.8 290.8 86.0C291.8 86.2 293.0 85.8 293.7 85.3C294.4 84.8 294.7 83.8 295.2 83.1C295.7 82.4 296.3 81.9 296.6 80.9C296.9 79.9 296.8 78.3 297.0 77.0C297.2 75.7 297.8 73.7 298.0 73.0M289.4 86.0C289.8 86.5 290.6 88.2 291.5 88.9C292.4 89.6 293.6 90.3 294.5 90.4C295.4 90.5 295.9 90.1 296.6 89.6C297.3 89.1 298.3 88.2 298.8 87.5C299.3 86.8 299.1 85.9 299.5 85.3C299.9 84.7 300.4 84.0 301.0 83.8C301.6 83.6 302.5 83.7 303.2 84.1C303.9 84.5 304.5 85.2 305.0 86.0C305.5 86.8 306.3 88.4 306.1 88.9C305.9 89.4 304.8 88.9 303.9 88.9C303.0 88.9 301.9 88.8 301.0 88.9C300.1 89.0 299.2 89.5 298.8 89.6M298.1 89.6C298.2 90.3 298.3 92.7 298.4 94.0C298.5 95.3 298.4 96.6 298.8 97.6C299.2 98.6 300.3 99.3 301.0 99.8C301.7 100.3 302.2 100.2 303.2 100.5C304.2 100.8 305.6 101.2 306.8 101.5C308.0 101.8 308.9 101.9 310.2 102.1C311.5 102.2 313.8 102.4 314.5 102.4M303.2 100.5C303.7 100.4 304.9 100.0 306.0 99.8C307.1 99.6 308.8 99.9 309.9 99.5C311.0 99.1 311.6 98.0 312.4 97.3C313.2 96.6 313.9 95.9 314.5 95.1C315.1 94.2 315.7 93.3 316.0 92.2C316.3 91.1 316.4 89.2 316.3 88.2C316.2 87.2 315.8 87.0 315.5 86.0C315.2 85.0 314.7 83.1 314.8 82.4C314.9 81.7 316.0 82.1 316.3 81.6C316.6 81.1 316.8 80.2 316.7 79.5C316.6 78.8 315.9 77.8 315.5 77.3C315.1 76.8 314.6 76.3 314.1 76.5C313.6 76.7 312.6 78.1 312.6 78.7C312.6 79.3 313.7 79.6 314.1 80.2C314.5 80.8 314.7 82.0 314.8 82.4M316.3 88.2C316.5 88.3 316.9 88.8 317.7 88.9C318.5 89.0 320.2 88.7 321.4 88.6C322.6 88.5 323.9 88.6 325.0 88.5C326.1 88.4 326.9 87.8 327.9 87.9C328.9 88.1 329.8 88.8 330.8 89.4C331.8 90.0 332.9 90.8 333.7 91.5C334.5 92.2 335.2 93.0 335.9 93.7C336.6 94.4 337.2 95.1 338.1 95.9C339.0 96.8 340.4 97.8 341.0 98.8C341.6 99.8 340.9 101.1 341.4 101.7C341.9 102.3 343.0 102.2 343.9 102.5C344.8 102.8 345.7 103.1 346.8 103.2C347.9 103.3 349.6 103.3 350.5 103.2C351.4 103.1 351.7 102.6 351.9 102.5M321.4 62.0C321.3 62.7 320.6 65.0 320.6 66.4C320.6 67.9 321.0 69.2 321.4 70.7C321.8 72.2 322.6 73.9 323.1 75.1C323.6 76.3 323.8 76.8 324.3 78.0C324.8 79.2 325.2 80.7 326.0 82.0C326.8 83.3 328.1 84.2 329.0 86.0C329.9 87.8 330.6 91.3 331.3 92.9C332.1 94.5 332.6 95.0 333.5 95.8C334.4 96.6 335.5 97.3 336.4 98.0C337.3 98.7 338.4 99.5 339.0 99.9C339.6 100.3 339.8 100.4 340.0 100.5M341.7 122.1C341.2 121.7 339.7 120.8 338.8 119.9C337.9 119.1 336.7 118.0 336.3 117.0C335.9 116.0 335.9 114.9 336.3 114.1C336.7 113.2 337.8 112.5 338.8 111.9C339.8 111.3 341.3 111.0 342.5 110.5C343.7 110.0 345.0 109.5 346.1 109.0C347.2 108.5 348.2 108.1 349.0 107.5C349.8 106.9 350.4 106.1 350.9 105.4C351.4 104.7 351.4 103.7 351.9 103.2C352.4 102.7 353.0 102.5 354.1 102.2C355.2 102.0 357.1 101.8 358.5 101.7C359.9 101.6 361.7 101.8 362.8 101.7C363.9 101.6 364.0 101.8 365.0 101.3C366.0 100.8 367.9 98.6 368.9 98.8C369.9 99.0 370.2 101.4 371.1 102.5C372.0 103.6 373.0 104.8 374.0 105.4C375.0 106.0 375.9 106.3 376.9 106.1C377.9 105.8 378.9 104.7 379.8 103.9C380.7 103.1 381.6 101.7 382.0 101.3M379.1 85.0C379.3 85.7 380.1 88.0 380.5 89.4C380.9 90.9 381.4 92.5 381.3 93.7C381.2 94.9 380.7 96.1 379.8 96.6C378.9 97.1 377.3 97.0 376.2 96.9C375.1 96.8 373.7 96.3 373.3 95.9C372.9 95.5 373.4 94.7 374.0 94.5C374.6 94.3 375.9 94.3 376.9 94.5C377.9 94.7 379.1 95.1 379.8 95.9C380.5 96.7 381.1 98.7 381.3 99.5C381.6 100.3 381.8 100.3 381.3 101.0C380.8 101.7 379.4 103.3 378.4 103.9C377.4 104.5 376.5 104.7 375.5 104.6C374.5 104.5 373.4 103.9 372.5 103.2C371.6 102.5 371.2 101.4 370.4 100.3C369.6 99.2 368.5 97.7 367.5 96.6C366.5 95.5 365.0 94.2 364.5 93.7M358.0 101.0C358.5 100.9 360.0 100.7 360.9 100.3C361.8 99.9 362.1 99.0 363.1 98.8C364.1 98.5 365.7 98.9 366.7 98.8C367.7 98.7 368.4 98.7 368.9 98.1C369.4 97.5 369.7 96.2 369.6 95.2C369.5 94.2 368.7 93.3 368.2 92.3C367.7 91.3 366.7 90.4 366.7 89.4C366.7 88.4 368.2 87.7 368.2 86.5C368.2 85.3 366.9 83.6 366.5 82.0C366.1 80.4 365.8 78.7 365.5 77.0C365.2 75.3 365.1 73.3 364.5 72.0C363.9 70.7 362.8 70.0 362.0 69.0C361.2 68.0 360.3 66.5 360.0 66.0M358.0 63.8C358.5 63.7 359.8 63.3 360.9 63.1C362.0 62.9 363.4 62.6 364.5 62.4C365.6 62.1 366.6 61.6 367.5 61.6C368.4 61.6 369.0 61.9 369.6 62.4C370.2 62.9 370.6 63.4 371.1 64.5C371.6 65.6 372.0 67.4 372.5 68.9C373.0 70.4 373.6 71.8 374.0 73.3C374.4 74.8 374.4 76.4 374.7 77.6C374.9 78.8 375.0 79.8 375.5 80.5C376.0 81.2 377.0 81.3 377.6 82.0C378.2 82.7 378.9 84.4 379.1 84.9M320.0 71.7C320.4 70.4 321.5 65.9 322.2 63.7C322.9 61.5 323.4 59.7 324.4 58.6C325.4 57.5 326.9 57.2 328.0 57.2C329.1 57.2 330.2 57.8 330.9 58.6C331.6 59.5 331.9 61.0 332.4 62.3C332.9 63.6 333.9 65.4 333.8 66.6C333.7 67.8 332.6 69.0 331.6 69.5C330.6 70.0 329.0 69.2 328.0 69.5C327.0 69.8 326.1 70.3 325.8 71.0C325.6 71.7 325.8 73.5 326.5 73.9C327.2 74.3 329.1 73.6 330.2 73.2C331.3 72.8 331.9 72.6 333.1 71.7C334.3 70.8 336.2 67.9 337.3 67.6C338.4 67.3 339.2 68.9 340.0 70.0C340.8 71.1 341.2 72.6 342.0 74.0C342.8 75.4 343.8 77.5 344.5 78.5C345.2 79.5 345.8 79.8 346.0 80.0M320.0 88.5C320.5 88.1 321.7 86.9 322.9 86.3C324.1 85.7 325.9 84.9 327.3 84.8C328.8 84.7 330.4 84.9 331.6 85.5C332.8 86.1 333.8 87.4 334.5 88.5C335.2 89.6 335.4 91.0 336.0 92.1C336.6 93.2 336.8 94.9 338.0 95.0C339.2 95.1 341.8 93.3 343.3 92.5C344.8 91.7 345.8 90.1 347.0 90.0C348.2 89.9 349.7 91.0 350.5 92.0C351.3 93.0 351.9 94.8 352.0 96.0C352.1 97.2 351.3 98.9 351.2 99.5M338.9 55.0C339.3 55.4 340.6 56.4 341.1 57.2C341.6 58.1 341.9 59.2 341.8 60.1C341.7 61.0 341.1 61.8 340.4 62.3C339.7 62.8 338.4 63.2 337.5 63.0C336.6 62.8 335.7 61.0 335.0 61.0C334.3 61.0 333.8 62.7 333.5 63.0M349.1 59.4C349.7 58.9 351.4 56.8 352.7 56.5C354.0 56.2 356.1 56.9 357.1 57.9C358.1 58.9 358.6 61.0 358.5 62.3C358.4 63.6 357.1 64.9 356.4 65.9C355.7 66.9 354.8 67.2 354.2 68.1C353.6 68.9 353.2 70.1 352.7 71.0C352.2 71.9 351.0 72.9 351.4 73.6C351.8 74.3 353.7 74.6 354.9 75.4C356.1 76.2 357.5 77.2 358.5 78.3C359.5 79.4 360.6 80.2 361.0 82.0C361.4 83.8 360.7 88.2 360.6 89.4M332.3 61.5C332.4 62.1 332.6 64.2 333.0 65.0C333.4 65.8 334.3 66.1 335.0 66.5C335.7 66.9 336.3 67.7 337.3 67.6C338.3 67.5 339.6 66.0 341.0 66.0C342.4 66.0 344.1 67.6 345.4 67.6C346.7 67.6 347.7 66.5 349.0 66.0C350.3 65.5 351.4 65.1 353.0 64.5C354.6 63.9 357.6 62.8 358.5 62.5M345.4 67.6C345.7 68.2 346.4 70.1 347.0 71.0C347.6 71.9 348.3 72.6 349.0 73.0C349.7 73.4 351.0 73.5 351.4 73.6M324.0 76.0C324.5 75.9 326.0 75.4 327.0 75.5C328.0 75.6 329.2 76.2 330.0 76.5C330.8 76.8 331.2 77.2 332.0 77.5C332.8 77.8 333.7 78.2 334.5 78.5C335.3 78.8 336.4 79.3 337.0 79.5C337.6 79.7 337.6 79.7 338.4 79.6C339.2 79.5 340.8 79.2 342.0 79.0C343.2 78.8 344.3 78.5 345.5 78.5C346.7 78.5 347.8 78.8 349.0 79.0C350.2 79.2 351.4 79.4 352.5 79.6C353.6 79.8 354.6 80.0 355.5 80.0C356.4 80.0 357.4 79.9 358.0 79.5C358.6 79.1 358.0 78.1 359.0 77.8C360.0 77.5 363.0 77.6 363.8 77.6M320.0 80.5C320.3 80.3 321.2 79.7 322.0 79.5C322.8 79.3 324.1 79.3 325.0 79.5C325.9 79.7 326.8 80.1 327.5 80.5C328.2 80.9 328.6 81.3 329.0 82.0C329.4 82.7 329.8 84.1 330.0 84.5M332.4 81.8C332.5 82.5 332.5 84.7 332.9 86.1C333.2 87.5 333.8 88.9 334.5 90.0C335.2 91.1 336.5 92.5 337.3 92.5C338.1 92.5 338.9 91.1 339.5 90.0C340.1 88.9 340.9 87.3 341.0 86.0C341.1 84.7 340.4 83.1 340.0 82.0C339.6 80.9 338.7 80.0 338.4 79.6M346.5 81.8C346.4 82.3 346.0 84.0 346.0 85.0C346.0 86.0 346.1 87.1 346.6 88.0C347.1 88.9 348.1 90.2 349.0 90.5C349.9 90.8 351.1 90.1 352.0 89.5C352.9 88.9 353.7 87.5 354.5 87.0C355.3 86.5 356.2 87.2 357.0 86.7C357.8 86.2 358.8 85.1 359.0 84.0C359.2 82.9 358.2 80.7 358.0 80.0M357.0 86.7C357.3 87.0 358.4 88.2 359.0 88.5C359.6 88.8 360.4 88.2 360.9 88.6C361.4 89.0 361.9 90.1 362.0 91.0C362.1 91.9 362.0 93.2 361.6 94.0C361.2 94.8 360.0 96.2 359.5 96.0C359.0 95.8 359.1 92.8 358.5 92.5C357.9 92.2 356.9 93.4 356.0 94.0C355.1 94.6 353.8 95.1 353.0 96.0C352.2 96.9 351.8 99.0 351.0 99.5C350.2 100.0 349.0 99.4 348.0 99.0C347.0 98.6 345.8 98.1 345.0 97.0C344.2 95.9 343.6 93.2 343.3 92.5M340.5 84.0C340.9 84.3 342.2 85.9 343.0 86.0C343.8 86.1 344.7 85.3 345.5 84.8C346.3 84.3 347.2 83.0 348.0 83.0C348.8 83.0 349.5 84.2 350.0 85.0C350.5 85.8 350.8 87.5 351.0 88.0M337.0 70.0C337.3 70.3 338.4 71.0 339.0 72.0C339.6 73.0 339.8 75.1 340.5 76.0C341.2 76.9 341.9 77.5 343.0 77.5C344.1 77.5 346.0 76.6 347.0 76.0C348.0 75.4 348.8 75.0 349.0 74.0C349.2 73.0 348.5 71.0 348.0 70.0C347.5 69.0 346.3 68.3 346.0 68.0M359.2 69.6C359.7 69.8 361.3 70.3 362.0 71.0C362.7 71.7 363.2 72.9 363.5 74.0C363.8 75.1 364.1 76.6 363.8 77.6C363.6 78.6 362.6 79.3 362.0 80.0C361.4 80.7 360.7 81.2 360.0 82.0C359.3 82.8 358.5 83.7 358.0 84.5C357.5 85.3 357.2 86.6 357.1 87.0M330.0 95.0C329.7 95.7 328.0 97.7 328.0 99.0C328.0 100.3 329.0 102.2 330.0 103.0C331.0 103.8 332.8 104.2 334.0 104.0C335.2 103.8 336.3 102.8 337.0 102.0C337.7 101.2 337.8 99.5 338.0 99.0M352.0 104.0C352.5 104.5 353.8 106.3 355.0 107.0C356.2 107.7 357.8 108.3 359.0 108.0C360.2 107.7 361.3 106.0 362.0 105.0C362.7 104.0 362.9 103.0 363.1 102.0C363.3 101.0 363.1 99.3 363.1 98.8M361.0 82.0C361.7 82.3 363.7 83.8 365.0 84.0C366.3 84.2 368.0 84.2 369.0 83.5C370.0 82.8 370.8 81.2 371.0 80.0C371.2 78.8 370.7 77.1 370.0 76.0C369.3 74.9 368.0 73.8 367.0 73.5C366.0 73.2 364.5 73.9 364.0 74.0M299.5 75.0C299.1 75.5 297.6 76.8 297.0 78.0C296.4 79.2 295.9 80.7 296.0 82.0C296.1 83.3 296.8 85.2 297.5 86.0C298.2 86.8 299.2 87.2 300.0 87.0C300.8 86.8 301.5 86.0 302.0 85.0C302.5 84.0 303.1 82.2 303.0 81.0C302.9 79.8 302.1 78.5 301.5 77.5C300.9 76.5 299.8 75.4 299.5 75.0M296.0 80.0C295.3 79.7 293.3 78.2 292.0 78.0C290.7 77.8 288.9 78.5 288.0 79.0C287.1 79.5 286.3 80.2 286.3 81.0C286.3 81.8 287.1 83.4 288.0 84.0C288.9 84.6 290.7 84.7 292.0 84.5C293.3 84.3 294.8 83.5 296.0 83.0C297.2 82.5 298.0 82.0 299.0 81.5C300.0 81.0 300.9 80.4 302.0 80.0C303.1 79.6 304.9 79.2 305.5 79.0M300.5 63.0C300.2 63.5 299.5 64.8 299.0 66.0C298.5 67.2 297.9 68.7 297.5 70.0C297.1 71.3 296.5 72.7 296.5 74.0C296.5 75.3 297.1 76.7 297.5 78.0C297.9 79.3 298.5 80.7 299.0 82.0C299.5 83.3 300.0 84.8 300.5 86.0C301.0 87.2 301.8 88.5 302.0 89.0M293.0 88.0C293.5 88.5 294.9 90.4 296.0 91.0C297.1 91.6 298.4 91.7 299.5 91.5C300.6 91.3 301.8 90.7 302.5 90.0C303.2 89.3 303.9 88.5 304.0 87.5C304.1 86.5 303.3 84.7 303.2 84.1M469.0 122.2C468.7 121.8 467.5 120.7 467.0 119.5C466.5 118.3 466.2 116.5 466.0 115.0C465.8 113.5 465.6 111.6 466.0 110.3C466.4 109.0 467.2 108.2 468.1 107.2C469.0 106.2 470.2 105.0 471.2 104.1C472.2 103.2 473.3 102.5 474.3 102.0C475.3 101.5 476.2 101.3 477.4 101.0C478.6 100.7 480.3 100.2 481.5 99.9C482.7 99.6 484.0 99.8 484.7 98.9C485.4 98.1 485.0 95.7 485.7 94.8C486.4 93.9 487.8 94.2 488.8 93.7C489.8 93.2 491.2 92.6 491.9 91.7C492.6 90.8 492.9 89.7 492.9 88.5C492.9 87.3 492.4 85.4 491.9 84.4C491.4 83.4 490.7 82.8 489.8 82.3C488.9 81.8 487.0 82.2 486.7 81.3C486.4 80.4 487.8 78.5 487.8 77.1C487.8 75.7 486.9 73.9 486.7 73.0C486.5 72.1 487.0 72.5 486.7 71.5C486.4 70.5 484.9 68.7 484.7 67.3C484.5 65.9 485.4 64.6 485.7 63.2C486.0 61.8 486.5 59.7 486.7 59.0M486.7 59.0C486.2 58.6 484.3 58.3 483.6 56.9C482.9 55.5 482.6 52.4 482.6 50.7C482.6 49.0 482.9 47.6 483.6 46.6C484.3 45.6 485.8 44.9 486.7 44.9C487.6 44.9 488.1 46.5 488.8 46.6C489.5 46.7 490.0 45.6 490.9 45.5C491.8 45.4 493.3 45.5 494.0 46.2C494.7 46.9 494.5 48.4 495.0 49.7C495.5 51.0 496.4 52.6 497.1 53.8C497.8 55.0 499.2 56.4 499.2 56.9C499.2 57.4 497.4 57.0 497.0 57.0M486.7 47.6C486.9 48.1 487.3 49.8 487.8 50.7C488.3 51.6 489.1 52.8 489.8 52.8C490.5 52.8 491.4 51.6 491.9 50.7C492.4 49.8 493.0 48.5 492.9 47.6C492.8 46.7 491.7 45.9 491.5 45.5M490.9 61.1C491.6 61.3 493.8 61.4 495.0 62.1C496.2 62.8 497.6 64.2 498.1 65.2C498.6 66.2 498.6 67.5 498.1 68.3C497.6 69.1 496.0 69.7 495.0 69.8C494.0 69.9 492.6 69.6 491.9 69.0C491.1 68.4 490.7 67.3 490.5 66.3C490.3 65.3 491.3 64.2 490.9 63.2C490.5 62.2 489.1 61.0 488.0 60.5C486.9 60.0 485.3 60.4 484.0 60.0C482.7 59.6 481.1 59.5 480.0 58.0C478.9 56.5 477.8 52.4 477.4 51.3M478.4 75.1C478.6 75.8 479.1 77.5 479.5 79.2C479.9 80.9 480.2 83.5 480.5 85.4C480.8 87.3 481.1 88.9 481.5 90.6C481.9 92.3 482.6 94.4 482.6 95.8C482.6 97.2 482.2 98.4 481.5 98.9C480.8 99.4 479.4 98.7 478.4 98.9C477.4 99.1 476.1 100.1 475.3 99.9C474.5 99.7 473.8 98.9 473.3 97.9C472.8 96.9 472.0 95.1 472.2 93.7C472.4 92.3 473.9 91.3 474.3 89.6C474.7 87.9 474.1 85.3 474.3 83.4C474.5 81.5 475.3 79.3 475.3 78.0C475.3 76.7 474.5 76.0 474.3 75.6M474.3 83.4C474.5 84.4 475.0 87.5 475.3 89.6C475.6 91.7 476.6 94.1 476.4 95.8C476.2 97.5 474.6 99.2 474.3 99.9M440.1 84.4C439.6 84.2 437.8 83.1 436.9 83.4C436.0 83.8 435.6 85.3 434.9 86.5C434.2 87.7 433.5 89.4 432.8 90.6C432.1 91.8 430.9 92.5 430.7 93.7C430.5 94.9 431.5 96.2 431.8 97.9C432.1 99.6 432.1 102.2 432.4 104.1C432.7 106.0 433.1 107.8 433.8 109.3C434.6 110.8 435.7 112.2 436.9 113.4C438.1 114.6 439.7 115.8 441.1 116.5C442.5 117.2 444.0 117.6 445.2 117.6C446.4 117.6 447.2 117.2 448.3 116.5C449.4 115.8 450.4 114.1 451.5 113.4C452.6 112.7 453.6 112.2 454.6 112.4C455.6 112.6 457.0 113.6 457.7 114.5C458.4 115.4 459.0 117.0 458.7 117.6C458.4 118.2 456.6 118.4 455.6 118.2C454.6 118.0 453.2 117.3 452.5 116.5C451.8 115.7 451.7 113.9 451.5 113.4M457.7 114.5C458.1 113.9 459.7 112.4 460.0 111.0C460.3 109.6 459.8 108.2 459.7 106.0C459.6 103.8 459.7 100.7 459.7 98.0C459.7 95.3 459.7 92.3 459.5 90.0C459.3 87.7 459.1 85.7 458.7 84.0C458.3 82.3 457.3 80.7 457.0 80.0M440.1 84.4C440.3 84.0 440.8 82.2 441.2 82.0C441.6 81.8 442.6 82.7 442.7 83.4C442.8 84.2 442.4 85.8 442.0 86.5C441.6 87.2 441.3 87.7 440.6 87.6C439.9 87.5 438.4 86.3 438.0 86.0M447.0 85.0C447.2 85.8 447.7 88.3 448.3 89.6C448.9 90.9 449.3 91.8 450.4 92.7C451.4 93.6 453.2 94.5 454.6 94.8C456.0 95.1 457.5 95.0 458.7 94.8C459.9 94.6 460.8 93.7 461.8 93.7C462.9 93.7 464.5 94.6 465.0 94.8M460.8 97.0C461.0 97.7 461.5 99.8 462.0 101.0C462.5 102.2 463.2 103.6 464.0 104.0C464.8 104.4 466.2 104.2 467.0 103.5C467.8 102.8 468.5 101.2 469.0 100.0C469.5 98.8 469.8 96.7 470.0 96.0M421.4 55.5C421.6 56.1 421.9 58.1 422.4 59.0C422.9 59.9 423.8 60.4 424.5 61.1C425.2 61.8 425.9 62.5 426.6 63.2C427.3 63.9 428.1 64.4 428.6 65.3C429.1 66.2 429.7 67.4 429.6 68.4C429.5 69.4 428.9 70.7 428.2 71.5C427.5 72.3 426.2 73.3 425.5 73.5C424.8 73.7 424.7 73.0 424.1 72.5C423.5 72.0 422.4 70.8 422.0 70.5M421.4 55.5C421.8 55.4 422.6 54.8 423.5 54.9C424.4 55.0 425.2 55.6 426.6 55.9C428.0 56.2 430.2 56.3 431.8 56.5C433.4 56.7 434.6 56.8 436.0 57.0C437.4 57.2 438.8 57.2 440.0 57.5C441.2 57.8 442.5 58.3 443.0 58.5M434.9 50.7C435.6 50.0 437.6 47.8 439.0 46.6C440.4 45.4 442.0 44.4 443.2 43.5C444.4 42.6 445.3 41.6 446.3 41.4C447.3 41.2 448.7 41.9 449.4 42.4C450.1 42.9 450.8 43.9 450.4 44.5C450.0 45.1 448.3 46.0 447.3 46.2C446.3 46.4 445.2 45.3 444.2 45.5C443.2 45.7 442.1 46.9 441.1 47.6C440.1 48.3 438.9 48.8 438.0 49.7C437.1 50.6 436.4 51.4 436.0 52.8C435.6 54.2 435.8 56.1 435.5 58.0C435.2 59.9 434.8 62.0 434.5 64.0C434.2 66.0 433.9 68.1 433.8 70.0C433.7 71.9 433.4 74.3 433.8 75.6C434.2 76.9 435.3 77.2 436.5 77.7C437.7 78.2 439.5 78.7 441.1 78.7C442.7 78.7 444.8 78.2 446.3 77.7C447.9 77.2 449.4 76.6 450.4 75.6C451.4 74.6 452.0 72.9 452.5 71.5C453.0 70.1 453.3 68.0 453.5 67.3M431.8 56.5C431.6 57.1 430.8 58.8 430.5 60.0C430.2 61.2 429.9 62.7 430.0 64.0C430.1 65.3 430.6 66.8 431.0 68.0C431.4 69.2 432.2 70.9 432.5 71.5M439.0 63.0C438.9 63.8 438.4 66.5 438.5 68.0C438.6 69.5 438.9 70.9 439.5 72.0C440.1 73.1 441.1 74.3 442.0 74.5C442.9 74.7 444.3 73.9 445.0 73.0C445.7 72.1 445.7 70.5 446.0 69.0C446.3 67.5 446.8 65.5 446.9 64.0C447.0 62.5 446.5 61.1 446.9 60.1C447.2 59.1 448.1 58.7 449.0 58.0C449.9 57.3 451.8 56.8 452.5 55.9C453.2 55.0 452.9 52.9 453.5 52.4C454.1 51.9 455.2 52.4 456.0 53.0C456.8 53.6 457.2 54.8 458.0 56.0C458.8 57.2 460.0 58.9 460.8 60.1C461.6 61.3 462.6 62.5 463.0 63.0M424.1 72.5C424.8 72.3 427.1 71.2 428.2 71.5C429.3 71.8 430.2 72.8 431.0 74.0C431.8 75.2 432.2 77.7 433.0 79.0C433.8 80.3 434.8 81.1 436.0 82.0C437.2 82.9 439.4 84.0 440.1 84.4M443.0 58.5C442.9 58.6 442.5 58.6 442.1 59.0C441.7 59.4 440.5 60.2 440.5 61.0C440.5 61.8 441.1 63.2 442.0 64.0C442.9 64.8 444.7 66.0 446.0 66.0C447.3 66.0 448.8 64.7 450.0 64.0C451.2 63.3 452.0 62.0 453.0 62.0C454.0 62.0 455.3 63.0 456.0 64.0C456.7 65.0 456.8 67.3 457.0 68.0M466.0 73.5C466.3 72.9 467.5 71.2 468.0 70.0C468.5 68.8 468.9 67.6 469.1 66.3C469.3 65.0 469.1 63.6 469.1 62.0C469.1 60.4 468.8 58.2 469.1 56.9C469.4 55.6 470.2 54.8 471.0 54.0C471.8 53.2 472.9 52.5 474.0 52.0C475.1 51.5 476.6 50.8 477.4 51.3C478.1 51.8 478.6 53.8 478.5 55.0C478.4 56.2 477.5 57.0 477.0 58.5C476.5 60.0 476.1 62.9 475.3 64.2C474.5 65.5 473.1 65.3 472.2 66.3C471.3 67.3 470.5 68.4 470.0 70.0C469.5 71.6 469.2 75.0 469.0 76.0M448.0 96.0C448.5 96.5 450.2 97.7 451.0 99.0C451.8 100.3 452.9 102.5 453.0 104.0C453.1 105.5 452.3 107.2 451.5 108.0C450.7 108.8 449.1 109.3 448.0 109.0C446.9 108.7 445.3 107.3 445.0 106.0C444.7 104.7 445.3 102.3 446.0 101.0C446.7 99.7 448.5 98.5 449.0 98.0M463.9 73.5C464.2 74.2 465.6 76.4 466.0 78.0C466.4 79.6 466.8 81.5 466.5 83.0C466.2 84.5 465.1 86.2 464.0 87.0C462.9 87.8 461.2 88.3 460.0 88.0C458.8 87.7 457.2 86.4 456.6 85.0C456.0 83.6 456.2 81.1 456.6 79.7C457.0 78.3 458.0 76.5 459.0 76.5C460.0 76.5 461.6 78.5 462.8 79.7C464.0 80.9 464.8 82.5 466.0 83.5C467.2 84.5 468.8 85.9 470.0 86.0C471.2 86.1 472.3 85.0 473.0 84.0C473.7 83.0 473.8 80.7 474.0 80.0M451.5 82.8C451.9 83.3 452.9 85.0 454.0 86.0C455.1 87.0 456.5 88.2 458.0 89.0C459.5 89.8 461.5 90.5 463.0 91.0C464.5 91.5 465.7 92.2 467.0 92.0C468.3 91.8 469.8 91.0 471.0 90.0C472.2 89.0 473.5 86.7 474.0 86.0M455.6 72.5C456.2 72.1 457.6 69.8 459.0 70.0C460.4 70.2 462.4 73.0 463.9 73.5C465.4 74.0 466.6 73.4 468.0 73.0C469.4 72.6 471.0 71.8 472.2 71.0C473.4 70.2 474.8 69.1 475.3 68.0C475.8 66.9 475.3 64.8 475.3 64.2M460.8 60.1C461.2 59.8 462.1 58.2 463.0 58.0C463.9 57.8 465.0 59.2 466.0 59.0C467.0 58.8 467.9 57.1 469.1 56.9C470.3 56.7 471.7 57.3 473.0 58.0C474.3 58.7 475.8 60.0 477.0 61.0C478.2 62.0 479.1 62.7 480.0 64.0C480.9 65.3 481.9 67.5 482.6 69.0C483.3 70.5 483.9 71.7 484.0 73.0C484.1 74.3 483.7 75.8 483.0 77.0C482.3 78.2 480.5 79.5 480.0 80.0M445.0 75.0C445.3 75.7 446.2 78.0 447.0 79.0C447.8 80.0 449.2 80.4 450.0 81.0C450.8 81.6 450.8 83.0 451.5 82.8C452.2 82.6 453.1 80.5 454.0 80.0C454.9 79.5 456.2 79.8 456.6 79.7M425.5 61.1C425.9 61.2 427.4 61.8 428.0 62.0C428.6 62.2 428.3 62.1 429.1 62.1C429.9 62.1 431.7 62.4 433.0 62.0C434.3 61.6 435.5 60.5 437.0 60.0C438.5 59.5 441.2 59.2 442.1 59.0M466.0 73.0C466.0 73.4 466.1 74.7 466.2 75.5C466.3 76.4 466.3 77.3 466.4 78.1C466.6 79.0 466.9 79.8 467.0 80.6C467.1 81.5 466.9 82.4 467.0 83.2C467.1 84.1 467.9 85.1 467.7 85.6C467.4 86.2 466.2 86.7 465.5 86.7C464.7 86.7 463.7 86.2 463.2 85.6C462.6 85.0 462.4 84.0 462.1 83.3C461.7 82.5 461.4 81.7 461.1 80.8C460.8 80.0 460.8 79.1 460.3 78.4C459.8 77.8 458.9 77.2 458.2 76.9C457.4 76.6 456.5 76.4 455.7 76.6C455.0 76.8 454.0 77.3 453.6 78.0C453.1 78.6 452.8 79.7 453.0 80.4C453.1 81.2 453.8 82.1 454.5 82.5C455.1 83.0 456.1 82.9 457.0 83.0C457.8 83.0 458.7 82.8 459.5 82.8C460.4 82.9 461.3 82.8 462.1 83.0C462.9 83.3 463.6 84.0 464.4 84.3C465.2 84.6 466.1 84.7 466.9 84.9C467.8 85.1 468.8 85.8 469.4 85.6C470.1 85.4 470.8 84.3 470.9 83.6C471.1 82.8 470.7 81.9 470.4 81.1C470.2 80.3 469.8 79.5 469.5 78.7C469.2 77.9 468.8 77.1 468.8 76.3C468.8 75.5 469.2 74.6 469.7 73.9C470.1 73.2 470.9 72.7 471.5 72.0C472.0 71.4 472.4 70.6 472.9 69.9C473.3 69.1 473.9 68.5 474.2 67.8C474.6 67.0 474.8 66.1 475.1 65.4C475.5 64.6 476.4 63.8 476.4 63.1C476.4 62.3 475.8 61.3 475.2 60.8C474.6 60.4 473.5 60.5 472.6 60.5C471.8 60.6 470.9 61.0 470.2 61.3C469.4 61.7 468.7 62.3 467.9 62.6C467.1 62.9 466.2 63.0 465.4 63.0C464.5 63.0 463.6 62.6 462.9 62.4C462.2 62.1 461.7 61.3 461.0 61.3C460.3 61.3 459.4 61.9 458.7 62.4C458.1 62.9 457.6 63.7 457.0 64.3C456.4 64.9 455.9 65.5 455.2 66.1C454.6 66.6 453.7 66.9 453.1 67.5C452.5 68.1 451.9 68.8 451.6 69.6C451.3 70.4 451.7 71.5 451.3 72.2C450.9 72.8 449.4 72.7 449.1 73.4C448.8 74.0 449.1 75.0 449.4 75.8C449.7 76.6 450.1 77.5 450.7 78.1C451.2 78.7 452.0 79.1 452.7 79.5C453.5 79.9 454.3 80.4 455.1 80.7C455.9 81.0 456.8 81.1 457.6 81.3C458.4 81.5 459.2 81.8 460.1 82.1C460.9 82.3 461.7 82.8 462.5 82.8C463.4 82.8 464.2 82.2 465.0 82.1C465.9 82.0 466.8 82.3 467.6 82.2C468.5 82.1 469.3 81.4 470.1 81.5C470.8 81.6 471.5 82.2 472.2 82.7C472.8 83.2 473.3 84.4 473.9 84.6C474.6 84.7 475.6 83.9 476.3 83.5C477.0 83.0 477.9 82.7 478.2 82.0C478.6 81.3 478.5 80.3 478.5 79.4C478.5 78.6 478.3 77.7 478.1 76.8C478.0 76.0 477.5 75.2 477.5 74.3C477.4 73.5 477.6 72.6 477.9 71.8C478.1 70.9 478.7 70.2 478.9 69.4C479.1 68.6 479.3 67.7 479.1 67.0C478.8 66.2 478.0 65.6 477.5 65.0C476.9 64.3 476.2 63.8 475.5 63.3C474.8 62.7 474.2 62.2 473.5 61.8C472.7 61.3 472.0 60.6 471.2 60.5C470.4 60.3 469.4 60.6 468.8 61.0C468.1 61.5 467.6 62.4 467.3 63.2C467.1 64.0 467.3 64.9 467.3 65.8C467.3 66.6 467.2 67.6 467.5 68.4C467.7 69.2 468.1 69.9 468.6 70.6C469.1 71.2 470.0 71.6 470.5 72.4C470.9 73.1 470.9 74.1 471.2 74.8C471.5 75.6 472.4 76.3 472.5 77.1C472.6 77.9 472.5 79.1 472.0 79.6C471.6 80.1 470.5 80.1 469.7 80.2C468.9 80.3 468.0 80.5 467.1 80.4C466.3 80.4 465.4 80.2 464.6 79.8C463.8 79.5 463.1 78.9 462.4 78.5C461.6 78.1 460.9 77.7 460.1 77.5C459.2 77.4 458.3 77.6 457.5 77.7C456.6 77.8 455.8 78.2 455.0 78.3C454.1 78.4 453.2 78.4 452.4 78.2C451.7 77.9 450.9 77.4 450.5 76.7C450.1 76.0 450.2 75.0 450.1 74.1C450.0 73.3 449.7 72.4 449.8 71.6C450.0 70.8 450.8 70.1 451.2 69.4C451.7 68.7 452.1 67.9 452.5 67.2C452.9 66.5 453.2 65.6 453.7 64.9C454.2 64.2 454.8 63.5 455.5 63.1C456.2 62.7 457.2 62.7 458.0 62.6C458.8 62.4 459.7 62.4 460.5 62.2C461.4 62.0 462.1 61.6 462.9 61.3C463.7 61.0 464.5 60.6 465.3 60.4C466.1 60.3 467.1 60.2 467.9 60.4C468.7 60.6 469.2 61.3 469.9 61.8C470.6 62.3 471.7 63.1 472.1 63.3M462.0 72.0C461.8 72.4 461.4 73.7 460.8 74.3C460.2 74.8 459.2 74.8 458.5 75.2C457.7 75.7 456.9 76.1 456.4 76.8C455.9 77.5 456.0 78.5 455.6 79.3C455.2 80.0 454.4 80.6 454.0 81.3C453.5 82.0 452.9 82.8 452.8 83.5C452.7 84.2 453.0 85.1 453.4 85.8C453.8 86.4 454.6 87.1 455.3 87.5C456.1 87.9 457.0 88.0 457.8 88.0C458.7 88.0 459.6 87.8 460.3 87.4C461.0 86.9 461.6 86.1 462.0 85.4C462.5 84.7 462.8 83.9 463.0 83.0C463.2 82.2 463.1 81.3 463.1 80.4C463.1 79.6 463.0 78.7 462.7 77.9C462.5 77.1 462.1 76.3 461.7 75.5C461.3 74.8 460.9 73.9 460.3 73.4C459.6 72.9 458.7 72.7 457.9 72.4C457.0 72.1 456.2 71.8 455.4 71.6C454.5 71.4 453.5 71.6 452.8 71.1C452.1 70.7 451.7 69.8 451.2 69.1C450.7 68.4 450.1 67.8 449.7 67.1C449.3 66.3 448.9 65.5 448.7 64.7C448.4 63.9 448.3 63.0 448.3 62.1C448.2 61.3 448.1 60.2 448.6 59.6C449.0 59.0 450.1 58.6 450.9 58.5C451.7 58.5 452.6 58.9 453.3 59.3C454.0 59.7 454.9 60.3 455.2 61.0C455.4 61.7 455.2 62.9 454.8 63.6C454.4 64.2 453.5 65.0 452.8 65.1C452.0 65.2 451.1 64.5 450.4 64.2C449.6 63.8 448.7 62.8 448.1 62.9C447.5 63.0 446.9 64.0 446.7 64.7C446.4 65.4 446.7 66.4 446.8 67.3C446.8 68.1 446.6 69.2 447.0 69.8C447.4 70.4 448.5 70.7 449.3 71.0C450.1 71.4 451.0 71.5 451.7 72.0C452.4 72.4 453.0 73.1 453.5 73.8C453.9 74.5 453.9 75.5 454.4 76.2C454.8 76.9 455.6 77.4 456.3 77.9C456.9 78.5 457.7 79.0 458.2 79.6C458.7 80.3 459.0 81.2 459.1 82.1C459.2 82.9 458.6 83.9 458.8 84.6C459.0 85.3 459.7 86.1 460.4 86.3C461.1 86.6 462.2 86.5 462.9 86.2C463.7 85.8 464.2 85.0 464.8 84.4C465.5 83.9 466.1 83.2 466.8 82.7C467.4 82.2 468.3 81.9 469.0 81.4C469.6 80.9 470.2 80.2 470.8 79.6C471.5 79.1 472.4 78.7 472.9 78.0C473.3 77.4 473.5 76.5 473.5 75.7C473.5 74.9 473.1 74.0 472.8 73.2C472.4 72.4 471.9 71.7 471.4 71.0C470.9 70.3 470.1 69.8 469.7 69.0C469.3 68.3 469.2 67.4 468.9 66.5C468.7 65.7 468.1 64.9 468.2 64.1C468.2 63.3 469.0 62.5 469.3 61.7C469.6 60.9 470.1 60.1 470.0 59.3C469.9 58.6 469.4 57.6 468.8 57.1C468.2 56.5 467.3 56.0 466.6 55.9C465.8 55.9 464.6 56.8 464.2 57.0" fill="none" stroke="#ff0000" stroke-width="1.2" stroke-linejoin="round" stroke-linecap="round"/>
<path d="M324.7 50.0L328.3 53.6M324.7 53.6L328.3 50.0M334.9 57.0L338.5 60.6M334.9 60.6L338.5 57.0M352.7 23.4L356.3 27.0M352.7 27.0L356.3 23.4M355.4 32.8L359.0 36.4M355.4 36.4L359.0 32.8M372.7 27.7L376.3 31.3M372.7 31.3L376.3 27.7M390.2 28.9L393.8 32.5M390.2 32.5L393.8 28.9M304.3 71.5L307.9 75.1M304.3 75.1L307.9 71.5M305.3 76.5L308.9 80.1M305.3 80.1L308.9 76.5M301.4 82.3L305.0 85.9M301.4 85.9L305.0 82.3M304.3 87.1L307.9 90.7M304.3 90.7L307.9 87.1M301.4 98.7L305.0 102.3M301.4 102.3L305.0 98.7M308.1 97.7L311.7 101.3M308.1 101.3L311.7 97.7M312.7 100.6L316.3 104.2M312.7 104.2L316.3 100.6M335.5 65.8L339.1 69.4M335.5 69.4L339.1 65.8M343.6 65.8L347.2 69.4M343.6 69.4L347.2 65.8M349.6 71.8L353.2 75.4M349.6 75.4L353.2 71.8M332.7 76.7L336.3 80.3M332.7 80.3L336.3 76.7M336.6 77.8L340.2 81.4M336.6 81.4L340.2 77.8M350.7 77.8L354.3 81.4M350.7 81.4L354.3 77.8M356.7 67.7L360.3 71.3M356.7 71.3L360.3 67.7M341.5 90.7L345.1 94.3M341.5 94.3L345.1 90.7M355.1 85.0L358.7 88.6M355.1 88.6L358.7 85.0M359.1 86.8L362.7 90.4M359.1 90.4L362.7 86.8M362.0 75.8L365.6 79.4M362.0 79.4L365.6 75.8M361.3 97.0L364.9 100.6M361.3 100.6L364.9 97.0M379.5 99.4L383.1 103.0M379.5 103.0L383.1 99.4M339.6 99.9L343.2 103.5M339.6 103.5L343.2 99.9M349.4 97.7L353.0 101.3M349.4 101.3L353.0 97.7M357.2 76.0L360.8 79.6M357.2 79.6L360.8 76.0M344.8 83.0L348.4 86.6M344.8 86.6L348.4 83.0M340.7 91.6L344.3 95.2M340.7 95.2L344.3 91.6M430.0 54.7L433.6 58.3M430.0 58.3L433.6 54.7M423.7 59.3L427.3 62.9M423.7 62.9L427.3 59.3M427.3 60.3L430.9 63.9M427.3 63.9L430.9 60.3M422.3 70.7L425.9 74.3M422.3 74.3L425.9 70.7M426.4 69.7L430.0 73.3M426.4 73.3L430.0 69.7M440.3 57.2L443.9 60.8M440.3 60.8L443.9 57.2M445.1 58.3L448.7 61.9M445.1 61.9L448.7 58.3M450.7 54.1L454.3 57.7M450.7 57.7L454.3 54.1M451.7 50.6L455.3 54.2M451.7 54.2L455.3 50.6M459.0 58.3L462.6 61.9M459.0 61.9L462.6 58.3M453.8 70.7L457.4 74.3M453.8 74.3L457.4 70.7M462.1 71.7L465.7 75.3M462.1 75.3L465.7 71.7M454.8 77.9L458.4 81.5M454.8 81.5L458.4 77.9M449.7 81.0L453.3 84.6M449.7 84.6L453.3 81.0M461.0 77.9L464.6 81.5M461.0 81.5L464.6 77.9M475.6 49.5L479.2 53.1M475.6 53.1L479.2 49.5M467.3 55.1L470.9 58.7M467.3 58.7L470.9 55.1M489.1 59.3L492.7 62.9M489.1 62.9L492.7 59.3M480.8 67.2L484.4 70.8M480.8 70.8L484.4 67.2M473.5 62.4L477.1 66.0M473.5 66.0L477.1 62.4M470.4 64.5L474.0 68.1M470.4 68.1L474.0 64.5M472.5 73.8L476.1 77.4M472.5 77.4L476.1 73.8M467.3 77.9L470.9 81.5M467.3 81.5L470.9 77.9M464.2 68.2L467.8 71.8M464.2 71.8L467.8 68.2M465.7 62.2L469.3 65.8M465.7 65.8L469.3 62.2M457.2 64.2L460.8 67.8M457.2 67.8L460.8 64.2M468.2 72.2L471.8 75.8M468.2 75.8L471.8 72.2M464.7 65.2L468.3 68.8M464.7 68.8L468.3 65.2M452.2 50.6L455.8 54.2M452.2 54.2L455.8 50.6M450.1 55.0L453.7 58.6M450.1 58.6L453.7 55.0M444.8 58.3L448.4 61.9M444.8 61.9L448.4 58.3M459.6 58.3L463.2 61.9M459.6 61.9L463.2 58.3M467.4 55.5L471.0 59.1M467.4 59.1L471.0 55.5M475.9 49.7L479.5 53.3M475.9 53.3L479.5 49.7M487.4 59.6L491.0 63.2M487.4 63.2L491.0 59.6M469.4 63.7L473.0 67.3M469.4 67.3L473.0 63.7M475.1 62.0L478.7 65.6M475.1 65.6L478.7 62.0M481.2 67.4L484.8 71.0M481.2 71.0L484.8 67.4M462.8 70.2L466.4 73.8M462.8 73.8L466.4 70.2M473.5 74.3L477.1 77.9M473.5 77.9L477.1 74.3M455.5 76.8L459.1 80.4M455.5 80.4L459.1 76.8M454.7 81.7L458.3 85.3M454.7 85.3L458.3 81.7M462.8 78.4L466.4 82.0M462.8 82.0L466.4 78.4M459.6 82.5L463.2 86.1M459.6 86.1L463.2 82.5M463.7 84.9L467.3 88.5M463.7 88.5L467.3 84.9M467.7 83.3L471.3 86.9M467.7 86.9L471.3 83.3" fill="none" stroke="#0000ff" stroke-width="1.8"/>
<circle cx="341.4" cy="73.4" r="7.2" fill="none" stroke="#000" stroke-width="1" stroke-dasharray="1.6 1.6"/>
<circle cx="466.5" cy="73.6" r="7.0" fill="none" stroke="#000" stroke-width="1" stroke-dasharray="1.6 1.6"/>
<rect x="285.6" y="17.9" width="111.8" height="111.5" fill="none" stroke="#1a1a1a" stroke-width="1.15"/>
<rect x="285.5" y="142.3" width="112.0" height="112.0" fill="none" stroke="#000" stroke-width="0.8"/>
<rect x="410.6" y="17.9" width="111.8" height="111.5" fill="none" stroke="#1a1a1a" stroke-width="1.15"/>
<rect x="410.5" y="142.3" width="112.0" height="112.0" fill="none" stroke="#000" stroke-width="0.8"/>
<path d="M343.8 122.2 L353.40000000000003 118.2 L351.1 122.2 L353.40000000000003 126.4 Z" fill="#000"/>
<text x="355.0" y="124.8" font-size="8.5" text-anchor="start" fill="#000">start</text>
<path d="M469.0 122.2 L478.6 118.2 L476.3 122.2 L478.6 126.4 Z" fill="#000"/>
<text x="480.2" y="124.8" font-size="8.5" text-anchor="start" fill="#000">start</text>
<path d="M344.0 246.2 L353.6 242.2 L351.3 246.2 L353.6 250.39999999999998 Z" fill="#fff"/>
<text x="355.4" y="248.6" font-size="8.5" text-anchor="start" fill="#fff">start</text>
<path d="M469.2 246.2 L478.8 242.2 L476.5 246.2 L478.8 250.39999999999998 Z" fill="#fff"/>
<text x="480.6" y="248.6" font-size="8.5" text-anchor="start" fill="#fff">start</text>
<circle cx="341.4" cy="198.1" r="7.2" fill="none" stroke="#000" stroke-width="1.1" stroke-dasharray="2 1.6"/>
<circle cx="466.5" cy="198.4" r="7.0" fill="none" stroke="#000" stroke-width="1.1" stroke-dasharray="2 1.6"/>
<defs><linearGradient id="jetg" x1="0" y1="0" x2="0" y2="1"><stop offset="0.0000" stop-color="rgb(128,0,0)"/><stop offset="0.0156" stop-color="rgb(143,0,0)"/><stop offset="0.0312" stop-color="rgb(159,0,0)"/><stop offset="0.0469" stop-color="rgb(175,0,0)"/><stop offset="0.0625" stop-color="rgb(191,0,0)"/><stop offset="0.0781" stop-color="rgb(207,0,0)"/><stop offset="0.0938" stop-color="rgb(223,0,0)"/><stop offset="0.1094" stop-color="rgb(239,0,0)"/><stop offset="0.1250" stop-color="rgb(255,0,0)"/><stop offset="0.1406" stop-color="rgb(255,16,0)"/><stop offset="0.1562" stop-color="rgb(255,32,0)"/><stop offset="0.1719" stop-color="rgb(255,48,0)"/><stop offset="0.1875" stop-color="rgb(255,64,0)"/><stop offset="0.2031" stop-color="rgb(255,80,0)"/><stop offset="0.2188" stop-color="rgb(255,96,0)"/><stop offset="0.2344" stop-color="rgb(255,112,0)"/><stop offset="0.2500" stop-color="rgb(255,128,0)"/><stop offset="0.2656" stop-color="rgb(255,143,0)"/><stop offset="0.2812" stop-color="rgb(255,159,0)"/><stop offset="0.2969" stop-color="rgb(255,175,0)"/><stop offset="0.3125" stop-color="rgb(255,191,0)"/><stop offset="0.3281" stop-color="rgb(255,207,0)"/><stop offset="0.3438" stop-color="rgb(255,223,0)"/><stop offset="0.3594" stop-color="rgb(255,239,0)"/><stop offset="0.3750" stop-color="rgb(255,255,0)"/><stop offset="0.3906" stop-color="rgb(239,255,16)"/><stop offset="0.4062" stop-color="rgb(223,255,32)"/><stop offset="0.4219" stop-color="rgb(207,255,48)"/><stop offset="0.4375" stop-color="rgb(191,255,64)"/><stop offset="0.4531" stop-color="rgb(175,255,80)"/><stop offset="0.4688" stop-color="rgb(159,255,96)"/><stop offset="0.4844" stop-color="rgb(143,255,112)"/><stop offset="0.5000" stop-color="rgb(128,255,128)"/><stop offset="0.5156" stop-color="rgb(112,255,143)"/><stop offset="0.5312" stop-color="rgb(96,255,159)"/><stop offset="0.5469" stop-color="rgb(80,255,175)"/><stop offset="0.5625" stop-color="rgb(64,255,191)"/><stop offset="0.5781" stop-color="rgb(48,255,207)"/><stop offset="0.5938" stop-color="rgb(32,255,223)"/><stop offset="0.6094" stop-color="rgb(16,255,239)"/><stop offset="0.6250" stop-color="rgb(0,255,255)"/><stop offset="0.6406" stop-color="rgb(0,239,255)"/><stop offset="0.6562" stop-color="rgb(0,223,255)"/><stop offset="0.6719" stop-color="rgb(0,207,255)"/><stop offset="0.6875" stop-color="rgb(0,191,255)"/><stop offset="0.7031" stop-color="rgb(0,175,255)"/><stop offset="0.7188" stop-color="rgb(0,159,255)"/><stop offset="0.7344" stop-color="rgb(0,143,255)"/><stop offset="0.7500" stop-color="rgb(0,128,255)"/><stop offset="0.7656" stop-color="rgb(0,112,255)"/><stop offset="0.7812" stop-color="rgb(0,96,255)"/><stop offset="0.7969" stop-color="rgb(0,80,255)"/><stop offset="0.8125" stop-color="rgb(0,64,255)"/><stop offset="0.8281" stop-color="rgb(0,48,255)"/><stop offset="0.8438" stop-color="rgb(0,32,255)"/><stop offset="0.8594" stop-color="rgb(0,16,255)"/><stop offset="0.8750" stop-color="rgb(0,0,255)"/><stop offset="0.8906" stop-color="rgb(0,0,239)"/><stop offset="0.9062" stop-color="rgb(0,0,223)"/><stop offset="0.9219" stop-color="rgb(0,0,207)"/><stop offset="0.9375" stop-color="rgb(0,0,191)"/><stop offset="0.9531" stop-color="rgb(0,0,175)"/><stop offset="0.9688" stop-color="rgb(0,0,159)"/><stop offset="0.9844" stop-color="rgb(0,0,143)"/><stop offset="1.0000" stop-color="rgb(0,0,128)"/></linearGradient></defs>
<rect x="532.8" y="142.2" width="16.2" height="111.5" fill="url(#jetg)" stroke="#000" stroke-width="0.8"/>
<line x1="549.0" y1="142.2" x2="551.5" y2="142.2" stroke="#000" stroke-width="0.8"/>
<text x="552.5" y="144.79999999999998" font-size="9" text-anchor="start" fill="#000">100</text>
<line x1="549.0" y1="164.5" x2="551.5" y2="164.5" stroke="#000" stroke-width="0.8"/>
<text x="552.5" y="167.1" font-size="9" text-anchor="start" fill="#000">80</text>
<line x1="549.0" y1="186.79999999999998" x2="551.5" y2="186.79999999999998" stroke="#000" stroke-width="0.8"/>
<text x="552.5" y="189.39999999999998" font-size="9" text-anchor="start" fill="#000">60</text>
<line x1="549.0" y1="209.1" x2="551.5" y2="209.1" stroke="#000" stroke-width="0.8"/>
<text x="552.5" y="211.7" font-size="9" text-anchor="start" fill="#000">40</text>
<line x1="549.0" y1="231.39999999999998" x2="551.5" y2="231.39999999999998" stroke="#000" stroke-width="0.8"/>
<text x="552.5" y="233.99999999999997" font-size="9" text-anchor="start" fill="#000">20</text>
<line x1="549.0" y1="253.7" x2="551.5" y2="253.7" stroke="#000" stroke-width="0.8"/>
<text x="552.5" y="256.3" font-size="9" text-anchor="start" fill="#000">0</text>
<text x="540.9" y="138.5" font-size="8.5" text-anchor="middle" fill="#000">sec</text>
<line x1="608.3" y1="33.0" x2="608.3" y2="205.2" stroke="#000" stroke-width="1"/>
<line x1="608.3" y1="205.2" x2="611.6999999999999" y2="205.2" stroke="#000" stroke-width="1"/>
<text x="605.8" y="207.79999999999998" font-size="9" text-anchor="end" fill="#000">0</text>
<line x1="608.3" y1="176.5" x2="611.6999999999999" y2="176.5" stroke="#000" stroke-width="1"/>
<text x="605.8" y="179.1" font-size="9" text-anchor="end" fill="#000">20</text>
<line x1="608.3" y1="147.79999999999998" x2="611.6999999999999" y2="147.79999999999998" stroke="#000" stroke-width="1"/>
<text x="605.8" y="150.39999999999998" font-size="9" text-anchor="end" fill="#000">40</text>
<line x1="608.3" y1="119.1" x2="611.6999999999999" y2="119.1" stroke="#000" stroke-width="1"/>
<text x="605.8" y="121.69999999999999" font-size="9" text-anchor="end" fill="#000">60</text>
<line x1="608.3" y1="90.39999999999999" x2="611.6999999999999" y2="90.39999999999999" stroke="#000" stroke-width="1"/>
<text x="605.8" y="92.99999999999999" font-size="9" text-anchor="end" fill="#000">80</text>
<line x1="608.3" y1="61.69999999999999" x2="611.6999999999999" y2="61.69999999999999" stroke="#000" stroke-width="1"/>
<text x="605.8" y="64.29999999999998" font-size="9" text-anchor="end" fill="#000">100</text>
<line x1="608.3" y1="33.0" x2="611.6999999999999" y2="33.0" stroke="#000" stroke-width="1"/>
<text x="605.8" y="35.6" font-size="9" text-anchor="end" fill="#000">120</text>
<text x="588.9" y="121.2" font-size="9.3" text-anchor="middle" fill="#000" transform="rotate(-90 588.9 121.2)">total time [sec]</text>
<line x1="634.1" y1="128.3" x2="634.1" y2="205.2" stroke="#222" stroke-width="1"/>
<line x1="626.6" y1="128.3" x2="641.6" y2="128.3" stroke="#333" stroke-width="1.1"/>
<line x1="626.6" y1="205.2" x2="641.6" y2="205.2" stroke="#333" stroke-width="1.1"/>
<rect x="619.5500000000001" y="152.4" width="29.1" height="35.4" fill="#fae2d0" stroke="#333" stroke-width="1"/>
<line x1="619.5500000000001" y1="173.5" x2="648.6500000000001" y2="173.5" stroke="#333" stroke-width="1"/>
<line x1="670.2" y1="59.0" x2="670.2" y2="205.2" stroke="#222" stroke-width="1"/>
<line x1="662.7" y1="59.0" x2="677.7" y2="59.0" stroke="#333" stroke-width="1.1"/>
<line x1="662.7" y1="205.2" x2="677.7" y2="205.2" stroke="#333" stroke-width="1.1"/>
<rect x="655.6500000000001" y="129.9" width="29.1" height="47.9" fill="#cee3f2" stroke="#333" stroke-width="1"/>
<line x1="655.6500000000001" y1="157.0" x2="684.7500000000001" y2="157.0" stroke="#333" stroke-width="1"/>
<path d="M632.7 89.3a1.4 1.4 0 1 0 2.8 0a1.4 1.4 0 1 0 -2.8 0M632.7 97.1a1.4 1.4 0 1 0 2.8 0a1.4 1.4 0 1 0 -2.8 0M636.7 97.4a1.4 1.4 0 1 0 2.8 0a1.4 1.4 0 1 0 -2.8 0M632.7 128.9a1.4 1.4 0 1 0 2.8 0a1.4 1.4 0 1 0 -2.8 0M636.7 129.5a1.4 1.4 0 1 0 2.8 0a1.4 1.4 0 1 0 -2.8 0M628.7 129.5a1.4 1.4 0 1 0 2.8 0a1.4 1.4 0 1 0 -2.8 0M640.7 129.5a1.4 1.4 0 1 0 2.8 0a1.4 1.4 0 1 0 -2.8 0M625.2 130.3a1.4 1.4 0 1 0 2.8 0a1.4 1.4 0 1 0 -2.8 0M644.2 130.8a1.4 1.4 0 1 0 2.8 0a1.4 1.4 0 1 0 -2.8 0M621.7 131.1a1.4 1.4 0 1 0 2.8 0a1.4 1.4 0 1 0 -2.8 0M632.7 132.4a1.4 1.4 0 1 0 2.8 0a1.4 1.4 0 1 0 -2.8 0M637.7 132.5a1.4 1.4 0 1 0 2.8 0a1.4 1.4 0 1 0 -2.8 0M628.7 132.8a1.4 1.4 0 1 0 2.8 0a1.4 1.4 0 1 0 -2.8 0M632.7 137.1a1.4 1.4 0 1 0 2.8 0a1.4 1.4 0 1 0 -2.8 0M636.2 138.5a1.4 1.4 0 1 0 2.8 0a1.4 1.4 0 1 0 -2.8 0M629.2 138.5a1.4 1.4 0 1 0 2.8 0a1.4 1.4 0 1 0 -2.8 0M639.7 139.2a1.4 1.4 0 1 0 2.8 0a1.4 1.4 0 1 0 -2.8 0M625.7 139.8a1.4 1.4 0 1 0 2.8 0a1.4 1.4 0 1 0 -2.8 0M632.7 140.7a1.4 1.4 0 1 0 2.8 0a1.4 1.4 0 1 0 -2.8 0M642.7 141.0a1.4 1.4 0 1 0 2.8 0a1.4 1.4 0 1 0 -2.8 0M622.2 141.0a1.4 1.4 0 1 0 2.8 0a1.4 1.4 0 1 0 -2.8 0M646.7 141.2a1.4 1.4 0 1 0 2.8 0a1.4 1.4 0 1 0 -2.8 0M618.2 141.3a1.4 1.4 0 1 0 2.8 0a1.4 1.4 0 1 0 -2.8 0M635.7 142.8a1.4 1.4 0 1 0 2.8 0a1.4 1.4 0 1 0 -2.8 0M630.2 142.8a1.4 1.4 0 1 0 2.8 0a1.4 1.4 0 1 0 -2.8 0M626.7 143.7a1.4 1.4 0 1 0 2.8 0a1.4 1.4 0 1 0 -2.8 0M639.2 144.3a1.4 1.4 0 1 0 2.8 0a1.4 1.4 0 1 0 -2.8 0M633.2 145.0a1.4 1.4 0 1 0 2.8 0a1.4 1.4 0 1 0 -2.8 0M623.2 145.0a1.4 1.4 0 1 0 2.8 0a1.4 1.4 0 1 0 -2.8 0M642.7 145.1a1.4 1.4 0 1 0 2.8 0a1.4 1.4 0 1 0 -2.8 0M629.7 146.1a1.4 1.4 0 1 0 2.8 0a1.4 1.4 0 1 0 -2.8 0M636.2 146.9a1.4 1.4 0 1 0 2.8 0a1.4 1.4 0 1 0 -2.8 0M626.2 147.7a1.4 1.4 0 1 0 2.8 0a1.4 1.4 0 1 0 -2.8 0M632.7 149.1a1.4 1.4 0 1 0 2.8 0a1.4 1.4 0 1 0 -2.8 0M638.2 149.5a1.4 1.4 0 1 0 2.8 0a1.4 1.4 0 1 0 -2.8 0M629.2 150.1a1.4 1.4 0 1 0 2.8 0a1.4 1.4 0 1 0 -2.8 0M624.2 150.4a1.4 1.4 0 1 0 2.8 0a1.4 1.4 0 1 0 -2.8 0M641.7 150.8a1.4 1.4 0 1 0 2.8 0a1.4 1.4 0 1 0 -2.8 0M634.7 151.6a1.4 1.4 0 1 0 2.8 0a1.4 1.4 0 1 0 -2.8 0M632.2 154.0a1.4 1.4 0 1 0 2.8 0a1.4 1.4 0 1 0 -2.8 0M636.2 154.7a1.4 1.4 0 1 0 2.8 0a1.4 1.4 0 1 0 -2.8 0M632.7 157.3a1.4 1.4 0 1 0 2.8 0a1.4 1.4 0 1 0 -2.8 0M628.7 157.3a1.4 1.4 0 1 0 2.8 0a1.4 1.4 0 1 0 -2.8 0M636.2 158.4a1.4 1.4 0 1 0 2.8 0a1.4 1.4 0 1 0 -2.8 0M640.2 158.8a1.4 1.4 0 1 0 2.8 0a1.4 1.4 0 1 0 -2.8 0M632.7 160.5a1.4 1.4 0 1 0 2.8 0a1.4 1.4 0 1 0 -2.8 0M635.7 162.3a1.4 1.4 0 1 0 2.8 0a1.4 1.4 0 1 0 -2.8 0M629.7 162.4a1.4 1.4 0 1 0 2.8 0a1.4 1.4 0 1 0 -2.8 0M639.7 162.4a1.4 1.4 0 1 0 2.8 0a1.4 1.4 0 1 0 -2.8 0M625.7 162.7a1.4 1.4 0 1 0 2.8 0a1.4 1.4 0 1 0 -2.8 0M632.7 165.7a1.4 1.4 0 1 0 2.8 0a1.4 1.4 0 1 0 -2.8 0M636.7 166.1a1.4 1.4 0 1 0 2.8 0a1.4 1.4 0 1 0 -2.8 0M629.2 167.3a1.4 1.4 0 1 0 2.8 0a1.4 1.4 0 1 0 -2.8 0M632.7 169.8a1.4 1.4 0 1 0 2.8 0a1.4 1.4 0 1 0 -2.8 0M636.7 170.0a1.4 1.4 0 1 0 2.8 0a1.4 1.4 0 1 0 -2.8 0M627.7 170.1a1.4 1.4 0 1 0 2.8 0a1.4 1.4 0 1 0 -2.8 0M640.7 170.2a1.4 1.4 0 1 0 2.8 0a1.4 1.4 0 1 0 -2.8 0M623.7 170.5a1.4 1.4 0 1 0 2.8 0a1.4 1.4 0 1 0 -2.8 0M644.7 170.8a1.4 1.4 0 1 0 2.8 0a1.4 1.4 0 1 0 -2.8 0M619.7 171.2a1.4 1.4 0 1 0 2.8 0a1.4 1.4 0 1 0 -2.8 0M632.7 173.5a1.4 1.4 0 1 0 2.8 0a1.4 1.4 0 1 0 -2.8 0M636.7 173.8a1.4 1.4 0 1 0 2.8 0a1.4 1.4 0 1 0 -2.8 0M629.2 174.8a1.4 1.4 0 1 0 2.8 0a1.4 1.4 0 1 0 -2.8 0M639.2 176.0a1.4 1.4 0 1 0 2.8 0a1.4 1.4 0 1 0 -2.8 0M625.7 176.2a1.4 1.4 0 1 0 2.8 0a1.4 1.4 0 1 0 -2.8 0M634.2 176.3a1.4 1.4 0 1 0 2.8 0a1.4 1.4 0 1 0 -2.8 0M642.7 176.9a1.4 1.4 0 1 0 2.8 0a1.4 1.4 0 1 0 -2.8 0M622.2 177.0a1.4 1.4 0 1 0 2.8 0a1.4 1.4 0 1 0 -2.8 0M646.7 177.3a1.4 1.4 0 1 0 2.8 0a1.4 1.4 0 1 0 -2.8 0M631.2 178.1a1.4 1.4 0 1 0 2.8 0a1.4 1.4 0 1 0 -2.8 0M618.7 178.1a1.4 1.4 0 1 0 2.8 0a1.4 1.4 0 1 0 -2.8 0M635.2 179.2a1.4 1.4 0 1 0 2.8 0a1.4 1.4 0 1 0 -2.8 0M627.7 179.3a1.4 1.4 0 1 0 2.8 0a1.4 1.4 0 1 0 -2.8 0M638.7 180.7a1.4 1.4 0 1 0 2.8 0a1.4 1.4 0 1 0 -2.8 0M632.2 181.0a1.4 1.4 0 1 0 2.8 0a1.4 1.4 0 1 0 -2.8 0M624.7 181.4a1.4 1.4 0 1 0 2.8 0a1.4 1.4 0 1 0 -2.8 0M635.7 182.5a1.4 1.4 0 1 0 2.8 0a1.4 1.4 0 1 0 -2.8 0M629.7 183.3a1.4 1.4 0 1 0 2.8 0a1.4 1.4 0 1 0 -2.8 0M639.2 183.9a1.4 1.4 0 1 0 2.8 0a1.4 1.4 0 1 0 -2.8 0M626.2 184.3a1.4 1.4 0 1 0 2.8 0a1.4 1.4 0 1 0 -2.8 0M643.2 184.3a1.4 1.4 0 1 0 2.8 0a1.4 1.4 0 1 0 -2.8 0M632.7 185.0a1.4 1.4 0 1 0 2.8 0a1.4 1.4 0 1 0 -2.8 0M636.2 185.9a1.4 1.4 0 1 0 2.8 0a1.4 1.4 0 1 0 -2.8 0M629.2 186.5a1.4 1.4 0 1 0 2.8 0a1.4 1.4 0 1 0 -2.8 0M623.7 186.6a1.4 1.4 0 1 0 2.8 0a1.4 1.4 0 1 0 -2.8 0M639.7 187.2a1.4 1.4 0 1 0 2.8 0a1.4 1.4 0 1 0 -2.8 0M643.7 187.9a1.4 1.4 0 1 0 2.8 0a1.4 1.4 0 1 0 -2.8 0M632.7 188.7a1.4 1.4 0 1 0 2.8 0a1.4 1.4 0 1 0 -2.8 0M635.7 190.4a1.4 1.4 0 1 0 2.8 0a1.4 1.4 0 1 0 -2.8 0M629.7 190.6a1.4 1.4 0 1 0 2.8 0a1.4 1.4 0 1 0 -2.8 0M639.7 190.7a1.4 1.4 0 1 0 2.8 0a1.4 1.4 0 1 0 -2.8 0M625.7 191.1a1.4 1.4 0 1 0 2.8 0a1.4 1.4 0 1 0 -2.8 0M643.7 191.2a1.4 1.4 0 1 0 2.8 0a1.4 1.4 0 1 0 -2.8 0M622.2 192.0a1.4 1.4 0 1 0 2.8 0a1.4 1.4 0 1 0 -2.8 0M647.2 192.0a1.4 1.4 0 1 0 2.8 0a1.4 1.4 0 1 0 -2.8 0M632.7 193.9a1.4 1.4 0 1 0 2.8 0a1.4 1.4 0 1 0 -2.8 0M636.7 194.2a1.4 1.4 0 1 0 2.8 0a1.4 1.4 0 1 0 -2.8 0M629.2 194.9a1.4 1.4 0 1 0 2.8 0a1.4 1.4 0 1 0 -2.8 0M639.7 196.0a1.4 1.4 0 1 0 2.8 0a1.4 1.4 0 1 0 -2.8 0M625.7 196.0a1.4 1.4 0 1 0 2.8 0a1.4 1.4 0 1 0 -2.8 0M643.7 196.6a1.4 1.4 0 1 0 2.8 0a1.4 1.4 0 1 0 -2.8 0M632.7 197.0a1.4 1.4 0 1 0 2.8 0a1.4 1.4 0 1 0 -2.8 0M636.2 197.9a1.4 1.4 0 1 0 2.8 0a1.4 1.4 0 1 0 -2.8 0M629.7 199.1a1.4 1.4 0 1 0 2.8 0a1.4 1.4 0 1 0 -2.8 0M632.7 202.8a1.4 1.4 0 1 0 2.8 0a1.4 1.4 0 1 0 -2.8 0M636.7 203.0a1.4 1.4 0 1 0 2.8 0a1.4 1.4 0 1 0 -2.8 0M628.7 203.0a1.4 1.4 0 1 0 2.8 0a1.4 1.4 0 1 0 -2.8 0M640.7 203.2a1.4 1.4 0 1 0 2.8 0a1.4 1.4 0 1 0 -2.8 0M624.7 203.3a1.4 1.4 0 1 0 2.8 0a1.4 1.4 0 1 0 -2.8 0M644.2 204.1a1.4 1.4 0 1 0 2.8 0a1.4 1.4 0 1 0 -2.8 0M621.2 204.2a1.4 1.4 0 1 0 2.8 0a1.4 1.4 0 1 0 -2.8 0" fill="#d9600f"/>
<path d="M668.8 43.0a1.4 1.4 0 1 0 2.8 0a1.4 1.4 0 1 0 -2.8 0M668.8 59.3a1.4 1.4 0 1 0 2.8 0a1.4 1.4 0 1 0 -2.8 0M668.8 62.5a1.4 1.4 0 1 0 2.8 0a1.4 1.4 0 1 0 -2.8 0M672.3 63.8a1.4 1.4 0 1 0 2.8 0a1.4 1.4 0 1 0 -2.8 0M668.8 70.0a1.4 1.4 0 1 0 2.8 0a1.4 1.4 0 1 0 -2.8 0M668.8 76.8a1.4 1.4 0 1 0 2.8 0a1.4 1.4 0 1 0 -2.8 0M668.8 80.0a1.4 1.4 0 1 0 2.8 0a1.4 1.4 0 1 0 -2.8 0M668.8 84.3a1.4 1.4 0 1 0 2.8 0a1.4 1.4 0 1 0 -2.8 0M671.8 86.2a1.4 1.4 0 1 0 2.8 0a1.4 1.4 0 1 0 -2.8 0M666.8 86.9a1.4 1.4 0 1 0 2.8 0a1.4 1.4 0 1 0 -2.8 0M663.3 87.6a1.4 1.4 0 1 0 2.8 0a1.4 1.4 0 1 0 -2.8 0M668.8 91.7a1.4 1.4 0 1 0 2.8 0a1.4 1.4 0 1 0 -2.8 0M668.8 102.3a1.4 1.4 0 1 0 2.8 0a1.4 1.4 0 1 0 -2.8 0M672.8 102.7a1.4 1.4 0 1 0 2.8 0a1.4 1.4 0 1 0 -2.8 0M668.8 105.7a1.4 1.4 0 1 0 2.8 0a1.4 1.4 0 1 0 -2.8 0M672.3 107.1a1.4 1.4 0 1 0 2.8 0a1.4 1.4 0 1 0 -2.8 0M665.8 107.5a1.4 1.4 0 1 0 2.8 0a1.4 1.4 0 1 0 -2.8 0M668.8 109.7a1.4 1.4 0 1 0 2.8 0a1.4 1.4 0 1 0 -2.8 0M671.8 111.7a1.4 1.4 0 1 0 2.8 0a1.4 1.4 0 1 0 -2.8 0M666.3 112.2a1.4 1.4 0 1 0 2.8 0a1.4 1.4 0 1 0 -2.8 0M662.3 112.3a1.4 1.4 0 1 0 2.8 0a1.4 1.4 0 1 0 -2.8 0M668.8 115.2a1.4 1.4 0 1 0 2.8 0a1.4 1.4 0 1 0 -2.8 0M672.3 116.3a1.4 1.4 0 1 0 2.8 0a1.4 1.4 0 1 0 -2.8 0M668.8 119.0a1.4 1.4 0 1 0 2.8 0a1.4 1.4 0 1 0 -2.8 0M664.8 119.1a1.4 1.4 0 1 0 2.8 0a1.4 1.4 0 1 0 -2.8 0M672.8 119.5a1.4 1.4 0 1 0 2.8 0a1.4 1.4 0 1 0 -2.8 0M676.8 119.7a1.4 1.4 0 1 0 2.8 0a1.4 1.4 0 1 0 -2.8 0M661.3 120.7a1.4 1.4 0 1 0 2.8 0a1.4 1.4 0 1 0 -2.8 0M680.3 120.8a1.4 1.4 0 1 0 2.8 0a1.4 1.4 0 1 0 -2.8 0M657.3 120.9a1.4 1.4 0 1 0 2.8 0a1.4 1.4 0 1 0 -2.8 0M684.3 121.0a1.4 1.4 0 1 0 2.8 0a1.4 1.4 0 1 0 -2.8 0M668.8 130.9a1.4 1.4 0 1 0 2.8 0a1.4 1.4 0 1 0 -2.8 0M671.8 132.9a1.4 1.4 0 1 0 2.8 0a1.4 1.4 0 1 0 -2.8 0M668.3 134.0a1.4 1.4 0 1 0 2.8 0a1.4 1.4 0 1 0 -2.8 0M664.3 134.1a1.4 1.4 0 1 0 2.8 0a1.4 1.4 0 1 0 -2.8 0M674.8 134.7a1.4 1.4 0 1 0 2.8 0a1.4 1.4 0 1 0 -2.8 0M660.8 135.7a1.4 1.4 0 1 0 2.8 0a1.4 1.4 0 1 0 -2.8 0M670.8 136.3a1.4 1.4 0 1 0 2.8 0a1.4 1.4 0 1 0 -2.8 0M667.3 137.2a1.4 1.4 0 1 0 2.8 0a1.4 1.4 0 1 0 -2.8 0M674.3 137.8a1.4 1.4 0 1 0 2.8 0a1.4 1.4 0 1 0 -2.8 0M663.8 138.0a1.4 1.4 0 1 0 2.8 0a1.4 1.4 0 1 0 -2.8 0M678.3 138.3a1.4 1.4 0 1 0 2.8 0a1.4 1.4 0 1 0 -2.8 0M668.8 140.7a1.4 1.4 0 1 0 2.8 0a1.4 1.4 0 1 0 -2.8 0M672.3 142.0a1.4 1.4 0 1 0 2.8 0a1.4 1.4 0 1 0 -2.8 0M665.8 142.6a1.4 1.4 0 1 0 2.8 0a1.4 1.4 0 1 0 -2.8 0M675.8 143.0a1.4 1.4 0 1 0 2.8 0a1.4 1.4 0 1 0 -2.8 0M668.8 145.1a1.4 1.4 0 1 0 2.8 0a1.4 1.4 0 1 0 -2.8 0M668.8 151.3a1.4 1.4 0 1 0 2.8 0a1.4 1.4 0 1 0 -2.8 0M672.8 151.3a1.4 1.4 0 1 0 2.8 0a1.4 1.4 0 1 0 -2.8 0M664.8 151.6a1.4 1.4 0 1 0 2.8 0a1.4 1.4 0 1 0 -2.8 0M668.8 154.4a1.4 1.4 0 1 0 2.8 0a1.4 1.4 0 1 0 -2.8 0M672.3 155.7a1.4 1.4 0 1 0 2.8 0a1.4 1.4 0 1 0 -2.8 0M666.3 156.6a1.4 1.4 0 1 0 2.8 0a1.4 1.4 0 1 0 -2.8 0M662.3 156.7a1.4 1.4 0 1 0 2.8 0a1.4 1.4 0 1 0 -2.8 0M675.8 157.0a1.4 1.4 0 1 0 2.8 0a1.4 1.4 0 1 0 -2.8 0M669.8 158.0a1.4 1.4 0 1 0 2.8 0a1.4 1.4 0 1 0 -2.8 0M659.8 159.1a1.4 1.4 0 1 0 2.8 0a1.4 1.4 0 1 0 -2.8 0M667.3 160.4a1.4 1.4 0 1 0 2.8 0a1.4 1.4 0 1 0 -2.8 0M670.8 161.6a1.4 1.4 0 1 0 2.8 0a1.4 1.4 0 1 0 -2.8 0M664.8 162.6a1.4 1.4 0 1 0 2.8 0a1.4 1.4 0 1 0 -2.8 0M674.3 162.8a1.4 1.4 0 1 0 2.8 0a1.4 1.4 0 1 0 -2.8 0M668.3 164.0a1.4 1.4 0 1 0 2.8 0a1.4 1.4 0 1 0 -2.8 0M671.8 164.9a1.4 1.4 0 1 0 2.8 0a1.4 1.4 0 1 0 -2.8 0M662.8 165.2a1.4 1.4 0 1 0 2.8 0a1.4 1.4 0 1 0 -2.8 0M676.3 165.5a1.4 1.4 0 1 0 2.8 0a1.4 1.4 0 1 0 -2.8 0M658.8 165.5a1.4 1.4 0 1 0 2.8 0a1.4 1.4 0 1 0 -2.8 0M680.3 165.7a1.4 1.4 0 1 0 2.8 0a1.4 1.4 0 1 0 -2.8 0M655.3 166.2a1.4 1.4 0 1 0 2.8 0a1.4 1.4 0 1 0 -2.8 0M683.8 166.4a1.4 1.4 0 1 0 2.8 0a1.4 1.4 0 1 0 -2.8 0M668.8 167.0a1.4 1.4 0 1 0 2.8 0a1.4 1.4 0 1 0 -2.8 0M651.8 167.2a1.4 1.4 0 1 0 2.8 0a1.4 1.4 0 1 0 -2.8 0M687.3 167.6a1.4 1.4 0 1 0 2.8 0a1.4 1.4 0 1 0 -2.8 0M672.3 168.3a1.4 1.4 0 1 0 2.8 0a1.4 1.4 0 1 0 -2.8 0M668.8 171.6a1.4 1.4 0 1 0 2.8 0a1.4 1.4 0 1 0 -2.8 0M672.8 171.8a1.4 1.4 0 1 0 2.8 0a1.4 1.4 0 1 0 -2.8 0M664.8 172.2a1.4 1.4 0 1 0 2.8 0a1.4 1.4 0 1 0 -2.8 0M676.8 172.4a1.4 1.4 0 1 0 2.8 0a1.4 1.4 0 1 0 -2.8 0M660.8 172.5a1.4 1.4 0 1 0 2.8 0a1.4 1.4 0 1 0 -2.8 0M668.8 175.0a1.4 1.4 0 1 0 2.8 0a1.4 1.4 0 1 0 -2.8 0M672.3 176.2a1.4 1.4 0 1 0 2.8 0a1.4 1.4 0 1 0 -2.8 0M668.8 179.0a1.4 1.4 0 1 0 2.8 0a1.4 1.4 0 1 0 -2.8 0M672.8 179.4a1.4 1.4 0 1 0 2.8 0a1.4 1.4 0 1 0 -2.8 0M664.8 179.4a1.4 1.4 0 1 0 2.8 0a1.4 1.4 0 1 0 -2.8 0M676.8 179.5a1.4 1.4 0 1 0 2.8 0a1.4 1.4 0 1 0 -2.8 0M661.3 180.3a1.4 1.4 0 1 0 2.8 0a1.4 1.4 0 1 0 -2.8 0M680.3 180.8a1.4 1.4 0 1 0 2.8 0a1.4 1.4 0 1 0 -2.8 0M668.8 182.8a1.4 1.4 0 1 0 2.8 0a1.4 1.4 0 1 0 -2.8 0M672.3 183.7a1.4 1.4 0 1 0 2.8 0a1.4 1.4 0 1 0 -2.8 0M665.3 184.4a1.4 1.4 0 1 0 2.8 0a1.4 1.4 0 1 0 -2.8 0M668.8 187.5a1.4 1.4 0 1 0 2.8 0a1.4 1.4 0 1 0 -2.8 0M672.8 188.0a1.4 1.4 0 1 0 2.8 0a1.4 1.4 0 1 0 -2.8 0M665.3 188.4a1.4 1.4 0 1 0 2.8 0a1.4 1.4 0 1 0 -2.8 0M661.8 189.4a1.4 1.4 0 1 0 2.8 0a1.4 1.4 0 1 0 -2.8 0M668.8 192.7a1.4 1.4 0 1 0 2.8 0a1.4 1.4 0 1 0 -2.8 0M671.3 194.9a1.4 1.4 0 1 0 2.8 0a1.4 1.4 0 1 0 -2.8 0M667.8 196.2a1.4 1.4 0 1 0 2.8 0a1.4 1.4 0 1 0 -2.8 0M673.3 197.6a1.4 1.4 0 1 0 2.8 0a1.4 1.4 0 1 0 -2.8 0M664.8 198.1a1.4 1.4 0 1 0 2.8 0a1.4 1.4 0 1 0 -2.8 0M668.8 199.3a1.4 1.4 0 1 0 2.8 0a1.4 1.4 0 1 0 -2.8 0M675.3 200.1a1.4 1.4 0 1 0 2.8 0a1.4 1.4 0 1 0 -2.8 0M662.8 200.7a1.4 1.4 0 1 0 2.8 0a1.4 1.4 0 1 0 -2.8 0M668.8 203.2a1.4 1.4 0 1 0 2.8 0a1.4 1.4 0 1 0 -2.8 0M672.8 203.4a1.4 1.4 0 1 0 2.8 0a1.4 1.4 0 1 0 -2.8 0M665.3 204.4a1.4 1.4 0 1 0 2.8 0a1.4 1.4 0 1 0 -2.8 0M676.3 204.4a1.4 1.4 0 1 0 2.8 0a1.4 1.4 0 1 0 -2.8 0" fill="#0a72bd"/>
<path d="M634.1 32.6 V27.4 H670.5 V32.6" fill="none" stroke="#000" stroke-width="1"/>
<text x="652.2" y="27.5" font-size="8.5" text-anchor="middle" fill="#000">***</text>
<text x="639.6" y="214.0" font-size="9.8" text-anchor="end" fill="#000" transform="rotate(-45 639.6 214.0)">Distancing</text>
<text x="675.2" y="214.0" font-size="9.8" text-anchor="end" fill="#000" transform="rotate(-45 675.2 214.0)">Dodging</text>
</svg>
</body></html>
